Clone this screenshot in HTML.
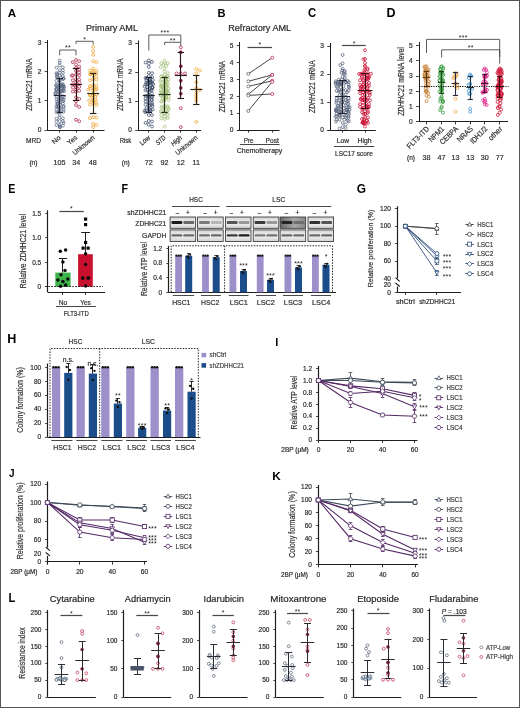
<!DOCTYPE html>
<html><head><meta charset="utf-8"><style>
html,body{margin:0;padding:0;background:#fff;}
body{width:520px;height:708px;overflow:hidden;}
.fig{position:absolute;left:0;top:0;width:520px;height:708px;box-sizing:border-box;border:1px solid #555;}
svg{position:absolute;left:0;top:0;filter:blur(0.3px);}
svg text{font-family:"Liberation Sans", sans-serif;}
</style></head><body>
<div class="fig"></div>
<svg width="520" height="708" viewBox="0 0 520 708">
<defs><filter id="bl" x="-20%" y="-60%" width="140%" height="220%"><feGaussianBlur stdDeviation="0.45"/></filter></defs>
<text transform="translate(7.76 16.55) scale(1.039 1)" font-size="11.19" font-weight="bold" fill="#000">A</text>
<text x="112" y="28" font-size="8.6" text-anchor="middle" fill="#2a2a2a" stroke="#2a2a2a" stroke-width="0.2" textLength="52" lengthAdjust="spacingAndGlyphs" dy="0.35em">Primary AML</text>
<line x1="47.5" y1="40" x2="47.5" y2="130.3" stroke="#1e1e1e" stroke-width="1"/>
<line x1="44.6" y1="130.5" x2="47.6" y2="130.5" stroke="#1e1e1e" stroke-width="0.8"/>
<text x="41.3" y="130" font-size="6.6" text-anchor="end" fill="#2e2e2e" stroke="#2e2e2e" stroke-width="0.2" dy="0.35em">0</text>
<line x1="44.6" y1="100.5" x2="47.6" y2="100.5" stroke="#1e1e1e" stroke-width="0.8"/>
<text x="41.3" y="100.8" font-size="6.6" text-anchor="end" fill="#2e2e2e" stroke="#2e2e2e" stroke-width="0.2" dy="0.35em">1</text>
<line x1="44.6" y1="71.5" x2="47.6" y2="71.5" stroke="#1e1e1e" stroke-width="0.8"/>
<text x="41.3" y="71.6" font-size="6.6" text-anchor="end" fill="#2e2e2e" stroke="#2e2e2e" stroke-width="0.2" dy="0.35em">2</text>
<line x1="44.6" y1="42.5" x2="47.6" y2="42.5" stroke="#1e1e1e" stroke-width="0.8"/>
<text x="41.3" y="42.4" font-size="6.6" text-anchor="end" fill="#2e2e2e" stroke="#2e2e2e" stroke-width="0.2" dy="0.35em">3</text>
<line x1="47.3" y1="130.5" x2="104.5" y2="130.5" stroke="#1e1e1e" stroke-width="1.2"/>
<line x1="59.5" y1="130" x2="59.5" y2="132.6" stroke="#1e1e1e" stroke-width="0.9"/>
<line x1="76.5" y1="130" x2="76.5" y2="132.6" stroke="#1e1e1e" stroke-width="0.9"/>
<line x1="93.5" y1="130" x2="93.5" y2="132.6" stroke="#1e1e1e" stroke-width="0.9"/>
<text x="31.8" y="84.7" font-size="8.5" text-anchor="middle" fill="#333" stroke="#333" stroke-width="0.2" textLength="52.2" lengthAdjust="spacingAndGlyphs" transform="rotate(-90 31.8 84.7)"><tspan font-style="italic">ZDHHC21</tspan> mRNA</text>
<circle cx="59.7" cy="60.5" r="1.45" fill="none" stroke="#5f6e88" stroke-width="0.75"/>
<circle cx="59.7" cy="62.84" r="1.45" fill="none" stroke="#5f6e88" stroke-width="0.75"/>
<circle cx="59.7" cy="65.45" r="1.45" fill="none" stroke="#5f6e88" stroke-width="0.75"/>
<circle cx="62.9" cy="67.33" r="1.45" fill="none" stroke="#5f6e88" stroke-width="0.75"/>
<circle cx="56.5" cy="67.62" r="1.45" fill="none" stroke="#5f6e88" stroke-width="0.75"/>
<circle cx="59.7" cy="70.26" r="1.45" fill="none" stroke="#5f6e88" stroke-width="0.75"/>
<circle cx="62.9" cy="70.3" r="1.45" fill="none" stroke="#5f6e88" stroke-width="0.75"/>
<circle cx="59.7" cy="72.66" r="1.45" fill="none" stroke="#5f6e88" stroke-width="0.75"/>
<circle cx="62.9" cy="72.96" r="1.45" fill="none" stroke="#5f6e88" stroke-width="0.75"/>
<circle cx="56.5" cy="73.09" r="1.45" fill="none" stroke="#5f6e88" stroke-width="0.75"/>
<circle cx="57.13" cy="74.15" r="1.45" fill="none" stroke="#5f6e88" stroke-width="0.75"/>
<circle cx="57.19" cy="74.57" r="1.45" fill="none" stroke="#5f6e88" stroke-width="0.75"/>
<circle cx="59.7" cy="75.47" r="1.45" fill="none" stroke="#5f6e88" stroke-width="0.75"/>
<circle cx="62.9" cy="76.06" r="1.45" fill="none" stroke="#5f6e88" stroke-width="0.75"/>
<circle cx="56.91" cy="76.24" r="1.45" fill="none" stroke="#5f6e88" stroke-width="0.75"/>
<circle cx="56.98" cy="77.38" r="1.45" fill="none" stroke="#5f6e88" stroke-width="0.75"/>
<circle cx="60.84" cy="77.68" r="1.45" fill="none" stroke="#5f6e88" stroke-width="0.75"/>
<circle cx="63.7" cy="78.42" r="1.45" fill="none" stroke="#5f6e88" stroke-width="0.75"/>
<circle cx="63.38" cy="78.81" r="1.45" fill="none" stroke="#5f6e88" stroke-width="0.75"/>
<circle cx="62.83" cy="78.97" r="1.45" fill="none" stroke="#5f6e88" stroke-width="0.75"/>
<circle cx="59.7" cy="80.56" r="1.45" fill="none" stroke="#5f6e88" stroke-width="0.75"/>
<circle cx="56.5" cy="80.79" r="1.45" fill="none" stroke="#5f6e88" stroke-width="0.75"/>
<circle cx="59.51" cy="81.04" r="1.45" fill="none" stroke="#5f6e88" stroke-width="0.75"/>
<circle cx="59.7" cy="83.82" r="1.45" fill="none" stroke="#5f6e88" stroke-width="0.75"/>
<circle cx="62.9" cy="84.16" r="1.45" fill="none" stroke="#5f6e88" stroke-width="0.75"/>
<circle cx="56.5" cy="84.47" r="1.45" fill="none" stroke="#5f6e88" stroke-width="0.75"/>
<circle cx="61.11" cy="84.7" r="1.45" fill="none" stroke="#5f6e88" stroke-width="0.75"/>
<circle cx="62.46" cy="84.76" r="1.45" fill="none" stroke="#5f6e88" stroke-width="0.75"/>
<circle cx="55.88" cy="85.41" r="1.45" fill="none" stroke="#5f6e88" stroke-width="0.75"/>
<circle cx="61.18" cy="85.79" r="1.45" fill="none" stroke="#5f6e88" stroke-width="0.75"/>
<circle cx="63.47" cy="85.87" r="1.45" fill="none" stroke="#5f6e88" stroke-width="0.75"/>
<circle cx="62.3" cy="85.95" r="1.45" fill="none" stroke="#5f6e88" stroke-width="0.75"/>
<circle cx="62" cy="86.26" r="1.45" fill="none" stroke="#5f6e88" stroke-width="0.75"/>
<circle cx="59.5" cy="86.42" r="1.45" fill="none" stroke="#5f6e88" stroke-width="0.75"/>
<circle cx="56.74" cy="86.46" r="1.45" fill="none" stroke="#5f6e88" stroke-width="0.75"/>
<circle cx="62.36" cy="86.58" r="1.45" fill="none" stroke="#5f6e88" stroke-width="0.75"/>
<circle cx="58.16" cy="86.67" r="1.45" fill="none" stroke="#5f6e88" stroke-width="0.75"/>
<circle cx="62.47" cy="86.8" r="1.45" fill="none" stroke="#5f6e88" stroke-width="0.75"/>
<circle cx="64.04" cy="86.83" r="1.45" fill="none" stroke="#5f6e88" stroke-width="0.75"/>
<circle cx="58.74" cy="87.93" r="1.45" fill="none" stroke="#5f6e88" stroke-width="0.75"/>
<circle cx="58.79" cy="88.07" r="1.45" fill="none" stroke="#5f6e88" stroke-width="0.75"/>
<circle cx="63.81" cy="88.11" r="1.45" fill="none" stroke="#5f6e88" stroke-width="0.75"/>
<circle cx="61.77" cy="88.63" r="1.45" fill="none" stroke="#5f6e88" stroke-width="0.75"/>
<circle cx="56.66" cy="88.64" r="1.45" fill="none" stroke="#5f6e88" stroke-width="0.75"/>
<circle cx="56.27" cy="89.2" r="1.45" fill="none" stroke="#5f6e88" stroke-width="0.75"/>
<circle cx="56.49" cy="89.28" r="1.45" fill="none" stroke="#5f6e88" stroke-width="0.75"/>
<circle cx="63.42" cy="89.85" r="1.45" fill="none" stroke="#5f6e88" stroke-width="0.75"/>
<circle cx="62.52" cy="90.14" r="1.45" fill="none" stroke="#5f6e88" stroke-width="0.75"/>
<circle cx="56.44" cy="90.19" r="1.45" fill="none" stroke="#5f6e88" stroke-width="0.75"/>
<circle cx="59.7" cy="91.18" r="1.45" fill="none" stroke="#5f6e88" stroke-width="0.75"/>
<circle cx="62.7" cy="91.19" r="1.45" fill="none" stroke="#5f6e88" stroke-width="0.75"/>
<circle cx="64.12" cy="91.24" r="1.45" fill="none" stroke="#5f6e88" stroke-width="0.75"/>
<circle cx="61.15" cy="91.26" r="1.45" fill="none" stroke="#5f6e88" stroke-width="0.75"/>
<circle cx="58.32" cy="91.35" r="1.45" fill="none" stroke="#5f6e88" stroke-width="0.75"/>
<circle cx="60.15" cy="92.3" r="1.45" fill="none" stroke="#5f6e88" stroke-width="0.75"/>
<circle cx="55.7" cy="92.79" r="1.45" fill="none" stroke="#5f6e88" stroke-width="0.75"/>
<circle cx="56.31" cy="93.43" r="1.45" fill="none" stroke="#5f6e88" stroke-width="0.75"/>
<circle cx="55.23" cy="93.45" r="1.45" fill="none" stroke="#5f6e88" stroke-width="0.75"/>
<circle cx="59.7" cy="94.69" r="1.45" fill="none" stroke="#5f6e88" stroke-width="0.75"/>
<circle cx="62.9" cy="96.35" r="1.45" fill="none" stroke="#5f6e88" stroke-width="0.75"/>
<circle cx="56.5" cy="96.64" r="1.45" fill="none" stroke="#5f6e88" stroke-width="0.75"/>
<circle cx="59.7" cy="97.4" r="1.45" fill="none" stroke="#5f6e88" stroke-width="0.75"/>
<circle cx="64.03" cy="97.41" r="1.45" fill="none" stroke="#5f6e88" stroke-width="0.75"/>
<circle cx="61.08" cy="98.17" r="1.45" fill="none" stroke="#5f6e88" stroke-width="0.75"/>
<circle cx="59.94" cy="98.77" r="1.45" fill="none" stroke="#5f6e88" stroke-width="0.75"/>
<circle cx="56.5" cy="99.28" r="1.45" fill="none" stroke="#5f6e88" stroke-width="0.75"/>
<circle cx="63.69" cy="99.51" r="1.45" fill="none" stroke="#5f6e88" stroke-width="0.75"/>
<circle cx="59.09" cy="100.03" r="1.45" fill="none" stroke="#5f6e88" stroke-width="0.75"/>
<circle cx="63.12" cy="101.06" r="1.45" fill="none" stroke="#5f6e88" stroke-width="0.75"/>
<circle cx="62.7" cy="101.18" r="1.45" fill="none" stroke="#5f6e88" stroke-width="0.75"/>
<circle cx="57.04" cy="101.57" r="1.45" fill="none" stroke="#5f6e88" stroke-width="0.75"/>
<circle cx="59.7" cy="102.81" r="1.45" fill="none" stroke="#5f6e88" stroke-width="0.75"/>
<circle cx="57.42" cy="103.38" r="1.45" fill="none" stroke="#5f6e88" stroke-width="0.75"/>
<circle cx="57.8" cy="103.48" r="1.45" fill="none" stroke="#5f6e88" stroke-width="0.75"/>
<circle cx="62.9" cy="103.75" r="1.45" fill="none" stroke="#5f6e88" stroke-width="0.75"/>
<circle cx="57.31" cy="104.66" r="1.45" fill="none" stroke="#5f6e88" stroke-width="0.75"/>
<circle cx="60.5" cy="104.85" r="1.45" fill="none" stroke="#5f6e88" stroke-width="0.75"/>
<circle cx="63.7" cy="106.26" r="1.45" fill="none" stroke="#5f6e88" stroke-width="0.75"/>
<circle cx="57.49" cy="106.41" r="1.45" fill="none" stroke="#5f6e88" stroke-width="0.75"/>
<circle cx="58.95" cy="106.65" r="1.45" fill="none" stroke="#5f6e88" stroke-width="0.75"/>
<circle cx="56.31" cy="106.8" r="1.45" fill="none" stroke="#5f6e88" stroke-width="0.75"/>
<circle cx="63.47" cy="107.13" r="1.45" fill="none" stroke="#5f6e88" stroke-width="0.75"/>
<circle cx="58.35" cy="107.13" r="1.45" fill="none" stroke="#5f6e88" stroke-width="0.75"/>
<circle cx="59.32" cy="108.44" r="1.45" fill="none" stroke="#5f6e88" stroke-width="0.75"/>
<circle cx="60.47" cy="108.5" r="1.45" fill="none" stroke="#5f6e88" stroke-width="0.75"/>
<circle cx="56.5" cy="109.7" r="1.45" fill="none" stroke="#5f6e88" stroke-width="0.75"/>
<circle cx="63.7" cy="109.86" r="1.45" fill="none" stroke="#5f6e88" stroke-width="0.75"/>
<circle cx="59.7" cy="111.13" r="1.45" fill="none" stroke="#5f6e88" stroke-width="0.75"/>
<circle cx="63.42" cy="111.84" r="1.45" fill="none" stroke="#5f6e88" stroke-width="0.75"/>
<circle cx="56.5" cy="112.31" r="1.45" fill="none" stroke="#5f6e88" stroke-width="0.75"/>
<circle cx="58.97" cy="112.5" r="1.45" fill="none" stroke="#5f6e88" stroke-width="0.75"/>
<circle cx="59.7" cy="115.16" r="1.45" fill="none" stroke="#5f6e88" stroke-width="0.75"/>
<circle cx="59.7" cy="117.7" r="1.45" fill="none" stroke="#5f6e88" stroke-width="0.75"/>
<circle cx="62.9" cy="118.31" r="1.45" fill="none" stroke="#5f6e88" stroke-width="0.75"/>
<circle cx="56.5" cy="118.52" r="1.45" fill="none" stroke="#5f6e88" stroke-width="0.75"/>
<circle cx="59.7" cy="121.08" r="1.45" fill="none" stroke="#5f6e88" stroke-width="0.75"/>
<circle cx="62.9" cy="121.2" r="1.45" fill="none" stroke="#5f6e88" stroke-width="0.75"/>
<circle cx="56.5" cy="121.64" r="1.45" fill="none" stroke="#5f6e88" stroke-width="0.75"/>
<circle cx="63.54" cy="123.02" r="1.45" fill="none" stroke="#5f6e88" stroke-width="0.75"/>
<circle cx="59.7" cy="124.73" r="1.45" fill="none" stroke="#5f6e88" stroke-width="0.75"/>
<circle cx="56.5" cy="125.18" r="1.45" fill="none" stroke="#5f6e88" stroke-width="0.75"/>
<circle cx="62.9" cy="125.62" r="1.45" fill="none" stroke="#5f6e88" stroke-width="0.75"/>
<circle cx="59.72" cy="126.1" r="1.45" fill="none" stroke="#5f6e88" stroke-width="0.75"/>
<circle cx="59.99" cy="127.08" r="1.45" fill="none" stroke="#5f6e88" stroke-width="0.75"/>
<circle cx="59.92" cy="127.28" r="1.45" fill="none" stroke="#5f6e88" stroke-width="0.75"/>
<circle cx="76" cy="59.92" r="1.45" fill="none" stroke="#b0244a" stroke-width="0.75"/>
<circle cx="79.2" cy="61.2" r="1.45" fill="none" stroke="#b0244a" stroke-width="0.75"/>
<circle cx="72.8" cy="62.18" r="1.45" fill="none" stroke="#b0244a" stroke-width="0.75"/>
<circle cx="76" cy="64.49" r="1.45" fill="none" stroke="#b0244a" stroke-width="0.75"/>
<circle cx="79.2" cy="66.61" r="1.45" fill="none" stroke="#b0244a" stroke-width="0.75"/>
<circle cx="76" cy="68.01" r="1.45" fill="none" stroke="#b0244a" stroke-width="0.75"/>
<circle cx="79.2" cy="69.54" r="1.45" fill="none" stroke="#b0244a" stroke-width="0.75"/>
<circle cx="76" cy="70.94" r="1.45" fill="none" stroke="#b0244a" stroke-width="0.75"/>
<circle cx="79.2" cy="72.47" r="1.45" fill="none" stroke="#b0244a" stroke-width="0.75"/>
<circle cx="76" cy="74.6" r="1.45" fill="none" stroke="#b0244a" stroke-width="0.75"/>
<circle cx="79.2" cy="75.5" r="1.45" fill="none" stroke="#b0244a" stroke-width="0.75"/>
<circle cx="72.8" cy="75.54" r="1.45" fill="none" stroke="#b0244a" stroke-width="0.75"/>
<circle cx="71.76" cy="75.65" r="1.45" fill="none" stroke="#b0244a" stroke-width="0.75"/>
<circle cx="76" cy="79.2" r="1.45" fill="none" stroke="#b0244a" stroke-width="0.75"/>
<circle cx="79.2" cy="79.52" r="1.45" fill="none" stroke="#b0244a" stroke-width="0.75"/>
<circle cx="72.8" cy="80.28" r="1.45" fill="none" stroke="#b0244a" stroke-width="0.75"/>
<circle cx="76" cy="82.29" r="1.45" fill="none" stroke="#b0244a" stroke-width="0.75"/>
<circle cx="79.2" cy="82.45" r="1.45" fill="none" stroke="#b0244a" stroke-width="0.75"/>
<circle cx="72.8" cy="84.31" r="1.45" fill="none" stroke="#b0244a" stroke-width="0.75"/>
<circle cx="76" cy="84.73" r="1.45" fill="none" stroke="#b0244a" stroke-width="0.75"/>
<circle cx="79.2" cy="86.9" r="1.45" fill="none" stroke="#b0244a" stroke-width="0.75"/>
<circle cx="76" cy="87.13" r="1.45" fill="none" stroke="#b0244a" stroke-width="0.75"/>
<circle cx="72.8" cy="87.57" r="1.45" fill="none" stroke="#b0244a" stroke-width="0.75"/>
<circle cx="76" cy="89.53" r="1.45" fill="none" stroke="#b0244a" stroke-width="0.75"/>
<circle cx="79.2" cy="90.72" r="1.45" fill="none" stroke="#b0244a" stroke-width="0.75"/>
<circle cx="72.8" cy="91.61" r="1.45" fill="none" stroke="#b0244a" stroke-width="0.75"/>
<circle cx="76" cy="91.88" r="1.45" fill="none" stroke="#b0244a" stroke-width="0.75"/>
<circle cx="76" cy="97.38" r="1.45" fill="none" stroke="#b0244a" stroke-width="0.75"/>
<circle cx="79.2" cy="98.88" r="1.45" fill="none" stroke="#b0244a" stroke-width="0.75"/>
<circle cx="76" cy="101.23" r="1.45" fill="none" stroke="#b0244a" stroke-width="0.75"/>
<circle cx="76" cy="105.11" r="1.45" fill="none" stroke="#b0244a" stroke-width="0.75"/>
<circle cx="79.2" cy="106.9" r="1.45" fill="none" stroke="#b0244a" stroke-width="0.75"/>
<circle cx="76" cy="119.78" r="1.45" fill="none" stroke="#b0244a" stroke-width="0.75"/>
<circle cx="79.2" cy="121.24" r="1.45" fill="none" stroke="#b0244a" stroke-width="0.75"/>
<circle cx="93.2" cy="46.78" r="1.45" fill="none" stroke="#eea028" stroke-width="0.75"/>
<circle cx="93.2" cy="51.16" r="1.45" fill="none" stroke="#eea028" stroke-width="0.75"/>
<circle cx="93.2" cy="54.87" r="1.45" fill="none" stroke="#eea028" stroke-width="0.75"/>
<circle cx="93.2" cy="61.26" r="1.45" fill="none" stroke="#eea028" stroke-width="0.75"/>
<circle cx="96.4" cy="62.15" r="1.45" fill="none" stroke="#eea028" stroke-width="0.75"/>
<circle cx="93.2" cy="68.38" r="1.45" fill="none" stroke="#eea028" stroke-width="0.75"/>
<circle cx="96.4" cy="70.55" r="1.45" fill="none" stroke="#eea028" stroke-width="0.75"/>
<circle cx="90" cy="70.61" r="1.45" fill="none" stroke="#eea028" stroke-width="0.75"/>
<circle cx="93.2" cy="71.46" r="1.45" fill="none" stroke="#eea028" stroke-width="0.75"/>
<circle cx="92.63" cy="72.3" r="1.45" fill="none" stroke="#eea028" stroke-width="0.75"/>
<circle cx="96.4" cy="73.45" r="1.45" fill="none" stroke="#eea028" stroke-width="0.75"/>
<circle cx="90" cy="74.08" r="1.45" fill="none" stroke="#eea028" stroke-width="0.75"/>
<circle cx="90.16" cy="74.27" r="1.45" fill="none" stroke="#eea028" stroke-width="0.75"/>
<circle cx="93.2" cy="75.5" r="1.45" fill="none" stroke="#eea028" stroke-width="0.75"/>
<circle cx="96.4" cy="76.74" r="1.45" fill="none" stroke="#eea028" stroke-width="0.75"/>
<circle cx="93.2" cy="79.14" r="1.45" fill="none" stroke="#eea028" stroke-width="0.75"/>
<circle cx="96.4" cy="79.73" r="1.45" fill="none" stroke="#eea028" stroke-width="0.75"/>
<circle cx="90" cy="80.4" r="1.45" fill="none" stroke="#eea028" stroke-width="0.75"/>
<circle cx="93.2" cy="85.13" r="1.45" fill="none" stroke="#eea028" stroke-width="0.75"/>
<circle cx="96.4" cy="85.39" r="1.45" fill="none" stroke="#eea028" stroke-width="0.75"/>
<circle cx="90" cy="86.03" r="1.45" fill="none" stroke="#eea028" stroke-width="0.75"/>
<circle cx="93.2" cy="87.57" r="1.45" fill="none" stroke="#eea028" stroke-width="0.75"/>
<circle cx="96.4" cy="88.37" r="1.45" fill="none" stroke="#eea028" stroke-width="0.75"/>
<circle cx="90" cy="88.48" r="1.45" fill="none" stroke="#eea028" stroke-width="0.75"/>
<circle cx="88.44" cy="89.48" r="1.45" fill="none" stroke="#eea028" stroke-width="0.75"/>
<circle cx="96.07" cy="89.8" r="1.45" fill="none" stroke="#eea028" stroke-width="0.75"/>
<circle cx="93.2" cy="90.53" r="1.45" fill="none" stroke="#eea028" stroke-width="0.75"/>
<circle cx="93.2" cy="93.78" r="1.45" fill="none" stroke="#eea028" stroke-width="0.75"/>
<circle cx="96.4" cy="94.82" r="1.45" fill="none" stroke="#eea028" stroke-width="0.75"/>
<circle cx="90" cy="94.9" r="1.45" fill="none" stroke="#eea028" stroke-width="0.75"/>
<circle cx="90.05" cy="95.36" r="1.45" fill="none" stroke="#eea028" stroke-width="0.75"/>
<circle cx="92.95" cy="95.59" r="1.45" fill="none" stroke="#eea028" stroke-width="0.75"/>
<circle cx="95.36" cy="96.64" r="1.45" fill="none" stroke="#eea028" stroke-width="0.75"/>
<circle cx="92.4" cy="98.24" r="1.45" fill="none" stroke="#eea028" stroke-width="0.75"/>
<circle cx="95.6" cy="99.68" r="1.45" fill="none" stroke="#eea028" stroke-width="0.75"/>
<circle cx="92.4" cy="100.58" r="1.45" fill="none" stroke="#eea028" stroke-width="0.75"/>
<circle cx="89.2" cy="100.67" r="1.45" fill="none" stroke="#eea028" stroke-width="0.75"/>
<circle cx="93.74" cy="100.93" r="1.45" fill="none" stroke="#eea028" stroke-width="0.75"/>
<circle cx="96.4" cy="102.56" r="1.45" fill="none" stroke="#eea028" stroke-width="0.75"/>
<circle cx="93.2" cy="103.74" r="1.45" fill="none" stroke="#eea028" stroke-width="0.75"/>
<circle cx="90" cy="104.48" r="1.45" fill="none" stroke="#eea028" stroke-width="0.75"/>
<circle cx="96.4" cy="105.15" r="1.45" fill="none" stroke="#eea028" stroke-width="0.75"/>
<circle cx="93.2" cy="117.13" r="1.45" fill="none" stroke="#eea028" stroke-width="0.75"/>
<circle cx="96.4" cy="117.61" r="1.45" fill="none" stroke="#eea028" stroke-width="0.75"/>
<circle cx="90" cy="118.07" r="1.45" fill="none" stroke="#eea028" stroke-width="0.75"/>
<circle cx="93.2" cy="123.93" r="1.45" fill="none" stroke="#eea028" stroke-width="0.75"/>
<circle cx="96.4" cy="124.87" r="1.45" fill="none" stroke="#eea028" stroke-width="0.75"/>
<circle cx="93.2" cy="127.08" r="1.45" fill="none" stroke="#eea028" stroke-width="0.75"/>
<line x1="59.5" y1="78.61" x2="59.5" y2="112.48" stroke="#1e2430" stroke-width="1.15"/>
<line x1="56.5" y1="78.5" x2="62.9" y2="78.5" stroke="#1e2430" stroke-width="1.15"/>
<line x1="56.5" y1="112.5" x2="62.9" y2="112.5" stroke="#1e2430" stroke-width="1.15"/>
<line x1="53.7" y1="95.5" x2="65.7" y2="95.5" stroke="#1e2430" stroke-width="1.15"/>
<line x1="76.5" y1="68.68" x2="76.5" y2="100.8" stroke="#2a1018" stroke-width="1.15"/>
<line x1="72.8" y1="68.5" x2="79.2" y2="68.5" stroke="#2a1018" stroke-width="1.15"/>
<line x1="72.8" y1="100.5" x2="79.2" y2="100.5" stroke="#2a1018" stroke-width="1.15"/>
<line x1="70" y1="84.5" x2="82" y2="84.5" stroke="#2a1018" stroke-width="1.15"/>
<line x1="93.5" y1="73.06" x2="93.5" y2="113.94" stroke="#2a2418" stroke-width="1.15"/>
<line x1="90" y1="73.5" x2="96.4" y2="73.5" stroke="#2a2418" stroke-width="1.15"/>
<line x1="90" y1="113.5" x2="96.4" y2="113.5" stroke="#2a2418" stroke-width="1.15"/>
<line x1="87.2" y1="93.5" x2="99.2" y2="93.5" stroke="#2a2418" stroke-width="1.15"/>
<polyline points="59.7,55.3 59.7,50 76,50 76,55.3" stroke="#333" stroke-width="0.8" fill="none"/>
<text x="67.97" y="50.2" font-size="7" text-anchor="middle" fill="#222" letter-spacing="0.25">**</text>
<polyline points="76,44 76,41.3 93.2,41.3 93.2,44.4" stroke="#333" stroke-width="0.8" fill="none"/>
<text x="84.72" y="41.5" font-size="7" text-anchor="middle" fill="#222" letter-spacing="0.25">*</text>
<text x="33.5" y="140.3" font-size="6.8" text-anchor="middle" fill="#2e2e2e" stroke="#2e2e2e" stroke-width="0.2" textLength="15" lengthAdjust="spacingAndGlyphs" dy="0.35em">MRD</text>
<text x="58.2" y="134.8" font-size="6.9" text-anchor="end" fill="#2e2e2e" stroke="#2e2e2e" stroke-width="0.2" textLength="9.2" lengthAdjust="spacingAndGlyphs" dy="0.7em" transform="rotate(-40 58.2 134.8)">No</text>
<text x="74.6" y="134.8" font-size="6.9" text-anchor="end" fill="#2e2e2e" stroke="#2e2e2e" stroke-width="0.2" textLength="10.6" lengthAdjust="spacingAndGlyphs" dy="0.7em" transform="rotate(-40 74.6 134.8)">Yes</text>
<text x="92.2" y="134.8" font-size="6.9" text-anchor="end" fill="#2e2e2e" stroke="#2e2e2e" stroke-width="0.2" textLength="26.5" lengthAdjust="spacingAndGlyphs" dy="0.7em" transform="rotate(-40 92.2 134.8)">Unknown</text>
<text x="33.4" y="162.3" font-size="6.5" text-anchor="middle" fill="#2e2e2e" stroke="#2e2e2e" stroke-width="0.2" dy="0.35em">(n)</text>
<text x="59.6" y="162.3" font-size="7.2" text-anchor="middle" fill="#2e2e2e" stroke="#2e2e2e" stroke-width="0.2" dy="0.35em">105</text>
<text x="76.2" y="162.3" font-size="7.2" text-anchor="middle" fill="#2e2e2e" stroke="#2e2e2e" stroke-width="0.2" dy="0.35em">34</text>
<text x="92.8" y="162.3" font-size="7.2" text-anchor="middle" fill="#2e2e2e" stroke="#2e2e2e" stroke-width="0.2" dy="0.35em">48</text>
<line x1="138.5" y1="40.5" x2="138.5" y2="130.3" stroke="#1e1e1e" stroke-width="1"/>
<line x1="135.2" y1="130.5" x2="138.2" y2="130.5" stroke="#1e1e1e" stroke-width="0.8"/>
<text x="131.9" y="130" font-size="6.6" text-anchor="end" fill="#2e2e2e" stroke="#2e2e2e" stroke-width="0.2" dy="0.35em">0</text>
<line x1="135.2" y1="101.5" x2="138.2" y2="101.5" stroke="#1e1e1e" stroke-width="0.8"/>
<text x="131.9" y="101" font-size="6.6" text-anchor="end" fill="#2e2e2e" stroke="#2e2e2e" stroke-width="0.2" dy="0.35em">1</text>
<line x1="135.2" y1="72.5" x2="138.2" y2="72.5" stroke="#1e1e1e" stroke-width="0.8"/>
<text x="131.9" y="72" font-size="6.6" text-anchor="end" fill="#2e2e2e" stroke="#2e2e2e" stroke-width="0.2" dy="0.35em">2</text>
<line x1="135.2" y1="43.5" x2="138.2" y2="43.5" stroke="#1e1e1e" stroke-width="0.8"/>
<text x="131.9" y="43" font-size="6.6" text-anchor="end" fill="#2e2e2e" stroke="#2e2e2e" stroke-width="0.2" dy="0.35em">3</text>
<line x1="138.2" y1="130.5" x2="201" y2="130.5" stroke="#1e1e1e" stroke-width="1.2"/>
<line x1="148.5" y1="130" x2="148.5" y2="132.6" stroke="#1e1e1e" stroke-width="0.9"/>
<line x1="164.5" y1="130" x2="164.5" y2="132.6" stroke="#1e1e1e" stroke-width="0.9"/>
<line x1="180.5" y1="130" x2="180.5" y2="132.6" stroke="#1e1e1e" stroke-width="0.9"/>
<line x1="196.5" y1="130" x2="196.5" y2="132.6" stroke="#1e1e1e" stroke-width="0.9"/>
<text x="122.9" y="84.7" font-size="8.5" text-anchor="middle" fill="#333" stroke="#333" stroke-width="0.2" textLength="52.2" lengthAdjust="spacingAndGlyphs" transform="rotate(-90 122.9 84.7)"><tspan font-style="italic">ZDHHC21</tspan> mRNA</text>
<circle cx="180.8" cy="52.28" r="1.45" fill="#8a1a38" stroke="#8a1a38" stroke-width="0.7"/>
<circle cx="180.8" cy="66.2" r="1.45" fill="#8a1a38" stroke="#8a1a38" stroke-width="0.7"/>
<circle cx="180.8" cy="80.7" r="1.45" fill="#8a1a38" stroke="#8a1a38" stroke-width="0.7"/>
<circle cx="180.8" cy="87.95" r="1.45" fill="#8a1a38" stroke="#8a1a38" stroke-width="0.7"/>
<circle cx="180.8" cy="93.75" r="1.45" fill="#8a1a38" stroke="#8a1a38" stroke-width="0.7"/>
<circle cx="176.6" cy="73.45" r="1.45" fill="#fff" stroke="#b8284f" stroke-width="0.8"/>
<circle cx="180.8" cy="73.45" r="1.45" fill="#fff" stroke="#b8284f" stroke-width="0.8"/>
<circle cx="185" cy="73.45" r="1.45" fill="#fff" stroke="#b8284f" stroke-width="0.8"/>
<circle cx="148.8" cy="60.4" r="1.45" fill="none" stroke="#3d4c6a" stroke-width="0.75"/>
<circle cx="152" cy="61.85" r="1.45" fill="none" stroke="#3d4c6a" stroke-width="0.75"/>
<circle cx="145.6" cy="62.56" r="1.45" fill="none" stroke="#3d4c6a" stroke-width="0.75"/>
<circle cx="148.8" cy="63.47" r="1.45" fill="none" stroke="#3d4c6a" stroke-width="0.75"/>
<circle cx="148.8" cy="66.87" r="1.45" fill="none" stroke="#3d4c6a" stroke-width="0.75"/>
<circle cx="148.8" cy="72.77" r="1.45" fill="none" stroke="#3d4c6a" stroke-width="0.75"/>
<circle cx="152" cy="73.18" r="1.45" fill="none" stroke="#3d4c6a" stroke-width="0.75"/>
<circle cx="148.8" cy="76.03" r="1.45" fill="none" stroke="#3d4c6a" stroke-width="0.75"/>
<circle cx="152" cy="77.14" r="1.45" fill="none" stroke="#3d4c6a" stroke-width="0.75"/>
<circle cx="145.6" cy="77.82" r="1.45" fill="none" stroke="#3d4c6a" stroke-width="0.75"/>
<circle cx="147" cy="78.26" r="1.45" fill="none" stroke="#3d4c6a" stroke-width="0.75"/>
<circle cx="149.6" cy="79.68" r="1.45" fill="none" stroke="#3d4c6a" stroke-width="0.75"/>
<circle cx="152.8" cy="80.02" r="1.45" fill="none" stroke="#3d4c6a" stroke-width="0.75"/>
<circle cx="146.34" cy="80.12" r="1.45" fill="none" stroke="#3d4c6a" stroke-width="0.75"/>
<circle cx="149.59" cy="80.2" r="1.45" fill="none" stroke="#3d4c6a" stroke-width="0.75"/>
<circle cx="149.07" cy="81.32" r="1.45" fill="none" stroke="#3d4c6a" stroke-width="0.75"/>
<circle cx="151.1" cy="81.66" r="1.45" fill="none" stroke="#3d4c6a" stroke-width="0.75"/>
<circle cx="150.25" cy="81.87" r="1.45" fill="none" stroke="#3d4c6a" stroke-width="0.75"/>
<circle cx="150.79" cy="82.08" r="1.45" fill="none" stroke="#3d4c6a" stroke-width="0.75"/>
<circle cx="146.4" cy="82.63" r="1.45" fill="none" stroke="#3d4c6a" stroke-width="0.75"/>
<circle cx="152.29" cy="83.01" r="1.45" fill="none" stroke="#3d4c6a" stroke-width="0.75"/>
<circle cx="147.78" cy="83.6" r="1.45" fill="none" stroke="#3d4c6a" stroke-width="0.75"/>
<circle cx="147.2" cy="83.99" r="1.45" fill="none" stroke="#3d4c6a" stroke-width="0.75"/>
<circle cx="153.26" cy="84.1" r="1.45" fill="none" stroke="#3d4c6a" stroke-width="0.75"/>
<circle cx="145.58" cy="84.48" r="1.45" fill="none" stroke="#3d4c6a" stroke-width="0.75"/>
<circle cx="150.86" cy="84.75" r="1.45" fill="none" stroke="#3d4c6a" stroke-width="0.75"/>
<circle cx="150.12" cy="85.76" r="1.45" fill="none" stroke="#3d4c6a" stroke-width="0.75"/>
<circle cx="144.6" cy="86.41" r="1.45" fill="none" stroke="#3d4c6a" stroke-width="0.75"/>
<circle cx="147.2" cy="87.11" r="1.45" fill="none" stroke="#3d4c6a" stroke-width="0.75"/>
<circle cx="152.8" cy="87.31" r="1.45" fill="none" stroke="#3d4c6a" stroke-width="0.75"/>
<circle cx="151.88" cy="87.61" r="1.45" fill="none" stroke="#3d4c6a" stroke-width="0.75"/>
<circle cx="152.41" cy="88.01" r="1.45" fill="none" stroke="#3d4c6a" stroke-width="0.75"/>
<circle cx="149.97" cy="89.08" r="1.45" fill="none" stroke="#3d4c6a" stroke-width="0.75"/>
<circle cx="147.2" cy="89.69" r="1.45" fill="none" stroke="#3d4c6a" stroke-width="0.75"/>
<circle cx="150.95" cy="89.71" r="1.45" fill="none" stroke="#3d4c6a" stroke-width="0.75"/>
<circle cx="151.67" cy="90.28" r="1.45" fill="none" stroke="#3d4c6a" stroke-width="0.75"/>
<circle cx="145.48" cy="90.3" r="1.45" fill="none" stroke="#3d4c6a" stroke-width="0.75"/>
<circle cx="148.8" cy="92.41" r="1.45" fill="none" stroke="#3d4c6a" stroke-width="0.75"/>
<circle cx="152" cy="93.49" r="1.45" fill="none" stroke="#3d4c6a" stroke-width="0.75"/>
<circle cx="148.8" cy="95.07" r="1.45" fill="none" stroke="#3d4c6a" stroke-width="0.75"/>
<circle cx="145.6" cy="95.78" r="1.45" fill="none" stroke="#3d4c6a" stroke-width="0.75"/>
<circle cx="152" cy="96.34" r="1.45" fill="none" stroke="#3d4c6a" stroke-width="0.75"/>
<circle cx="149.02" cy="96.7" r="1.45" fill="none" stroke="#3d4c6a" stroke-width="0.75"/>
<circle cx="148.84" cy="97.17" r="1.45" fill="none" stroke="#3d4c6a" stroke-width="0.75"/>
<circle cx="151.88" cy="97.22" r="1.45" fill="none" stroke="#3d4c6a" stroke-width="0.75"/>
<circle cx="145.6" cy="98.49" r="1.45" fill="none" stroke="#3d4c6a" stroke-width="0.75"/>
<circle cx="148.8" cy="99.67" r="1.45" fill="none" stroke="#3d4c6a" stroke-width="0.75"/>
<circle cx="152" cy="99.83" r="1.45" fill="none" stroke="#3d4c6a" stroke-width="0.75"/>
<circle cx="151.6" cy="100.19" r="1.45" fill="none" stroke="#3d4c6a" stroke-width="0.75"/>
<circle cx="145.6" cy="101.24" r="1.45" fill="none" stroke="#3d4c6a" stroke-width="0.75"/>
<circle cx="148.8" cy="102.91" r="1.45" fill="none" stroke="#3d4c6a" stroke-width="0.75"/>
<circle cx="152" cy="103.1" r="1.45" fill="none" stroke="#3d4c6a" stroke-width="0.75"/>
<circle cx="145.6" cy="104.54" r="1.45" fill="none" stroke="#3d4c6a" stroke-width="0.75"/>
<circle cx="151.8" cy="104.71" r="1.45" fill="none" stroke="#3d4c6a" stroke-width="0.75"/>
<circle cx="148.8" cy="105.26" r="1.45" fill="none" stroke="#3d4c6a" stroke-width="0.75"/>
<circle cx="149.57" cy="105.95" r="1.45" fill="none" stroke="#3d4c6a" stroke-width="0.75"/>
<circle cx="152.41" cy="105.99" r="1.45" fill="none" stroke="#3d4c6a" stroke-width="0.75"/>
<circle cx="146.4" cy="108.17" r="1.45" fill="none" stroke="#3d4c6a" stroke-width="0.75"/>
<circle cx="149.6" cy="109.36" r="1.45" fill="none" stroke="#3d4c6a" stroke-width="0.75"/>
<circle cx="152.8" cy="109.55" r="1.45" fill="none" stroke="#3d4c6a" stroke-width="0.75"/>
<circle cx="150.48" cy="109.92" r="1.45" fill="none" stroke="#3d4c6a" stroke-width="0.75"/>
<circle cx="150.58" cy="110.38" r="1.45" fill="none" stroke="#3d4c6a" stroke-width="0.75"/>
<circle cx="146.32" cy="110.44" r="1.45" fill="none" stroke="#3d4c6a" stroke-width="0.75"/>
<circle cx="144.49" cy="110.8" r="1.45" fill="none" stroke="#3d4c6a" stroke-width="0.75"/>
<circle cx="145.42" cy="112.29" r="1.45" fill="none" stroke="#3d4c6a" stroke-width="0.75"/>
<circle cx="148.8" cy="115.03" r="1.45" fill="none" stroke="#3d4c6a" stroke-width="0.75"/>
<circle cx="152" cy="115.04" r="1.45" fill="none" stroke="#3d4c6a" stroke-width="0.75"/>
<circle cx="148.8" cy="120.96" r="1.45" fill="none" stroke="#3d4c6a" stroke-width="0.75"/>
<circle cx="152" cy="121.51" r="1.45" fill="none" stroke="#3d4c6a" stroke-width="0.75"/>
<circle cx="145.6" cy="122.89" r="1.45" fill="none" stroke="#3d4c6a" stroke-width="0.75"/>
<circle cx="148.8" cy="124.77" r="1.45" fill="none" stroke="#3d4c6a" stroke-width="0.75"/>
<circle cx="152" cy="126.52" r="1.45" fill="none" stroke="#3d4c6a" stroke-width="0.75"/>
<circle cx="164.6" cy="60.4" r="1.45" fill="none" stroke="#a6c07a" stroke-width="0.75"/>
<circle cx="164.6" cy="62.94" r="1.45" fill="none" stroke="#a6c07a" stroke-width="0.75"/>
<circle cx="167.8" cy="63.14" r="1.45" fill="none" stroke="#a6c07a" stroke-width="0.75"/>
<circle cx="161.4" cy="63.3" r="1.45" fill="none" stroke="#a6c07a" stroke-width="0.75"/>
<circle cx="163.43" cy="64.99" r="1.45" fill="none" stroke="#a6c07a" stroke-width="0.75"/>
<circle cx="166.2" cy="65.83" r="1.45" fill="none" stroke="#a6c07a" stroke-width="0.75"/>
<circle cx="160.6" cy="67.16" r="1.45" fill="none" stroke="#a6c07a" stroke-width="0.75"/>
<circle cx="164.6" cy="68.8" r="1.45" fill="none" stroke="#a6c07a" stroke-width="0.75"/>
<circle cx="164.6" cy="71.56" r="1.45" fill="none" stroke="#a6c07a" stroke-width="0.75"/>
<circle cx="167.8" cy="73.04" r="1.45" fill="none" stroke="#a6c07a" stroke-width="0.75"/>
<circle cx="164.6" cy="74.96" r="1.45" fill="none" stroke="#a6c07a" stroke-width="0.75"/>
<circle cx="167.8" cy="76.02" r="1.45" fill="none" stroke="#a6c07a" stroke-width="0.75"/>
<circle cx="161.4" cy="76.29" r="1.45" fill="none" stroke="#a6c07a" stroke-width="0.75"/>
<circle cx="161.28" cy="76.57" r="1.45" fill="none" stroke="#a6c07a" stroke-width="0.75"/>
<circle cx="167.42" cy="76.81" r="1.45" fill="none" stroke="#a6c07a" stroke-width="0.75"/>
<circle cx="164.6" cy="77.41" r="1.45" fill="none" stroke="#a6c07a" stroke-width="0.75"/>
<circle cx="165.09" cy="77.56" r="1.45" fill="none" stroke="#a6c07a" stroke-width="0.75"/>
<circle cx="165.67" cy="77.72" r="1.45" fill="none" stroke="#a6c07a" stroke-width="0.75"/>
<circle cx="165.66" cy="78.82" r="1.45" fill="none" stroke="#a6c07a" stroke-width="0.75"/>
<circle cx="161.4" cy="79.41" r="1.45" fill="none" stroke="#a6c07a" stroke-width="0.75"/>
<circle cx="168.6" cy="79.77" r="1.45" fill="none" stroke="#a6c07a" stroke-width="0.75"/>
<circle cx="166.12" cy="80.52" r="1.45" fill="none" stroke="#a6c07a" stroke-width="0.75"/>
<circle cx="164.51" cy="80.89" r="1.45" fill="none" stroke="#a6c07a" stroke-width="0.75"/>
<circle cx="160.43" cy="81" r="1.45" fill="none" stroke="#a6c07a" stroke-width="0.75"/>
<circle cx="167.1" cy="81.75" r="1.45" fill="none" stroke="#a6c07a" stroke-width="0.75"/>
<circle cx="166.69" cy="81.92" r="1.45" fill="none" stroke="#a6c07a" stroke-width="0.75"/>
<circle cx="164.62" cy="82.33" r="1.45" fill="none" stroke="#a6c07a" stroke-width="0.75"/>
<circle cx="161.4" cy="83.52" r="1.45" fill="none" stroke="#a6c07a" stroke-width="0.75"/>
<circle cx="164.9" cy="84.24" r="1.45" fill="none" stroke="#a6c07a" stroke-width="0.75"/>
<circle cx="167.8" cy="84.24" r="1.45" fill="none" stroke="#a6c07a" stroke-width="0.75"/>
<circle cx="165.94" cy="85.23" r="1.45" fill="none" stroke="#a6c07a" stroke-width="0.75"/>
<circle cx="160.95" cy="85.52" r="1.45" fill="none" stroke="#a6c07a" stroke-width="0.75"/>
<circle cx="166.59" cy="85.56" r="1.45" fill="none" stroke="#a6c07a" stroke-width="0.75"/>
<circle cx="162.52" cy="85.97" r="1.45" fill="none" stroke="#a6c07a" stroke-width="0.75"/>
<circle cx="161.03" cy="86.64" r="1.45" fill="none" stroke="#a6c07a" stroke-width="0.75"/>
<circle cx="162.63" cy="86.85" r="1.45" fill="none" stroke="#a6c07a" stroke-width="0.75"/>
<circle cx="166.53" cy="87.06" r="1.45" fill="none" stroke="#a6c07a" stroke-width="0.75"/>
<circle cx="162.12" cy="87.29" r="1.45" fill="none" stroke="#a6c07a" stroke-width="0.75"/>
<circle cx="166.61" cy="88.07" r="1.45" fill="none" stroke="#a6c07a" stroke-width="0.75"/>
<circle cx="168.6" cy="88.37" r="1.45" fill="none" stroke="#a6c07a" stroke-width="0.75"/>
<circle cx="164.55" cy="88.97" r="1.45" fill="none" stroke="#a6c07a" stroke-width="0.75"/>
<circle cx="163.61" cy="89.55" r="1.45" fill="none" stroke="#a6c07a" stroke-width="0.75"/>
<circle cx="160.6" cy="90.08" r="1.45" fill="none" stroke="#a6c07a" stroke-width="0.75"/>
<circle cx="167.8" cy="90.98" r="1.45" fill="none" stroke="#a6c07a" stroke-width="0.75"/>
<circle cx="164.42" cy="91.03" r="1.45" fill="none" stroke="#a6c07a" stroke-width="0.75"/>
<circle cx="166.14" cy="91.36" r="1.45" fill="none" stroke="#a6c07a" stroke-width="0.75"/>
<circle cx="166.84" cy="91.43" r="1.45" fill="none" stroke="#a6c07a" stroke-width="0.75"/>
<circle cx="165.58" cy="91.54" r="1.45" fill="none" stroke="#a6c07a" stroke-width="0.75"/>
<circle cx="165.8" cy="91.56" r="1.45" fill="none" stroke="#a6c07a" stroke-width="0.75"/>
<circle cx="161.05" cy="91.89" r="1.45" fill="none" stroke="#a6c07a" stroke-width="0.75"/>
<circle cx="161.64" cy="93.04" r="1.45" fill="none" stroke="#a6c07a" stroke-width="0.75"/>
<circle cx="162.53" cy="93.58" r="1.45" fill="none" stroke="#a6c07a" stroke-width="0.75"/>
<circle cx="168.6" cy="93.76" r="1.45" fill="none" stroke="#a6c07a" stroke-width="0.75"/>
<circle cx="165.4" cy="94.2" r="1.45" fill="none" stroke="#a6c07a" stroke-width="0.75"/>
<circle cx="166.64" cy="94.51" r="1.45" fill="none" stroke="#a6c07a" stroke-width="0.75"/>
<circle cx="162.96" cy="94.63" r="1.45" fill="none" stroke="#a6c07a" stroke-width="0.75"/>
<circle cx="165.17" cy="94.63" r="1.45" fill="none" stroke="#a6c07a" stroke-width="0.75"/>
<circle cx="160.5" cy="94.99" r="1.45" fill="none" stroke="#a6c07a" stroke-width="0.75"/>
<circle cx="160.91" cy="95.65" r="1.45" fill="none" stroke="#a6c07a" stroke-width="0.75"/>
<circle cx="162.66" cy="96.53" r="1.45" fill="none" stroke="#a6c07a" stroke-width="0.75"/>
<circle cx="166.04" cy="96.78" r="1.45" fill="none" stroke="#a6c07a" stroke-width="0.75"/>
<circle cx="168.6" cy="96.96" r="1.45" fill="none" stroke="#a6c07a" stroke-width="0.75"/>
<circle cx="166.21" cy="97.2" r="1.45" fill="none" stroke="#a6c07a" stroke-width="0.75"/>
<circle cx="166.08" cy="97.91" r="1.45" fill="none" stroke="#a6c07a" stroke-width="0.75"/>
<circle cx="162.84" cy="98.32" r="1.45" fill="none" stroke="#a6c07a" stroke-width="0.75"/>
<circle cx="164.74" cy="98.37" r="1.45" fill="none" stroke="#a6c07a" stroke-width="0.75"/>
<circle cx="168.6" cy="99.78" r="1.45" fill="none" stroke="#a6c07a" stroke-width="0.75"/>
<circle cx="164.3" cy="100.26" r="1.45" fill="none" stroke="#a6c07a" stroke-width="0.75"/>
<circle cx="164.32" cy="100.59" r="1.45" fill="none" stroke="#a6c07a" stroke-width="0.75"/>
<circle cx="161.4" cy="101.26" r="1.45" fill="none" stroke="#a6c07a" stroke-width="0.75"/>
<circle cx="161.4" cy="101.55" r="1.45" fill="none" stroke="#a6c07a" stroke-width="0.75"/>
<circle cx="164.6" cy="105.51" r="1.45" fill="none" stroke="#a6c07a" stroke-width="0.75"/>
<circle cx="167.8" cy="106.21" r="1.45" fill="none" stroke="#a6c07a" stroke-width="0.75"/>
<circle cx="161.4" cy="106.84" r="1.45" fill="none" stroke="#a6c07a" stroke-width="0.75"/>
<circle cx="167.91" cy="107.28" r="1.45" fill="none" stroke="#a6c07a" stroke-width="0.75"/>
<circle cx="162.07" cy="107.64" r="1.45" fill="none" stroke="#a6c07a" stroke-width="0.75"/>
<circle cx="164.6" cy="107.9" r="1.45" fill="none" stroke="#a6c07a" stroke-width="0.75"/>
<circle cx="168.62" cy="108.99" r="1.45" fill="none" stroke="#a6c07a" stroke-width="0.75"/>
<circle cx="168.26" cy="109.79" r="1.45" fill="none" stroke="#a6c07a" stroke-width="0.75"/>
<circle cx="164.6" cy="110.81" r="1.45" fill="none" stroke="#a6c07a" stroke-width="0.75"/>
<circle cx="161.4" cy="111.42" r="1.45" fill="none" stroke="#a6c07a" stroke-width="0.75"/>
<circle cx="160.55" cy="111.57" r="1.45" fill="none" stroke="#a6c07a" stroke-width="0.75"/>
<circle cx="167.8" cy="112.71" r="1.45" fill="none" stroke="#a6c07a" stroke-width="0.75"/>
<circle cx="164.6" cy="113.46" r="1.45" fill="none" stroke="#a6c07a" stroke-width="0.75"/>
<circle cx="164.26" cy="113.48" r="1.45" fill="none" stroke="#a6c07a" stroke-width="0.75"/>
<circle cx="161.4" cy="114.93" r="1.45" fill="none" stroke="#a6c07a" stroke-width="0.75"/>
<circle cx="167.8" cy="115.4" r="1.45" fill="none" stroke="#a6c07a" stroke-width="0.75"/>
<circle cx="164.6" cy="116.52" r="1.45" fill="none" stroke="#a6c07a" stroke-width="0.75"/>
<circle cx="167.8" cy="118.02" r="1.45" fill="none" stroke="#a6c07a" stroke-width="0.75"/>
<circle cx="161.4" cy="118.45" r="1.45" fill="none" stroke="#a6c07a" stroke-width="0.75"/>
<circle cx="164.6" cy="119.02" r="1.45" fill="none" stroke="#a6c07a" stroke-width="0.75"/>
<circle cx="164.6" cy="126.52" r="1.45" fill="none" stroke="#a6c07a" stroke-width="0.75"/>
<circle cx="180.8" cy="47.35" r="1.45" fill="none" stroke="#b8284f" stroke-width="0.8"/>
<circle cx="180.8" cy="108.25" r="1.45" fill="none" stroke="#b8284f" stroke-width="0.8"/>
<circle cx="180.8" cy="127.1" r="1.45" fill="none" stroke="#b8284f" stroke-width="0.8"/>
<circle cx="196.3" cy="69.1" r="1.45" fill="none" stroke="#f1a530" stroke-width="0.8"/>
<circle cx="199.9" cy="70.55" r="1.45" fill="none" stroke="#f1a530" stroke-width="0.8"/>
<circle cx="196.3" cy="73.45" r="1.45" fill="none" stroke="#f1a530" stroke-width="0.8"/>
<circle cx="196.3" cy="82.15" r="1.45" fill="none" stroke="#f1a530" stroke-width="0.8"/>
<circle cx="196.3" cy="87.95" r="1.45" fill="none" stroke="#f1a530" stroke-width="0.8"/>
<circle cx="199.9" cy="89.98" r="1.45" fill="none" stroke="#f1a530" stroke-width="0.8"/>
<circle cx="196.3" cy="92.3" r="1.45" fill="none" stroke="#f1a530" stroke-width="0.8"/>
<circle cx="196.3" cy="95.2" r="1.45" fill="none" stroke="#f1a530" stroke-width="0.8"/>
<circle cx="196.3" cy="98.1" r="1.45" fill="none" stroke="#f1a530" stroke-width="0.8"/>
<circle cx="196.3" cy="101" r="1.45" fill="none" stroke="#f1a530" stroke-width="0.8"/>
<circle cx="196.3" cy="121.88" r="1.45" fill="none" stroke="#f1a530" stroke-width="0.8"/>
<line x1="148.5" y1="77.8" x2="148.5" y2="112.6" stroke="#1a2234" stroke-width="1.15"/>
<line x1="145.6" y1="77.5" x2="152" y2="77.5" stroke="#1a2234" stroke-width="1.15"/>
<line x1="145.6" y1="112.5" x2="152" y2="112.5" stroke="#1a2234" stroke-width="1.15"/>
<line x1="142.8" y1="95.5" x2="154.8" y2="95.5" stroke="#1a2234" stroke-width="1.15"/>
<line x1="164.5" y1="77.22" x2="164.5" y2="112.02" stroke="#26301a" stroke-width="1.15"/>
<line x1="161.4" y1="77.5" x2="167.8" y2="77.5" stroke="#26301a" stroke-width="1.15"/>
<line x1="161.4" y1="112.5" x2="167.8" y2="112.5" stroke="#26301a" stroke-width="1.15"/>
<line x1="158.6" y1="94.5" x2="170.6" y2="94.5" stroke="#26301a" stroke-width="1.15"/>
<line x1="180.5" y1="52.28" x2="180.5" y2="98.68" stroke="#2a1a1e" stroke-width="1.15"/>
<line x1="177.6" y1="52.5" x2="184" y2="52.5" stroke="#2a1a1e" stroke-width="1.15"/>
<line x1="177.6" y1="98.5" x2="184" y2="98.5" stroke="#2a1a1e" stroke-width="1.15"/>
<line x1="174.8" y1="75.5" x2="186.8" y2="75.5" stroke="#2a1a1e" stroke-width="1.15"/>
<line x1="196.5" y1="75.48" x2="196.5" y2="104.48" stroke="#2a2418" stroke-width="1.15"/>
<line x1="193.1" y1="75.5" x2="199.5" y2="75.5" stroke="#2a2418" stroke-width="1.15"/>
<line x1="193.1" y1="104.5" x2="199.5" y2="104.5" stroke="#2a2418" stroke-width="1.15"/>
<line x1="190.3" y1="89.5" x2="202.3" y2="89.5" stroke="#2a2418" stroke-width="1.15"/>
<polyline points="148.8,50.5 148.8,35 180.8,35 180.8,42" stroke="#333" stroke-width="0.8" fill="none"/>
<text x="164.92" y="35.2" font-size="7" text-anchor="middle" fill="#222" letter-spacing="0.25">***</text>
<polyline points="164.6,45 164.6,42.3 180.8,42.3 180.8,45.8" stroke="#333" stroke-width="0.8" fill="none"/>
<text x="172.82" y="42.5" font-size="7" text-anchor="middle" fill="#222" letter-spacing="0.25">**</text>
<text x="125.5" y="140.3" font-size="6.8" text-anchor="middle" fill="#2e2e2e" stroke="#2e2e2e" stroke-width="0.2" textLength="11.5" lengthAdjust="spacingAndGlyphs" dy="0.35em">Risk</text>
<text x="147.6" y="134.8" font-size="6.9" text-anchor="end" fill="#2e2e2e" stroke="#2e2e2e" stroke-width="0.2" textLength="11.4" lengthAdjust="spacingAndGlyphs" dy="0.7em" transform="rotate(-40 147.6 134.8)">Low</text>
<text x="163.3" y="134.8" font-size="6.9" text-anchor="end" fill="#2e2e2e" stroke="#2e2e2e" stroke-width="0.2" textLength="11" lengthAdjust="spacingAndGlyphs" dy="0.7em" transform="rotate(-40 163.3 134.8)"><tspan font-style="italic">STD</tspan></text>
<text x="179.5" y="134.8" font-size="6.9" text-anchor="end" fill="#2e2e2e" stroke="#2e2e2e" stroke-width="0.2" textLength="12.3" lengthAdjust="spacingAndGlyphs" dy="0.7em" transform="rotate(-40 179.5 134.8)"><tspan font-style="italic">High</tspan></text>
<text x="195" y="134.8" font-size="6.9" text-anchor="end" fill="#2e2e2e" stroke="#2e2e2e" stroke-width="0.2" textLength="26.5" lengthAdjust="spacingAndGlyphs" dy="0.7em" transform="rotate(-40 195 134.8)">Unknown</text>
<text x="125.7" y="162.3" font-size="6.5" text-anchor="middle" fill="#2e2e2e" stroke="#2e2e2e" stroke-width="0.2" dy="0.35em">(n)</text>
<text x="148.8" y="162.3" font-size="7.2" text-anchor="middle" fill="#2e2e2e" stroke="#2e2e2e" stroke-width="0.2" dy="0.35em">72</text>
<text x="164.6" y="162.3" font-size="7.2" text-anchor="middle" fill="#2e2e2e" stroke="#2e2e2e" stroke-width="0.2" dy="0.35em">92</text>
<text x="180.8" y="162.3" font-size="7.2" text-anchor="middle" fill="#2e2e2e" stroke="#2e2e2e" stroke-width="0.2" dy="0.35em">12</text>
<text x="196.3" y="162.3" font-size="7.2" text-anchor="middle" fill="#2e2e2e" stroke="#2e2e2e" stroke-width="0.2" dy="0.35em">11</text>
<text transform="translate(217.5 16.95) scale(0.971 1)" font-size="11.48" font-weight="bold" fill="#000">B</text>
<text x="228.2" y="27.7" font-size="8.8" fill="#2a2a2a" stroke="#2a2a2a" stroke-width="0.2" textLength="63" lengthAdjust="spacingAndGlyphs" dy="0.35em">Refractory AML</text>
<line x1="239.5" y1="42" x2="239.5" y2="130.3" stroke="#1e1e1e" stroke-width="1"/>
<line x1="236.8" y1="130.5" x2="239.8" y2="130.5" stroke="#1e1e1e" stroke-width="0.8"/>
<text x="233.5" y="130" font-size="6.6" text-anchor="end" fill="#2e2e2e" stroke="#2e2e2e" stroke-width="0.2" dy="0.35em">0</text>
<line x1="236.8" y1="113.5" x2="239.8" y2="113.5" stroke="#1e1e1e" stroke-width="0.8"/>
<text x="233.5" y="113.15" font-size="6.6" text-anchor="end" fill="#2e2e2e" stroke="#2e2e2e" stroke-width="0.2" dy="0.35em">1</text>
<line x1="236.8" y1="96.5" x2="239.8" y2="96.5" stroke="#1e1e1e" stroke-width="0.8"/>
<text x="233.5" y="96.3" font-size="6.6" text-anchor="end" fill="#2e2e2e" stroke="#2e2e2e" stroke-width="0.2" dy="0.35em">2</text>
<line x1="236.8" y1="79.5" x2="239.8" y2="79.5" stroke="#1e1e1e" stroke-width="0.8"/>
<text x="233.5" y="79.45" font-size="6.6" text-anchor="end" fill="#2e2e2e" stroke="#2e2e2e" stroke-width="0.2" dy="0.35em">3</text>
<line x1="236.8" y1="62.5" x2="239.8" y2="62.5" stroke="#1e1e1e" stroke-width="0.8"/>
<text x="233.5" y="62.6" font-size="6.6" text-anchor="end" fill="#2e2e2e" stroke="#2e2e2e" stroke-width="0.2" dy="0.35em">4</text>
<line x1="236.8" y1="45.5" x2="239.8" y2="45.5" stroke="#1e1e1e" stroke-width="0.8"/>
<text x="233.5" y="45.75" font-size="6.6" text-anchor="end" fill="#2e2e2e" stroke="#2e2e2e" stroke-width="0.2" dy="0.35em">5</text>
<line x1="239.8" y1="130.5" x2="279.6" y2="130.5" stroke="#1e1e1e" stroke-width="1.2"/>
<line x1="237.2" y1="130.5" x2="239.8" y2="130.5" stroke="#1e1e1e" stroke-width="0.8"/>
<line x1="248.5" y1="130" x2="248.5" y2="132.6" stroke="#1e1e1e" stroke-width="0.9"/>
<line x1="272.5" y1="130" x2="272.5" y2="132.6" stroke="#1e1e1e" stroke-width="0.9"/>
<text x="225.1" y="86.6" font-size="8.5" text-anchor="middle" fill="#333" stroke="#333" stroke-width="0.2" textLength="51.2" lengthAdjust="spacingAndGlyphs" transform="rotate(-90 225.1 86.6)"><tspan font-style="italic">ZDHHC21</tspan> mRNA</text>
<line x1="248.3" y1="73.89" x2="272.2" y2="57.71" stroke="#333" stroke-width="0.9"/>
<line x1="248.3" y1="81.3" x2="272.2" y2="74.9" stroke="#333" stroke-width="0.9"/>
<line x1="248.3" y1="86.36" x2="272.2" y2="80.8" stroke="#333" stroke-width="0.9"/>
<line x1="248.3" y1="94.28" x2="272.2" y2="74.9" stroke="#333" stroke-width="0.9"/>
<line x1="248.3" y1="95.46" x2="272.2" y2="93.94" stroke="#333" stroke-width="0.9"/>
<line x1="248.3" y1="110.96" x2="272.2" y2="81.81" stroke="#333" stroke-width="0.9"/>
<circle cx="248.3" cy="73.89" r="1.5" fill="#fff" stroke="#555" stroke-width="0.7"/>
<circle cx="272.2" cy="57.71" r="1.5" fill="#fff" stroke="#c0305a" stroke-width="0.8"/>
<circle cx="248.3" cy="81.3" r="1.5" fill="#fff" stroke="#555" stroke-width="0.7"/>
<circle cx="272.2" cy="74.9" r="1.5" fill="#fff" stroke="#c0305a" stroke-width="0.8"/>
<circle cx="248.3" cy="86.36" r="1.5" fill="#fff" stroke="#555" stroke-width="0.7"/>
<circle cx="272.2" cy="80.8" r="1.5" fill="#fff" stroke="#c0305a" stroke-width="0.8"/>
<circle cx="248.3" cy="94.28" r="1.5" fill="#fff" stroke="#555" stroke-width="0.7"/>
<circle cx="272.2" cy="74.9" r="1.5" fill="#fff" stroke="#c0305a" stroke-width="0.8"/>
<circle cx="248.3" cy="95.46" r="1.5" fill="#fff" stroke="#555" stroke-width="0.7"/>
<circle cx="272.2" cy="93.94" r="1.5" fill="#fff" stroke="#c0305a" stroke-width="0.8"/>
<circle cx="248.3" cy="110.96" r="1.5" fill="#fff" stroke="#555" stroke-width="0.7"/>
<circle cx="272.2" cy="81.81" r="1.5" fill="#fff" stroke="#c0305a" stroke-width="0.8"/>
<line x1="247.5" y1="47.5" x2="272" y2="47.5" stroke="#4a4a4a" stroke-width="1.25"/>
<text x="259.92" y="47.2" font-size="7" text-anchor="middle" fill="#222" letter-spacing="0.25">*</text>
<text x="248.7" y="140.1" font-size="7" text-anchor="middle" fill="#2e2e2e" stroke="#2e2e2e" stroke-width="0.2" textLength="10" lengthAdjust="spacingAndGlyphs" dy="0.35em">Pre</text>
<text x="272.2" y="140.1" font-size="7" text-anchor="middle" fill="#2e2e2e" stroke="#2e2e2e" stroke-width="0.2" textLength="13.3" lengthAdjust="spacingAndGlyphs" dy="0.35em">Post</text>
<line x1="240" y1="144.5" x2="279.6" y2="144.5" stroke="#333" stroke-width="0.9"/>
<text x="259.6" y="150.6" font-size="7" text-anchor="middle" fill="#2e2e2e" stroke="#2e2e2e" stroke-width="0.2" textLength="45.5" lengthAdjust="spacingAndGlyphs" dy="0.35em">Chemotherapy</text>
<text transform="translate(307.99 17.13) scale(0.911 1)" font-size="12.43" font-weight="bold" fill="#000">C</text>
<line x1="330.5" y1="43" x2="330.5" y2="130.3" stroke="#1e1e1e" stroke-width="1"/>
<line x1="327.2" y1="130.5" x2="330.2" y2="130.5" stroke="#1e1e1e" stroke-width="0.8"/>
<text x="323.9" y="130" font-size="6.6" text-anchor="end" fill="#2e2e2e" stroke="#2e2e2e" stroke-width="0.2" dy="0.35em">0</text>
<line x1="327.2" y1="102.5" x2="330.2" y2="102.5" stroke="#1e1e1e" stroke-width="0.8"/>
<text x="323.9" y="102" font-size="6.6" text-anchor="end" fill="#2e2e2e" stroke="#2e2e2e" stroke-width="0.2" dy="0.35em">1</text>
<line x1="327.2" y1="74.5" x2="330.2" y2="74.5" stroke="#1e1e1e" stroke-width="0.8"/>
<text x="323.9" y="74" font-size="6.6" text-anchor="end" fill="#2e2e2e" stroke="#2e2e2e" stroke-width="0.2" dy="0.35em">2</text>
<line x1="327.2" y1="46.5" x2="330.2" y2="46.5" stroke="#1e1e1e" stroke-width="0.8"/>
<text x="323.9" y="46" font-size="6.6" text-anchor="end" fill="#2e2e2e" stroke="#2e2e2e" stroke-width="0.2" dy="0.35em">3</text>
<line x1="330.5" y1="130.5" x2="375.8" y2="130.5" stroke="#1e1e1e" stroke-width="1.2"/>
<line x1="327.5" y1="130.5" x2="330.5" y2="130.5" stroke="#1e1e1e" stroke-width="0.8"/>
<line x1="342.5" y1="130" x2="342.5" y2="132.6" stroke="#1e1e1e" stroke-width="0.9"/>
<line x1="365.5" y1="130" x2="365.5" y2="132.6" stroke="#1e1e1e" stroke-width="0.9"/>
<text x="315" y="86.6" font-size="8.5" text-anchor="middle" fill="#333" stroke="#333" stroke-width="0.2" textLength="52.6" lengthAdjust="spacingAndGlyphs" transform="rotate(-90 315 86.6)"><tspan font-style="italic">ZDHHC21</tspan> mRNA</text>
<circle cx="342.6" cy="54.96" r="1.45" fill="none" stroke="#56627a" stroke-width="0.75"/>
<circle cx="342.6" cy="63.32" r="1.45" fill="none" stroke="#56627a" stroke-width="0.75"/>
<circle cx="340.31" cy="65.03" r="1.45" fill="none" stroke="#56627a" stroke-width="0.75"/>
<circle cx="342.6" cy="68.81" r="1.45" fill="none" stroke="#56627a" stroke-width="0.75"/>
<circle cx="342.05" cy="70.53" r="1.45" fill="none" stroke="#56627a" stroke-width="0.75"/>
<circle cx="344.67" cy="70.86" r="1.45" fill="none" stroke="#56627a" stroke-width="0.75"/>
<circle cx="344.59" cy="72.32" r="1.45" fill="none" stroke="#56627a" stroke-width="0.75"/>
<circle cx="341.6" cy="72.92" r="1.45" fill="none" stroke="#56627a" stroke-width="0.75"/>
<circle cx="343.81" cy="73.55" r="1.45" fill="none" stroke="#56627a" stroke-width="0.75"/>
<circle cx="345.19" cy="74.53" r="1.45" fill="none" stroke="#56627a" stroke-width="0.75"/>
<circle cx="342.6" cy="77" r="1.45" fill="none" stroke="#56627a" stroke-width="0.75"/>
<circle cx="344.84" cy="78.03" r="1.45" fill="none" stroke="#56627a" stroke-width="0.75"/>
<circle cx="341.6" cy="79.65" r="1.45" fill="none" stroke="#56627a" stroke-width="0.75"/>
<circle cx="338.6" cy="79.75" r="1.45" fill="none" stroke="#56627a" stroke-width="0.75"/>
<circle cx="344.6" cy="80.6" r="1.45" fill="none" stroke="#56627a" stroke-width="0.75"/>
<circle cx="347.6" cy="80.94" r="1.45" fill="none" stroke="#56627a" stroke-width="0.75"/>
<circle cx="335.6" cy="81.44" r="1.45" fill="none" stroke="#56627a" stroke-width="0.75"/>
<circle cx="340.21" cy="81.58" r="1.45" fill="none" stroke="#56627a" stroke-width="0.75"/>
<circle cx="338.2" cy="81.89" r="1.45" fill="none" stroke="#56627a" stroke-width="0.75"/>
<circle cx="348.7" cy="82.09" r="1.45" fill="none" stroke="#56627a" stroke-width="0.75"/>
<circle cx="346.05" cy="82.31" r="1.45" fill="none" stroke="#56627a" stroke-width="0.75"/>
<circle cx="336.05" cy="82.68" r="1.45" fill="none" stroke="#56627a" stroke-width="0.75"/>
<circle cx="344.9" cy="82.69" r="1.45" fill="none" stroke="#56627a" stroke-width="0.75"/>
<circle cx="340.9" cy="83.24" r="1.45" fill="none" stroke="#56627a" stroke-width="0.75"/>
<circle cx="340.83" cy="83.54" r="1.45" fill="none" stroke="#56627a" stroke-width="0.75"/>
<circle cx="340.24" cy="83.55" r="1.45" fill="none" stroke="#56627a" stroke-width="0.75"/>
<circle cx="337.97" cy="83.73" r="1.45" fill="none" stroke="#56627a" stroke-width="0.75"/>
<circle cx="335.64" cy="83.9" r="1.45" fill="none" stroke="#56627a" stroke-width="0.75"/>
<circle cx="339.52" cy="84.34" r="1.45" fill="none" stroke="#56627a" stroke-width="0.75"/>
<circle cx="340.52" cy="84.35" r="1.45" fill="none" stroke="#56627a" stroke-width="0.75"/>
<circle cx="348.6" cy="84.46" r="1.45" fill="none" stroke="#56627a" stroke-width="0.75"/>
<circle cx="343.6" cy="86.31" r="1.45" fill="none" stroke="#56627a" stroke-width="0.75"/>
<circle cx="336.6" cy="86.36" r="1.45" fill="none" stroke="#56627a" stroke-width="0.75"/>
<circle cx="348.98" cy="86.54" r="1.45" fill="none" stroke="#56627a" stroke-width="0.75"/>
<circle cx="340.6" cy="87.15" r="1.45" fill="none" stroke="#56627a" stroke-width="0.75"/>
<circle cx="337.33" cy="87.16" r="1.45" fill="none" stroke="#56627a" stroke-width="0.75"/>
<circle cx="349.1" cy="87.5" r="1.45" fill="none" stroke="#56627a" stroke-width="0.75"/>
<circle cx="342.6" cy="89.99" r="1.45" fill="none" stroke="#56627a" stroke-width="0.75"/>
<circle cx="345.6" cy="90.07" r="1.45" fill="none" stroke="#56627a" stroke-width="0.75"/>
<circle cx="339.6" cy="90.11" r="1.45" fill="none" stroke="#56627a" stroke-width="0.75"/>
<circle cx="348.6" cy="90.56" r="1.45" fill="none" stroke="#56627a" stroke-width="0.75"/>
<circle cx="336.6" cy="90.84" r="1.45" fill="none" stroke="#56627a" stroke-width="0.75"/>
<circle cx="338.5" cy="91.38" r="1.45" fill="none" stroke="#56627a" stroke-width="0.75"/>
<circle cx="340.59" cy="91.65" r="1.45" fill="none" stroke="#56627a" stroke-width="0.75"/>
<circle cx="347.1" cy="92.06" r="1.45" fill="none" stroke="#56627a" stroke-width="0.75"/>
<circle cx="342.6" cy="94.05" r="1.45" fill="none" stroke="#56627a" stroke-width="0.75"/>
<circle cx="345.6" cy="94.53" r="1.45" fill="none" stroke="#56627a" stroke-width="0.75"/>
<circle cx="339.6" cy="95.1" r="1.45" fill="none" stroke="#56627a" stroke-width="0.75"/>
<circle cx="342.6" cy="96.85" r="1.45" fill="none" stroke="#56627a" stroke-width="0.75"/>
<circle cx="345.6" cy="97.18" r="1.45" fill="none" stroke="#56627a" stroke-width="0.75"/>
<circle cx="339.6" cy="97.68" r="1.45" fill="none" stroke="#56627a" stroke-width="0.75"/>
<circle cx="348.6" cy="98.19" r="1.45" fill="none" stroke="#56627a" stroke-width="0.75"/>
<circle cx="336.6" cy="98.53" r="1.45" fill="none" stroke="#56627a" stroke-width="0.75"/>
<circle cx="342.6" cy="99.59" r="1.45" fill="none" stroke="#56627a" stroke-width="0.75"/>
<circle cx="345.6" cy="100.14" r="1.45" fill="none" stroke="#56627a" stroke-width="0.75"/>
<circle cx="339.6" cy="100.23" r="1.45" fill="none" stroke="#56627a" stroke-width="0.75"/>
<circle cx="348.6" cy="100.72" r="1.45" fill="none" stroke="#56627a" stroke-width="0.75"/>
<circle cx="336.6" cy="100.95" r="1.45" fill="none" stroke="#56627a" stroke-width="0.75"/>
<circle cx="347.11" cy="101.18" r="1.45" fill="none" stroke="#56627a" stroke-width="0.75"/>
<circle cx="341.65" cy="101.77" r="1.45" fill="none" stroke="#56627a" stroke-width="0.75"/>
<circle cx="344.6" cy="102.66" r="1.45" fill="none" stroke="#56627a" stroke-width="0.75"/>
<circle cx="336.29" cy="102.67" r="1.45" fill="none" stroke="#56627a" stroke-width="0.75"/>
<circle cx="342.23" cy="102.7" r="1.45" fill="none" stroke="#56627a" stroke-width="0.75"/>
<circle cx="340.82" cy="102.72" r="1.45" fill="none" stroke="#56627a" stroke-width="0.75"/>
<circle cx="347.6" cy="103.62" r="1.45" fill="none" stroke="#56627a" stroke-width="0.75"/>
<circle cx="348.47" cy="104.26" r="1.45" fill="none" stroke="#56627a" stroke-width="0.75"/>
<circle cx="343.6" cy="105.04" r="1.45" fill="none" stroke="#56627a" stroke-width="0.75"/>
<circle cx="340.6" cy="105.1" r="1.45" fill="none" stroke="#56627a" stroke-width="0.75"/>
<circle cx="337.6" cy="105.92" r="1.45" fill="none" stroke="#56627a" stroke-width="0.75"/>
<circle cx="338.3" cy="105.97" r="1.45" fill="none" stroke="#56627a" stroke-width="0.75"/>
<circle cx="340.7" cy="106.45" r="1.45" fill="none" stroke="#56627a" stroke-width="0.75"/>
<circle cx="346.6" cy="107.15" r="1.45" fill="none" stroke="#56627a" stroke-width="0.75"/>
<circle cx="349.6" cy="107.17" r="1.45" fill="none" stroke="#56627a" stroke-width="0.75"/>
<circle cx="348.16" cy="107.24" r="1.45" fill="none" stroke="#56627a" stroke-width="0.75"/>
<circle cx="343.6" cy="108.32" r="1.45" fill="none" stroke="#56627a" stroke-width="0.75"/>
<circle cx="340.6" cy="108.92" r="1.45" fill="none" stroke="#56627a" stroke-width="0.75"/>
<circle cx="337.6" cy="108.96" r="1.45" fill="none" stroke="#56627a" stroke-width="0.75"/>
<circle cx="336.02" cy="109.09" r="1.45" fill="none" stroke="#56627a" stroke-width="0.75"/>
<circle cx="341.35" cy="109.43" r="1.45" fill="none" stroke="#56627a" stroke-width="0.75"/>
<circle cx="346.6" cy="109.58" r="1.45" fill="none" stroke="#56627a" stroke-width="0.75"/>
<circle cx="349.6" cy="109.6" r="1.45" fill="none" stroke="#56627a" stroke-width="0.75"/>
<circle cx="346.97" cy="110.04" r="1.45" fill="none" stroke="#56627a" stroke-width="0.75"/>
<circle cx="346.33" cy="110.32" r="1.45" fill="none" stroke="#56627a" stroke-width="0.75"/>
<circle cx="336.17" cy="110.44" r="1.45" fill="none" stroke="#56627a" stroke-width="0.75"/>
<circle cx="336.09" cy="110.67" r="1.45" fill="none" stroke="#56627a" stroke-width="0.75"/>
<circle cx="336.48" cy="110.75" r="1.45" fill="none" stroke="#56627a" stroke-width="0.75"/>
<circle cx="348.48" cy="111.13" r="1.45" fill="none" stroke="#56627a" stroke-width="0.75"/>
<circle cx="339.2" cy="111.56" r="1.45" fill="none" stroke="#56627a" stroke-width="0.75"/>
<circle cx="342.6" cy="111.88" r="1.45" fill="none" stroke="#56627a" stroke-width="0.75"/>
<circle cx="346.06" cy="112.36" r="1.45" fill="none" stroke="#56627a" stroke-width="0.75"/>
<circle cx="348.18" cy="112.75" r="1.45" fill="none" stroke="#56627a" stroke-width="0.75"/>
<circle cx="340.35" cy="112.79" r="1.45" fill="none" stroke="#56627a" stroke-width="0.75"/>
<circle cx="339.41" cy="112.87" r="1.45" fill="none" stroke="#56627a" stroke-width="0.75"/>
<circle cx="336.6" cy="113.52" r="1.45" fill="none" stroke="#56627a" stroke-width="0.75"/>
<circle cx="349.01" cy="113.63" r="1.45" fill="none" stroke="#56627a" stroke-width="0.75"/>
<circle cx="344.24" cy="114.57" r="1.45" fill="none" stroke="#56627a" stroke-width="0.75"/>
<circle cx="339.27" cy="114.81" r="1.45" fill="none" stroke="#56627a" stroke-width="0.75"/>
<circle cx="345.63" cy="115.65" r="1.45" fill="none" stroke="#56627a" stroke-width="0.75"/>
<circle cx="340.03" cy="115.69" r="1.45" fill="none" stroke="#56627a" stroke-width="0.75"/>
<circle cx="339.46" cy="115.74" r="1.45" fill="none" stroke="#56627a" stroke-width="0.75"/>
<circle cx="348.6" cy="116.03" r="1.45" fill="none" stroke="#56627a" stroke-width="0.75"/>
<circle cx="336.6" cy="116.25" r="1.45" fill="none" stroke="#56627a" stroke-width="0.75"/>
<circle cx="335.65" cy="116.56" r="1.45" fill="none" stroke="#56627a" stroke-width="0.75"/>
<circle cx="342.6" cy="117.33" r="1.45" fill="none" stroke="#56627a" stroke-width="0.75"/>
<circle cx="346.18" cy="117.77" r="1.45" fill="none" stroke="#56627a" stroke-width="0.75"/>
<circle cx="348.43" cy="117.79" r="1.45" fill="none" stroke="#56627a" stroke-width="0.75"/>
<circle cx="339.6" cy="119.52" r="1.45" fill="none" stroke="#56627a" stroke-width="0.75"/>
<circle cx="336.6" cy="119.54" r="1.45" fill="none" stroke="#56627a" stroke-width="0.75"/>
<circle cx="344.48" cy="119.57" r="1.45" fill="none" stroke="#56627a" stroke-width="0.75"/>
<circle cx="347.6" cy="120.56" r="1.45" fill="none" stroke="#56627a" stroke-width="0.75"/>
<circle cx="348.81" cy="121.45" r="1.45" fill="none" stroke="#56627a" stroke-width="0.75"/>
<circle cx="335.94" cy="121.53" r="1.45" fill="none" stroke="#56627a" stroke-width="0.75"/>
<circle cx="342.6" cy="123" r="1.45" fill="none" stroke="#56627a" stroke-width="0.75"/>
<circle cx="345.6" cy="124.4" r="1.45" fill="none" stroke="#56627a" stroke-width="0.75"/>
<circle cx="342.6" cy="127.2" r="1.45" fill="none" stroke="#56627a" stroke-width="0.75"/>
<circle cx="345.6" cy="128.04" r="1.45" fill="none" stroke="#56627a" stroke-width="0.75"/>
<circle cx="339.6" cy="128.6" r="1.45" fill="none" stroke="#56627a" stroke-width="0.75"/>
<circle cx="365" cy="50.2" r="1.45" fill="none" stroke="#cc1238" stroke-width="0.75"/>
<circle cx="365" cy="58.93" r="1.45" fill="none" stroke="#cc1238" stroke-width="0.75"/>
<circle cx="363.51" cy="59.25" r="1.45" fill="none" stroke="#cc1238" stroke-width="0.75"/>
<circle cx="365" cy="62.82" r="1.45" fill="none" stroke="#cc1238" stroke-width="0.75"/>
<circle cx="365" cy="65.95" r="1.45" fill="none" stroke="#cc1238" stroke-width="0.75"/>
<circle cx="364.86" cy="66.24" r="1.45" fill="none" stroke="#cc1238" stroke-width="0.75"/>
<circle cx="367.56" cy="68.52" r="1.45" fill="none" stroke="#cc1238" stroke-width="0.75"/>
<circle cx="365" cy="69.36" r="1.45" fill="none" stroke="#cc1238" stroke-width="0.75"/>
<circle cx="367.54" cy="69.41" r="1.45" fill="none" stroke="#cc1238" stroke-width="0.75"/>
<circle cx="364.36" cy="70.55" r="1.45" fill="none" stroke="#cc1238" stroke-width="0.75"/>
<circle cx="365" cy="72.88" r="1.45" fill="none" stroke="#cc1238" stroke-width="0.75"/>
<circle cx="368" cy="73.16" r="1.45" fill="none" stroke="#cc1238" stroke-width="0.75"/>
<circle cx="362" cy="73.44" r="1.45" fill="none" stroke="#cc1238" stroke-width="0.75"/>
<circle cx="371" cy="73.72" r="1.45" fill="none" stroke="#cc1238" stroke-width="0.75"/>
<circle cx="359" cy="74" r="1.45" fill="none" stroke="#cc1238" stroke-width="0.75"/>
<circle cx="361.02" cy="74" r="1.45" fill="none" stroke="#cc1238" stroke-width="0.75"/>
<circle cx="363.88" cy="74" r="1.45" fill="none" stroke="#cc1238" stroke-width="0.75"/>
<circle cx="364.9" cy="74.28" r="1.45" fill="none" stroke="#cc1238" stroke-width="0.75"/>
<circle cx="368" cy="76.29" r="1.45" fill="none" stroke="#cc1238" stroke-width="0.75"/>
<circle cx="365" cy="76.67" r="1.45" fill="none" stroke="#cc1238" stroke-width="0.75"/>
<circle cx="362" cy="76.72" r="1.45" fill="none" stroke="#cc1238" stroke-width="0.75"/>
<circle cx="369.28" cy="76.88" r="1.45" fill="none" stroke="#cc1238" stroke-width="0.75"/>
<circle cx="361.83" cy="77.28" r="1.45" fill="none" stroke="#cc1238" stroke-width="0.75"/>
<circle cx="368.03" cy="77.76" r="1.45" fill="none" stroke="#cc1238" stroke-width="0.75"/>
<circle cx="367.38" cy="77.98" r="1.45" fill="none" stroke="#cc1238" stroke-width="0.75"/>
<circle cx="368.23" cy="78.76" r="1.45" fill="none" stroke="#cc1238" stroke-width="0.75"/>
<circle cx="367.73" cy="79.14" r="1.45" fill="none" stroke="#cc1238" stroke-width="0.75"/>
<circle cx="366.07" cy="79.49" r="1.45" fill="none" stroke="#cc1238" stroke-width="0.75"/>
<circle cx="363" cy="80.05" r="1.45" fill="none" stroke="#cc1238" stroke-width="0.75"/>
<circle cx="360" cy="80.27" r="1.45" fill="none" stroke="#cc1238" stroke-width="0.75"/>
<circle cx="363.28" cy="81.02" r="1.45" fill="none" stroke="#cc1238" stroke-width="0.75"/>
<circle cx="366" cy="82.41" r="1.45" fill="none" stroke="#cc1238" stroke-width="0.75"/>
<circle cx="369" cy="82.97" r="1.45" fill="none" stroke="#cc1238" stroke-width="0.75"/>
<circle cx="363" cy="84.36" r="1.45" fill="none" stroke="#cc1238" stroke-width="0.75"/>
<circle cx="366" cy="84.75" r="1.45" fill="none" stroke="#cc1238" stroke-width="0.75"/>
<circle cx="360" cy="84.91" r="1.45" fill="none" stroke="#cc1238" stroke-width="0.75"/>
<circle cx="363.2" cy="85.11" r="1.45" fill="none" stroke="#cc1238" stroke-width="0.75"/>
<circle cx="369" cy="85.64" r="1.45" fill="none" stroke="#cc1238" stroke-width="0.75"/>
<circle cx="363.62" cy="86.76" r="1.45" fill="none" stroke="#cc1238" stroke-width="0.75"/>
<circle cx="367.82" cy="86.81" r="1.45" fill="none" stroke="#cc1238" stroke-width="0.75"/>
<circle cx="360.79" cy="86.84" r="1.45" fill="none" stroke="#cc1238" stroke-width="0.75"/>
<circle cx="361.97" cy="87.11" r="1.45" fill="none" stroke="#cc1238" stroke-width="0.75"/>
<circle cx="367.53" cy="88.25" r="1.45" fill="none" stroke="#cc1238" stroke-width="0.75"/>
<circle cx="362.47" cy="88.69" r="1.45" fill="none" stroke="#cc1238" stroke-width="0.75"/>
<circle cx="360.65" cy="88.83" r="1.45" fill="none" stroke="#cc1238" stroke-width="0.75"/>
<circle cx="365" cy="89.84" r="1.45" fill="none" stroke="#cc1238" stroke-width="0.75"/>
<circle cx="368" cy="90.71" r="1.45" fill="none" stroke="#cc1238" stroke-width="0.75"/>
<circle cx="360.34" cy="90.78" r="1.45" fill="none" stroke="#cc1238" stroke-width="0.75"/>
<circle cx="365.53" cy="91.55" r="1.45" fill="none" stroke="#cc1238" stroke-width="0.75"/>
<circle cx="363" cy="92.3" r="1.45" fill="none" stroke="#cc1238" stroke-width="0.75"/>
<circle cx="363.26" cy="92.36" r="1.45" fill="none" stroke="#cc1238" stroke-width="0.75"/>
<circle cx="369.8" cy="92.77" r="1.45" fill="none" stroke="#cc1238" stroke-width="0.75"/>
<circle cx="368.83" cy="92.87" r="1.45" fill="none" stroke="#cc1238" stroke-width="0.75"/>
<circle cx="360" cy="93.24" r="1.45" fill="none" stroke="#cc1238" stroke-width="0.75"/>
<circle cx="365" cy="94.73" r="1.45" fill="none" stroke="#cc1238" stroke-width="0.75"/>
<circle cx="369.88" cy="94.99" r="1.45" fill="none" stroke="#cc1238" stroke-width="0.75"/>
<circle cx="362.65" cy="95.1" r="1.45" fill="none" stroke="#cc1238" stroke-width="0.75"/>
<circle cx="365" cy="97.7" r="1.45" fill="none" stroke="#cc1238" stroke-width="0.75"/>
<circle cx="368" cy="97.82" r="1.45" fill="none" stroke="#cc1238" stroke-width="0.75"/>
<circle cx="362" cy="97.89" r="1.45" fill="none" stroke="#cc1238" stroke-width="0.75"/>
<circle cx="360.84" cy="98.87" r="1.45" fill="none" stroke="#cc1238" stroke-width="0.75"/>
<circle cx="360.96" cy="99.49" r="1.45" fill="none" stroke="#cc1238" stroke-width="0.75"/>
<circle cx="364.98" cy="99.6" r="1.45" fill="none" stroke="#cc1238" stroke-width="0.75"/>
<circle cx="367.1" cy="99.6" r="1.45" fill="none" stroke="#cc1238" stroke-width="0.75"/>
<circle cx="364.47" cy="99.64" r="1.45" fill="none" stroke="#cc1238" stroke-width="0.75"/>
<circle cx="362.34" cy="100.04" r="1.45" fill="none" stroke="#cc1238" stroke-width="0.75"/>
<circle cx="364.17" cy="100.11" r="1.45" fill="none" stroke="#cc1238" stroke-width="0.75"/>
<circle cx="370" cy="100.4" r="1.45" fill="none" stroke="#cc1238" stroke-width="0.75"/>
<circle cx="366.2" cy="100.65" r="1.45" fill="none" stroke="#cc1238" stroke-width="0.75"/>
<circle cx="363" cy="102.63" r="1.45" fill="none" stroke="#cc1238" stroke-width="0.75"/>
<circle cx="366" cy="103.48" r="1.45" fill="none" stroke="#cc1238" stroke-width="0.75"/>
<circle cx="369" cy="103.99" r="1.45" fill="none" stroke="#cc1238" stroke-width="0.75"/>
<circle cx="360" cy="104.09" r="1.45" fill="none" stroke="#cc1238" stroke-width="0.75"/>
<circle cx="363" cy="105.33" r="1.45" fill="none" stroke="#cc1238" stroke-width="0.75"/>
<circle cx="366" cy="106.33" r="1.45" fill="none" stroke="#cc1238" stroke-width="0.75"/>
<circle cx="369" cy="106.56" r="1.45" fill="none" stroke="#cc1238" stroke-width="0.75"/>
<circle cx="360" cy="106.9" r="1.45" fill="none" stroke="#cc1238" stroke-width="0.75"/>
<circle cx="366.74" cy="106.9" r="1.45" fill="none" stroke="#cc1238" stroke-width="0.75"/>
<circle cx="367.48" cy="107.26" r="1.45" fill="none" stroke="#cc1238" stroke-width="0.75"/>
<circle cx="368.47" cy="107.59" r="1.45" fill="none" stroke="#cc1238" stroke-width="0.75"/>
<circle cx="363" cy="108.19" r="1.45" fill="none" stroke="#cc1238" stroke-width="0.75"/>
<circle cx="366.25" cy="108.54" r="1.45" fill="none" stroke="#cc1238" stroke-width="0.75"/>
<circle cx="362.12" cy="109.07" r="1.45" fill="none" stroke="#cc1238" stroke-width="0.75"/>
<circle cx="365" cy="111.13" r="1.45" fill="none" stroke="#cc1238" stroke-width="0.75"/>
<circle cx="368" cy="111.58" r="1.45" fill="none" stroke="#cc1238" stroke-width="0.75"/>
<circle cx="362" cy="112.29" r="1.45" fill="none" stroke="#cc1238" stroke-width="0.75"/>
<circle cx="367.59" cy="112.71" r="1.45" fill="none" stroke="#cc1238" stroke-width="0.75"/>
<circle cx="365" cy="113.82" r="1.45" fill="none" stroke="#cc1238" stroke-width="0.75"/>
<circle cx="363.43" cy="113.98" r="1.45" fill="none" stroke="#cc1238" stroke-width="0.75"/>
<circle cx="365.51" cy="114.12" r="1.45" fill="none" stroke="#cc1238" stroke-width="0.75"/>
<circle cx="365" cy="117.3" r="1.45" fill="none" stroke="#cc1238" stroke-width="0.75"/>
<circle cx="368" cy="117.48" r="1.45" fill="none" stroke="#cc1238" stroke-width="0.75"/>
<circle cx="362" cy="118.96" r="1.45" fill="none" stroke="#cc1238" stroke-width="0.75"/>
<circle cx="364.03" cy="118.97" r="1.45" fill="none" stroke="#cc1238" stroke-width="0.75"/>
<circle cx="367" cy="120.57" r="1.45" fill="none" stroke="#cc1238" stroke-width="0.75"/>
<circle cx="366.81" cy="121.09" r="1.45" fill="none" stroke="#cc1238" stroke-width="0.75"/>
<circle cx="364" cy="121.42" r="1.45" fill="none" stroke="#cc1238" stroke-width="0.75"/>
<circle cx="362.71" cy="122.16" r="1.45" fill="none" stroke="#cc1238" stroke-width="0.75"/>
<circle cx="363.08" cy="122.68" r="1.45" fill="none" stroke="#cc1238" stroke-width="0.75"/>
<circle cx="363.06" cy="122.75" r="1.45" fill="none" stroke="#cc1238" stroke-width="0.75"/>
<circle cx="362.37" cy="122.82" r="1.45" fill="none" stroke="#cc1238" stroke-width="0.75"/>
<circle cx="367.92" cy="122.86" r="1.45" fill="none" stroke="#cc1238" stroke-width="0.75"/>
<circle cx="365.59" cy="123.18" r="1.45" fill="none" stroke="#cc1238" stroke-width="0.75"/>
<circle cx="363.68" cy="123.32" r="1.45" fill="none" stroke="#cc1238" stroke-width="0.75"/>
<circle cx="364.21" cy="123.53" r="1.45" fill="none" stroke="#cc1238" stroke-width="0.75"/>
<circle cx="365" cy="126.53" r="1.45" fill="none" stroke="#cc1238" stroke-width="0.75"/>
<line x1="342.5" y1="80.16" x2="342.5" y2="113.76" stroke="#1f2430" stroke-width="1"/>
<line x1="338.6" y1="80.5" x2="346.6" y2="80.5" stroke="#1f2430" stroke-width="1"/>
<line x1="338.6" y1="113.5" x2="346.6" y2="113.5" stroke="#1f2430" stroke-width="1"/>
<line x1="335.1" y1="96.5" x2="350.1" y2="96.5" stroke="#1f2430" stroke-width="1"/>
<line x1="365.5" y1="73.44" x2="365.5" y2="108.16" stroke="#3a0a14" stroke-width="1"/>
<line x1="361" y1="73.5" x2="369" y2="73.5" stroke="#3a0a14" stroke-width="1"/>
<line x1="361" y1="108.5" x2="369" y2="108.5" stroke="#3a0a14" stroke-width="1"/>
<line x1="357.5" y1="90.5" x2="372.5" y2="90.5" stroke="#3a0a14" stroke-width="1"/>
<line x1="342" y1="45.5" x2="365.7" y2="45.5" stroke="#4a4a4a" stroke-width="1.25"/>
<text x="354.12" y="45.5" font-size="7" text-anchor="middle" fill="#222" letter-spacing="0.25">*</text>
<text x="342.9" y="140.2" font-size="7" text-anchor="middle" fill="#2e2e2e" stroke="#2e2e2e" stroke-width="0.2" textLength="12.2" lengthAdjust="spacingAndGlyphs" dy="0.35em">Low</text>
<text x="364.5" y="140.2" font-size="7" text-anchor="middle" fill="#2e2e2e" stroke="#2e2e2e" stroke-width="0.2" textLength="14" lengthAdjust="spacingAndGlyphs" dy="0.35em">High</text>
<line x1="334" y1="146.5" x2="374.4" y2="146.5" stroke="#333" stroke-width="0.9"/>
<text x="353.9" y="154" font-size="7" text-anchor="middle" fill="#2e2e2e" stroke="#2e2e2e" stroke-width="0.2" textLength="37.8" lengthAdjust="spacingAndGlyphs" dy="0.35em">LSC17 score</text>
<text transform="translate(386.41 16.95) scale(1.053 1)" font-size="11.92" font-weight="bold" fill="#000">D</text>
<line x1="419.5" y1="42" x2="419.5" y2="122" stroke="#1e1e1e" stroke-width="1"/>
<line x1="416" y1="121.5" x2="419" y2="121.5" stroke="#1e1e1e" stroke-width="0.8"/>
<text x="412.7" y="121.7" font-size="6.6" text-anchor="end" fill="#2e2e2e" stroke="#2e2e2e" stroke-width="0.2" dy="0.35em">0</text>
<line x1="416" y1="106.5" x2="419" y2="106.5" stroke="#1e1e1e" stroke-width="0.8"/>
<text x="412.7" y="106.5" font-size="6.6" text-anchor="end" fill="#2e2e2e" stroke="#2e2e2e" stroke-width="0.2" dy="0.35em">1</text>
<line x1="416" y1="91.5" x2="419" y2="91.5" stroke="#1e1e1e" stroke-width="0.8"/>
<text x="412.7" y="91.3" font-size="6.6" text-anchor="end" fill="#2e2e2e" stroke="#2e2e2e" stroke-width="0.2" dy="0.35em">2</text>
<line x1="416" y1="76.5" x2="419" y2="76.5" stroke="#1e1e1e" stroke-width="0.8"/>
<text x="412.7" y="76.1" font-size="6.6" text-anchor="end" fill="#2e2e2e" stroke="#2e2e2e" stroke-width="0.2" dy="0.35em">3</text>
<line x1="416" y1="60.5" x2="419" y2="60.5" stroke="#1e1e1e" stroke-width="0.8"/>
<text x="412.7" y="60.9" font-size="6.6" text-anchor="end" fill="#2e2e2e" stroke="#2e2e2e" stroke-width="0.2" dy="0.35em">4</text>
<line x1="416" y1="45.5" x2="419" y2="45.5" stroke="#1e1e1e" stroke-width="0.8"/>
<text x="412.7" y="45.7" font-size="6.6" text-anchor="end" fill="#2e2e2e" stroke="#2e2e2e" stroke-width="0.2" dy="0.35em">5</text>
<line x1="419" y1="121.5" x2="508" y2="121.5" stroke="#1e1e1e" stroke-width="1.2"/>
<line x1="426.5" y1="121.8" x2="426.5" y2="124.4" stroke="#1e1e1e" stroke-width="0.9"/>
<line x1="441.5" y1="121.8" x2="441.5" y2="124.4" stroke="#1e1e1e" stroke-width="0.9"/>
<line x1="455.5" y1="121.8" x2="455.5" y2="124.4" stroke="#1e1e1e" stroke-width="0.9"/>
<line x1="470.5" y1="121.8" x2="470.5" y2="124.4" stroke="#1e1e1e" stroke-width="0.9"/>
<line x1="484.5" y1="121.8" x2="484.5" y2="124.4" stroke="#1e1e1e" stroke-width="0.9"/>
<line x1="499.5" y1="121.8" x2="499.5" y2="124.4" stroke="#1e1e1e" stroke-width="0.9"/>
<text x="403.6" y="81.5" font-size="8.5" text-anchor="middle" fill="#333" stroke="#333" stroke-width="0.2" textLength="68.7" lengthAdjust="spacingAndGlyphs" transform="rotate(-90 403.6 81.5)"><tspan font-style="italic">ZDHHC21</tspan> mRNA level</text>
<circle cx="426.5" cy="66.22" r="1.5" fill="none" stroke="#c8843c" stroke-width="0.8"/>
<circle cx="425.14" cy="66.66" r="1.5" fill="none" stroke="#c8843c" stroke-width="0.8"/>
<circle cx="424.25" cy="66.98" r="1.5" fill="none" stroke="#c8843c" stroke-width="0.8"/>
<circle cx="425.71" cy="68.59" r="1.5" fill="none" stroke="#c8843c" stroke-width="0.8"/>
<circle cx="428.6" cy="69.56" r="1.5" fill="none" stroke="#c8843c" stroke-width="0.8"/>
<circle cx="427.32" cy="70.05" r="1.5" fill="none" stroke="#c8843c" stroke-width="0.8"/>
<circle cx="425.05" cy="70.72" r="1.5" fill="none" stroke="#c8843c" stroke-width="0.8"/>
<circle cx="425.64" cy="71.31" r="1.5" fill="none" stroke="#c8843c" stroke-width="0.8"/>
<circle cx="425.14" cy="71.49" r="1.5" fill="none" stroke="#c8843c" stroke-width="0.8"/>
<circle cx="427.86" cy="72.03" r="1.5" fill="none" stroke="#c8843c" stroke-width="0.8"/>
<circle cx="426.72" cy="72.45" r="1.5" fill="none" stroke="#c8843c" stroke-width="0.8"/>
<circle cx="424.49" cy="73.93" r="1.5" fill="none" stroke="#c8843c" stroke-width="0.8"/>
<circle cx="424.67" cy="74.43" r="1.5" fill="none" stroke="#c8843c" stroke-width="0.8"/>
<circle cx="426.02" cy="74.54" r="1.5" fill="none" stroke="#c8843c" stroke-width="0.8"/>
<circle cx="428.6" cy="75.75" r="1.5" fill="none" stroke="#c8843c" stroke-width="0.8"/>
<circle cx="426.73" cy="75.77" r="1.5" fill="none" stroke="#c8843c" stroke-width="0.8"/>
<circle cx="427.14" cy="75.96" r="1.5" fill="none" stroke="#c8843c" stroke-width="0.8"/>
<circle cx="424.62" cy="76.01" r="1.5" fill="none" stroke="#c8843c" stroke-width="0.8"/>
<circle cx="424.95" cy="77.2" r="1.5" fill="none" stroke="#c8843c" stroke-width="0.8"/>
<circle cx="427.4" cy="78.05" r="1.5" fill="none" stroke="#c8843c" stroke-width="0.8"/>
<circle cx="426.09" cy="78.66" r="1.5" fill="none" stroke="#c8843c" stroke-width="0.8"/>
<circle cx="425.5" cy="78.74" r="1.5" fill="none" stroke="#c8843c" stroke-width="0.8"/>
<circle cx="425.61" cy="80.47" r="1.5" fill="none" stroke="#c8843c" stroke-width="0.8"/>
<circle cx="428.6" cy="81.26" r="1.5" fill="none" stroke="#c8843c" stroke-width="0.8"/>
<circle cx="428.58" cy="81.5" r="1.5" fill="none" stroke="#c8843c" stroke-width="0.8"/>
<circle cx="425.8" cy="83.22" r="1.5" fill="none" stroke="#c8843c" stroke-width="0.8"/>
<circle cx="428.6" cy="84.08" r="1.5" fill="none" stroke="#c8843c" stroke-width="0.8"/>
<circle cx="425.8" cy="86.37" r="1.5" fill="none" stroke="#c8843c" stroke-width="0.8"/>
<circle cx="428.6" cy="86.57" r="1.5" fill="none" stroke="#c8843c" stroke-width="0.8"/>
<circle cx="425.64" cy="88.21" r="1.5" fill="none" stroke="#c8843c" stroke-width="0.8"/>
<circle cx="426.5" cy="90.83" r="1.5" fill="none" stroke="#c8843c" stroke-width="0.8"/>
<circle cx="426.81" cy="90.93" r="1.5" fill="none" stroke="#c8843c" stroke-width="0.8"/>
<circle cx="425.84" cy="91.3" r="1.5" fill="none" stroke="#c8843c" stroke-width="0.8"/>
<circle cx="426.12" cy="92.06" r="1.5" fill="none" stroke="#c8843c" stroke-width="0.8"/>
<circle cx="428.18" cy="92.81" r="1.5" fill="none" stroke="#c8843c" stroke-width="0.8"/>
<circle cx="426.5" cy="95.69" r="1.5" fill="none" stroke="#c8843c" stroke-width="0.8"/>
<circle cx="428.78" cy="96.76" r="1.5" fill="none" stroke="#c8843c" stroke-width="0.8"/>
<circle cx="426.5" cy="101.18" r="1.5" fill="none" stroke="#c8843c" stroke-width="0.8"/>
<line x1="426.5" y1="71.54" x2="426.5" y2="86.74" stroke="#5a3a10" stroke-width="1.1"/>
<line x1="423.9" y1="71.5" x2="429.1" y2="71.5" stroke="#5a3a10" stroke-width="1.1"/>
<line x1="423.9" y1="86.5" x2="429.1" y2="86.5" stroke="#5a3a10" stroke-width="1.1"/>
<line x1="422.7" y1="77.5" x2="430.3" y2="77.5" stroke="#5a3a10" stroke-width="1.1"/>
<circle cx="441.6" cy="66.22" r="1.5" fill="none" stroke="#3e9a42" stroke-width="0.8"/>
<circle cx="441.16" cy="66.98" r="1.5" fill="none" stroke="#3e9a42" stroke-width="0.8"/>
<circle cx="443.19" cy="67.81" r="1.5" fill="none" stroke="#3e9a42" stroke-width="0.8"/>
<circle cx="443.11" cy="68.7" r="1.5" fill="none" stroke="#3e9a42" stroke-width="0.8"/>
<circle cx="440.14" cy="69.06" r="1.5" fill="none" stroke="#3e9a42" stroke-width="0.8"/>
<circle cx="440.3" cy="69.1" r="1.5" fill="none" stroke="#3e9a42" stroke-width="0.8"/>
<circle cx="441.6" cy="71.92" r="1.5" fill="none" stroke="#3e9a42" stroke-width="0.8"/>
<circle cx="441.14" cy="72.08" r="1.5" fill="none" stroke="#3e9a42" stroke-width="0.8"/>
<circle cx="441.68" cy="72.13" r="1.5" fill="none" stroke="#3e9a42" stroke-width="0.8"/>
<circle cx="441.06" cy="72.38" r="1.5" fill="none" stroke="#3e9a42" stroke-width="0.8"/>
<circle cx="439.87" cy="72.44" r="1.5" fill="none" stroke="#3e9a42" stroke-width="0.8"/>
<circle cx="440.44" cy="73.74" r="1.5" fill="none" stroke="#3e9a42" stroke-width="0.8"/>
<circle cx="442.63" cy="73.82" r="1.5" fill="none" stroke="#3e9a42" stroke-width="0.8"/>
<circle cx="443.43" cy="74.8" r="1.5" fill="none" stroke="#3e9a42" stroke-width="0.8"/>
<circle cx="440.2" cy="76.47" r="1.5" fill="none" stroke="#3e9a42" stroke-width="0.8"/>
<circle cx="439.49" cy="76.52" r="1.5" fill="none" stroke="#3e9a42" stroke-width="0.8"/>
<circle cx="441.89" cy="76.57" r="1.5" fill="none" stroke="#3e9a42" stroke-width="0.8"/>
<circle cx="441.6" cy="79.14" r="1.5" fill="none" stroke="#3e9a42" stroke-width="0.8"/>
<circle cx="442.78" cy="80.25" r="1.5" fill="none" stroke="#3e9a42" stroke-width="0.8"/>
<circle cx="439.48" cy="80.38" r="1.5" fill="none" stroke="#3e9a42" stroke-width="0.8"/>
<circle cx="443.16" cy="80.53" r="1.5" fill="none" stroke="#3e9a42" stroke-width="0.8"/>
<circle cx="439.84" cy="80.84" r="1.5" fill="none" stroke="#3e9a42" stroke-width="0.8"/>
<circle cx="442.06" cy="81.27" r="1.5" fill="none" stroke="#3e9a42" stroke-width="0.8"/>
<circle cx="441.83" cy="81.77" r="1.5" fill="none" stroke="#3e9a42" stroke-width="0.8"/>
<circle cx="442.18" cy="83.24" r="1.5" fill="none" stroke="#3e9a42" stroke-width="0.8"/>
<circle cx="439.5" cy="85.62" r="1.5" fill="none" stroke="#3e9a42" stroke-width="0.8"/>
<circle cx="442.3" cy="85.93" r="1.5" fill="none" stroke="#3e9a42" stroke-width="0.8"/>
<circle cx="440.71" cy="87.13" r="1.5" fill="none" stroke="#3e9a42" stroke-width="0.8"/>
<circle cx="441.23" cy="87.23" r="1.5" fill="none" stroke="#3e9a42" stroke-width="0.8"/>
<circle cx="441.98" cy="88.19" r="1.5" fill="none" stroke="#3e9a42" stroke-width="0.8"/>
<circle cx="441.26" cy="88.77" r="1.5" fill="none" stroke="#3e9a42" stroke-width="0.8"/>
<circle cx="442.33" cy="89.8" r="1.5" fill="none" stroke="#3e9a42" stroke-width="0.8"/>
<circle cx="441.36" cy="90.06" r="1.5" fill="none" stroke="#3e9a42" stroke-width="0.8"/>
<circle cx="441.32" cy="91.16" r="1.5" fill="none" stroke="#3e9a42" stroke-width="0.8"/>
<circle cx="439.41" cy="91.48" r="1.5" fill="none" stroke="#3e9a42" stroke-width="0.8"/>
<circle cx="442.15" cy="93.05" r="1.5" fill="none" stroke="#3e9a42" stroke-width="0.8"/>
<circle cx="441.6" cy="96.62" r="1.5" fill="none" stroke="#3e9a42" stroke-width="0.8"/>
<circle cx="441.55" cy="98.04" r="1.5" fill="none" stroke="#3e9a42" stroke-width="0.8"/>
<circle cx="440.38" cy="98.9" r="1.5" fill="none" stroke="#3e9a42" stroke-width="0.8"/>
<circle cx="443" cy="100.93" r="1.5" fill="none" stroke="#3e9a42" stroke-width="0.8"/>
<circle cx="440.2" cy="101.51" r="1.5" fill="none" stroke="#3e9a42" stroke-width="0.8"/>
<circle cx="442.81" cy="101.81" r="1.5" fill="none" stroke="#3e9a42" stroke-width="0.8"/>
<circle cx="442.89" cy="101.94" r="1.5" fill="none" stroke="#3e9a42" stroke-width="0.8"/>
<circle cx="441.6" cy="106.5" r="1.5" fill="none" stroke="#3e9a42" stroke-width="0.8"/>
<circle cx="441.41" cy="107.93" r="1.5" fill="none" stroke="#3e9a42" stroke-width="0.8"/>
<circle cx="440.13" cy="110.19" r="1.5" fill="none" stroke="#3e9a42" stroke-width="0.8"/>
<circle cx="443" cy="112.58" r="1.5" fill="none" stroke="#3e9a42" stroke-width="0.8"/>
<line x1="441.5" y1="71.54" x2="441.5" y2="93.58" stroke="#1a4a1a" stroke-width="1.1"/>
<line x1="439" y1="71.5" x2="444.2" y2="71.5" stroke="#1a4a1a" stroke-width="1.1"/>
<line x1="439" y1="93.5" x2="444.2" y2="93.5" stroke="#1a4a1a" stroke-width="1.1"/>
<line x1="437.8" y1="82.5" x2="445.4" y2="82.5" stroke="#1a4a1a" stroke-width="1.1"/>
<circle cx="455.4" cy="73.06" r="1.5" fill="none" stroke="#eda84c" stroke-width="0.8"/>
<circle cx="456.47" cy="73.82" r="1.5" fill="none" stroke="#eda84c" stroke-width="0.8"/>
<circle cx="456.68" cy="75.44" r="1.5" fill="none" stroke="#eda84c" stroke-width="0.8"/>
<circle cx="454" cy="76.71" r="1.5" fill="none" stroke="#eda84c" stroke-width="0.8"/>
<circle cx="455.45" cy="77.01" r="1.5" fill="none" stroke="#eda84c" stroke-width="0.8"/>
<circle cx="453.35" cy="78.33" r="1.5" fill="none" stroke="#eda84c" stroke-width="0.8"/>
<circle cx="455.4" cy="82.97" r="1.5" fill="none" stroke="#eda84c" stroke-width="0.8"/>
<circle cx="455.42" cy="83.87" r="1.5" fill="none" stroke="#eda84c" stroke-width="0.8"/>
<circle cx="454.84" cy="86.17" r="1.5" fill="none" stroke="#eda84c" stroke-width="0.8"/>
<circle cx="457.5" cy="86.33" r="1.5" fill="none" stroke="#eda84c" stroke-width="0.8"/>
<circle cx="457.47" cy="87.98" r="1.5" fill="none" stroke="#eda84c" stroke-width="0.8"/>
<circle cx="455.4" cy="98.9" r="1.5" fill="none" stroke="#eda84c" stroke-width="0.8"/>
<circle cx="455.4" cy="111.82" r="1.5" fill="none" stroke="#eda84c" stroke-width="0.8"/>
<line x1="455.5" y1="72.76" x2="455.5" y2="95.1" stroke="#2a2a40" stroke-width="1.1"/>
<line x1="452.8" y1="72.5" x2="458" y2="72.5" stroke="#2a2a40" stroke-width="1.1"/>
<line x1="452.8" y1="95.5" x2="458" y2="95.5" stroke="#2a2a40" stroke-width="1.1"/>
<line x1="451.6" y1="83.5" x2="459.2" y2="83.5" stroke="#2a2a40" stroke-width="1.1"/>
<circle cx="470.2" cy="74.58" r="1.5" fill="none" stroke="#4a9ad6" stroke-width="0.8"/>
<circle cx="469.51" cy="75.2" r="1.5" fill="none" stroke="#4a9ad6" stroke-width="0.8"/>
<circle cx="471.38" cy="76.1" r="1.5" fill="none" stroke="#4a9ad6" stroke-width="0.8"/>
<circle cx="468.8" cy="77.97" r="1.5" fill="none" stroke="#4a9ad6" stroke-width="0.8"/>
<circle cx="470.2" cy="83.95" r="1.5" fill="none" stroke="#4a9ad6" stroke-width="0.8"/>
<circle cx="468.63" cy="84.73" r="1.5" fill="none" stroke="#4a9ad6" stroke-width="0.8"/>
<circle cx="470.2" cy="87.92" r="1.5" fill="none" stroke="#4a9ad6" stroke-width="0.8"/>
<circle cx="472.02" cy="88.92" r="1.5" fill="none" stroke="#4a9ad6" stroke-width="0.8"/>
<circle cx="468.8" cy="90.83" r="1.5" fill="none" stroke="#4a9ad6" stroke-width="0.8"/>
<circle cx="470.2" cy="93.87" r="1.5" fill="none" stroke="#4a9ad6" stroke-width="0.8"/>
<circle cx="469.16" cy="93.91" r="1.5" fill="none" stroke="#4a9ad6" stroke-width="0.8"/>
<circle cx="470.2" cy="108.78" r="1.5" fill="none" stroke="#4a9ad6" stroke-width="0.8"/>
<circle cx="470.2" cy="111.82" r="1.5" fill="none" stroke="#4a9ad6" stroke-width="0.8"/>
<line x1="470.5" y1="76.1" x2="470.5" y2="99.36" stroke="#1a2a3a" stroke-width="1.1"/>
<line x1="467.6" y1="76.5" x2="472.8" y2="76.5" stroke="#1a2a3a" stroke-width="1.1"/>
<line x1="467.6" y1="99.5" x2="472.8" y2="99.5" stroke="#1a2a3a" stroke-width="1.1"/>
<line x1="466.4" y1="87.5" x2="474" y2="87.5" stroke="#1a2a3a" stroke-width="1.1"/>
<circle cx="484.8" cy="68.5" r="1.5" fill="none" stroke="#e0288c" stroke-width="0.8"/>
<circle cx="486.17" cy="69.75" r="1.5" fill="none" stroke="#e0288c" stroke-width="0.8"/>
<circle cx="483.72" cy="70.02" r="1.5" fill="none" stroke="#e0288c" stroke-width="0.8"/>
<circle cx="486.9" cy="72.37" r="1.5" fill="none" stroke="#e0288c" stroke-width="0.8"/>
<circle cx="484.8" cy="75.29" r="1.5" fill="none" stroke="#e0288c" stroke-width="0.8"/>
<circle cx="487.06" cy="75.6" r="1.5" fill="none" stroke="#e0288c" stroke-width="0.8"/>
<circle cx="485.16" cy="75.89" r="1.5" fill="none" stroke="#e0288c" stroke-width="0.8"/>
<circle cx="484.16" cy="76.28" r="1.5" fill="none" stroke="#e0288c" stroke-width="0.8"/>
<circle cx="486.02" cy="76.82" r="1.5" fill="none" stroke="#e0288c" stroke-width="0.8"/>
<circle cx="484.53" cy="78.07" r="1.5" fill="none" stroke="#e0288c" stroke-width="0.8"/>
<circle cx="484.8" cy="81.67" r="1.5" fill="none" stroke="#e0288c" stroke-width="0.8"/>
<circle cx="483.31" cy="81.86" r="1.5" fill="none" stroke="#e0288c" stroke-width="0.8"/>
<circle cx="485.92" cy="82.37" r="1.5" fill="none" stroke="#e0288c" stroke-width="0.8"/>
<circle cx="482.72" cy="83.99" r="1.5" fill="none" stroke="#e0288c" stroke-width="0.8"/>
<circle cx="486.27" cy="84" r="1.5" fill="none" stroke="#e0288c" stroke-width="0.8"/>
<circle cx="483.67" cy="85.12" r="1.5" fill="none" stroke="#e0288c" stroke-width="0.8"/>
<circle cx="484.8" cy="88.35" r="1.5" fill="none" stroke="#e0288c" stroke-width="0.8"/>
<circle cx="485.44" cy="89.34" r="1.5" fill="none" stroke="#e0288c" stroke-width="0.8"/>
<circle cx="487.03" cy="89.96" r="1.5" fill="none" stroke="#e0288c" stroke-width="0.8"/>
<circle cx="485.2" cy="90.21" r="1.5" fill="none" stroke="#e0288c" stroke-width="0.8"/>
<circle cx="485.55" cy="91.69" r="1.5" fill="none" stroke="#e0288c" stroke-width="0.8"/>
<circle cx="483.94" cy="91.99" r="1.5" fill="none" stroke="#e0288c" stroke-width="0.8"/>
<circle cx="482.51" cy="92.01" r="1.5" fill="none" stroke="#e0288c" stroke-width="0.8"/>
<circle cx="482.66" cy="92.8" r="1.5" fill="none" stroke="#e0288c" stroke-width="0.8"/>
<circle cx="484.8" cy="98.9" r="1.5" fill="none" stroke="#e0288c" stroke-width="0.8"/>
<circle cx="483.19" cy="100.24" r="1.5" fill="none" stroke="#e0288c" stroke-width="0.8"/>
<circle cx="485.33" cy="101.22" r="1.5" fill="none" stroke="#e0288c" stroke-width="0.8"/>
<circle cx="484.49" cy="101.94" r="1.5" fill="none" stroke="#e0288c" stroke-width="0.8"/>
<circle cx="484.86" cy="104.19" r="1.5" fill="none" stroke="#e0288c" stroke-width="0.8"/>
<circle cx="486.62" cy="104.98" r="1.5" fill="none" stroke="#e0288c" stroke-width="0.8"/>
<line x1="484.5" y1="74.58" x2="484.5" y2="92.82" stroke="#4a1030" stroke-width="1.1"/>
<line x1="482.2" y1="74.5" x2="487.4" y2="74.5" stroke="#4a1030" stroke-width="1.1"/>
<line x1="482.2" y1="92.5" x2="487.4" y2="92.5" stroke="#4a1030" stroke-width="1.1"/>
<line x1="481" y1="83.5" x2="488.6" y2="83.5" stroke="#4a1030" stroke-width="1.1"/>
<circle cx="499.7" cy="68.5" r="1.5" fill="none" stroke="#d21e3e" stroke-width="0.8"/>
<circle cx="501.03" cy="69.26" r="1.5" fill="none" stroke="#d21e3e" stroke-width="0.8"/>
<circle cx="499.81" cy="69.49" r="1.5" fill="none" stroke="#d21e3e" stroke-width="0.8"/>
<circle cx="498.62" cy="70.18" r="1.5" fill="none" stroke="#d21e3e" stroke-width="0.8"/>
<circle cx="500.35" cy="70.77" r="1.5" fill="none" stroke="#d21e3e" stroke-width="0.8"/>
<circle cx="501.84" cy="71.47" r="1.5" fill="none" stroke="#d21e3e" stroke-width="0.8"/>
<circle cx="498.4" cy="71.53" r="1.5" fill="none" stroke="#d21e3e" stroke-width="0.8"/>
<circle cx="501.45" cy="72.84" r="1.5" fill="none" stroke="#d21e3e" stroke-width="0.8"/>
<circle cx="497.47" cy="72.9" r="1.5" fill="none" stroke="#d21e3e" stroke-width="0.8"/>
<circle cx="498.6" cy="73.32" r="1.5" fill="none" stroke="#d21e3e" stroke-width="0.8"/>
<circle cx="498.49" cy="73.92" r="1.5" fill="none" stroke="#d21e3e" stroke-width="0.8"/>
<circle cx="500.82" cy="74.13" r="1.5" fill="none" stroke="#d21e3e" stroke-width="0.8"/>
<circle cx="501.75" cy="74.23" r="1.5" fill="none" stroke="#d21e3e" stroke-width="0.8"/>
<circle cx="499.7" cy="76.78" r="1.5" fill="none" stroke="#d21e3e" stroke-width="0.8"/>
<circle cx="500.83" cy="78.15" r="1.5" fill="none" stroke="#d21e3e" stroke-width="0.8"/>
<circle cx="498.9" cy="78.37" r="1.5" fill="none" stroke="#d21e3e" stroke-width="0.8"/>
<circle cx="501.45" cy="78.89" r="1.5" fill="none" stroke="#d21e3e" stroke-width="0.8"/>
<circle cx="498.91" cy="80.04" r="1.5" fill="none" stroke="#d21e3e" stroke-width="0.8"/>
<circle cx="498.5" cy="80.11" r="1.5" fill="none" stroke="#d21e3e" stroke-width="0.8"/>
<circle cx="501.57" cy="80.54" r="1.5" fill="none" stroke="#d21e3e" stroke-width="0.8"/>
<circle cx="500.3" cy="80.69" r="1.5" fill="none" stroke="#d21e3e" stroke-width="0.8"/>
<circle cx="500.59" cy="81.1" r="1.5" fill="none" stroke="#d21e3e" stroke-width="0.8"/>
<circle cx="500.46" cy="81.25" r="1.5" fill="none" stroke="#d21e3e" stroke-width="0.8"/>
<circle cx="501.9" cy="81.58" r="1.5" fill="none" stroke="#d21e3e" stroke-width="0.8"/>
<circle cx="499.56" cy="81.78" r="1.5" fill="none" stroke="#d21e3e" stroke-width="0.8"/>
<circle cx="501.26" cy="81.92" r="1.5" fill="none" stroke="#d21e3e" stroke-width="0.8"/>
<circle cx="500.61" cy="82.2" r="1.5" fill="none" stroke="#d21e3e" stroke-width="0.8"/>
<circle cx="501.34" cy="82.37" r="1.5" fill="none" stroke="#d21e3e" stroke-width="0.8"/>
<circle cx="499.41" cy="83.16" r="1.5" fill="none" stroke="#d21e3e" stroke-width="0.8"/>
<circle cx="500.73" cy="83.27" r="1.5" fill="none" stroke="#d21e3e" stroke-width="0.8"/>
<circle cx="500.02" cy="83.76" r="1.5" fill="none" stroke="#d21e3e" stroke-width="0.8"/>
<circle cx="498.82" cy="84.18" r="1.5" fill="none" stroke="#d21e3e" stroke-width="0.8"/>
<circle cx="498.38" cy="84.47" r="1.5" fill="none" stroke="#d21e3e" stroke-width="0.8"/>
<circle cx="500.26" cy="85.63" r="1.5" fill="none" stroke="#d21e3e" stroke-width="0.8"/>
<circle cx="497.76" cy="85.7" r="1.5" fill="none" stroke="#d21e3e" stroke-width="0.8"/>
<circle cx="501.59" cy="85.92" r="1.5" fill="none" stroke="#d21e3e" stroke-width="0.8"/>
<circle cx="498.07" cy="85.98" r="1.5" fill="none" stroke="#d21e3e" stroke-width="0.8"/>
<circle cx="497.52" cy="86.41" r="1.5" fill="none" stroke="#d21e3e" stroke-width="0.8"/>
<circle cx="497.89" cy="86.5" r="1.5" fill="none" stroke="#d21e3e" stroke-width="0.8"/>
<circle cx="501.67" cy="86.52" r="1.5" fill="none" stroke="#d21e3e" stroke-width="0.8"/>
<circle cx="498.99" cy="86.58" r="1.5" fill="none" stroke="#d21e3e" stroke-width="0.8"/>
<circle cx="498.05" cy="87.1" r="1.5" fill="none" stroke="#d21e3e" stroke-width="0.8"/>
<circle cx="497.53" cy="87.34" r="1.5" fill="none" stroke="#d21e3e" stroke-width="0.8"/>
<circle cx="497.59" cy="87.41" r="1.5" fill="none" stroke="#d21e3e" stroke-width="0.8"/>
<circle cx="500.59" cy="88.03" r="1.5" fill="none" stroke="#d21e3e" stroke-width="0.8"/>
<circle cx="500.32" cy="88.59" r="1.5" fill="none" stroke="#d21e3e" stroke-width="0.8"/>
<circle cx="500.61" cy="88.74" r="1.5" fill="none" stroke="#d21e3e" stroke-width="0.8"/>
<circle cx="500.79" cy="88.88" r="1.5" fill="none" stroke="#d21e3e" stroke-width="0.8"/>
<circle cx="497.6" cy="90.02" r="1.5" fill="none" stroke="#d21e3e" stroke-width="0.8"/>
<circle cx="497.7" cy="90.51" r="1.5" fill="none" stroke="#d21e3e" stroke-width="0.8"/>
<circle cx="500.12" cy="90.56" r="1.5" fill="none" stroke="#d21e3e" stroke-width="0.8"/>
<circle cx="499.07" cy="92.82" r="1.5" fill="none" stroke="#d21e3e" stroke-width="0.8"/>
<circle cx="501.16" cy="92.83" r="1.5" fill="none" stroke="#d21e3e" stroke-width="0.8"/>
<circle cx="501.17" cy="93.25" r="1.5" fill="none" stroke="#d21e3e" stroke-width="0.8"/>
<circle cx="501.5" cy="93.4" r="1.5" fill="none" stroke="#d21e3e" stroke-width="0.8"/>
<circle cx="497.7" cy="93.54" r="1.5" fill="none" stroke="#d21e3e" stroke-width="0.8"/>
<circle cx="501.39" cy="93.69" r="1.5" fill="none" stroke="#d21e3e" stroke-width="0.8"/>
<circle cx="501.61" cy="93.77" r="1.5" fill="none" stroke="#d21e3e" stroke-width="0.8"/>
<circle cx="501.74" cy="94.5" r="1.5" fill="none" stroke="#d21e3e" stroke-width="0.8"/>
<circle cx="497.89" cy="94.87" r="1.5" fill="none" stroke="#d21e3e" stroke-width="0.8"/>
<circle cx="498.35" cy="95.22" r="1.5" fill="none" stroke="#d21e3e" stroke-width="0.8"/>
<circle cx="497.92" cy="95.34" r="1.5" fill="none" stroke="#d21e3e" stroke-width="0.8"/>
<circle cx="497.56" cy="95.8" r="1.5" fill="none" stroke="#d21e3e" stroke-width="0.8"/>
<circle cx="501.3" cy="95.87" r="1.5" fill="none" stroke="#d21e3e" stroke-width="0.8"/>
<circle cx="501.14" cy="95.87" r="1.5" fill="none" stroke="#d21e3e" stroke-width="0.8"/>
<circle cx="500.32" cy="97.48" r="1.5" fill="none" stroke="#d21e3e" stroke-width="0.8"/>
<circle cx="497.6" cy="98.4" r="1.5" fill="none" stroke="#d21e3e" stroke-width="0.8"/>
<circle cx="501.2" cy="98.64" r="1.5" fill="none" stroke="#d21e3e" stroke-width="0.8"/>
<circle cx="500.31" cy="100.18" r="1.5" fill="none" stroke="#d21e3e" stroke-width="0.8"/>
<circle cx="497.6" cy="101.97" r="1.5" fill="none" stroke="#d21e3e" stroke-width="0.8"/>
<circle cx="500.4" cy="103.25" r="1.5" fill="none" stroke="#d21e3e" stroke-width="0.8"/>
<circle cx="499.7" cy="106.09" r="1.5" fill="none" stroke="#d21e3e" stroke-width="0.8"/>
<circle cx="498.72" cy="106.5" r="1.5" fill="none" stroke="#d21e3e" stroke-width="0.8"/>
<circle cx="497.86" cy="108.02" r="1.5" fill="none" stroke="#d21e3e" stroke-width="0.8"/>
<circle cx="501.1" cy="109.54" r="1.5" fill="none" stroke="#d21e3e" stroke-width="0.8"/>
<circle cx="499.7" cy="112.58" r="1.5" fill="none" stroke="#d21e3e" stroke-width="0.8"/>
<circle cx="497.85" cy="114.86" r="1.5" fill="none" stroke="#d21e3e" stroke-width="0.8"/>
<line x1="499.5" y1="76.1" x2="499.5" y2="97.38" stroke="#3a0a10" stroke-width="1.1"/>
<line x1="497.1" y1="76.5" x2="502.3" y2="76.5" stroke="#3a0a10" stroke-width="1.1"/>
<line x1="497.1" y1="97.5" x2="502.3" y2="97.5" stroke="#3a0a10" stroke-width="1.1"/>
<line x1="495.9" y1="86.5" x2="503.5" y2="86.5" stroke="#3a0a10" stroke-width="1.1"/>
<line x1="419" y1="86.5" x2="508.5" y2="86.5" stroke="#111" stroke-width="1.2" stroke-dasharray="1.2 1.2"/>
<polyline points="426.5,53 426.5,39.4 499.7,39.4 499.7,63.7" stroke="#333" stroke-width="0.8" fill="none"/>
<text x="463.22" y="39.6" font-size="7" text-anchor="middle" fill="#222" letter-spacing="0.25">***</text>
<polyline points="441.6,57.5 441.6,49.8 499.7,49.8 499.7,57" stroke="#333" stroke-width="0.8" fill="none"/>
<text x="470.77" y="50" font-size="7" text-anchor="middle" fill="#222" letter-spacing="0.25">**</text>
<text x="425.9" y="125.6" font-size="7.6" text-anchor="end" fill="#2e2e2e" stroke="#2e2e2e" stroke-width="0.2" textLength="28" lengthAdjust="spacingAndGlyphs" dy="0.7em" transform="rotate(-45 425.9 125.6)">FLT3-ITD</text>
<text x="441" y="125.6" font-size="7.6" text-anchor="end" fill="#2e2e2e" stroke="#2e2e2e" stroke-width="0.2" textLength="18.7" lengthAdjust="spacingAndGlyphs" dy="0.7em" transform="rotate(-45 441 125.6)">NPM1</text>
<text x="454.8" y="125.6" font-size="7.6" text-anchor="end" fill="#2e2e2e" stroke="#2e2e2e" stroke-width="0.2" textLength="22.2" lengthAdjust="spacingAndGlyphs" dy="0.7em" transform="rotate(-45 454.8 125.6)">CEBPA</text>
<text x="469.6" y="125.6" font-size="7.6" text-anchor="end" fill="#2e2e2e" stroke="#2e2e2e" stroke-width="0.2" textLength="18.7" lengthAdjust="spacingAndGlyphs" dy="0.7em" transform="rotate(-45 469.6 125.6)">NRAS</text>
<text x="484.2" y="125.6" font-size="7.6" text-anchor="end" fill="#2e2e2e" stroke="#2e2e2e" stroke-width="0.2" textLength="21" lengthAdjust="spacingAndGlyphs" dy="0.7em" transform="rotate(-45 484.2 125.6)">IDH1/2</text>
<text x="499.1" y="125.6" font-size="7.6" text-anchor="end" fill="#2e2e2e" stroke="#2e2e2e" stroke-width="0.2" textLength="16.4" lengthAdjust="spacingAndGlyphs" dy="0.7em" transform="rotate(-45 499.1 125.6)">other</text>
<text x="411" y="157.3" font-size="6.5" text-anchor="middle" fill="#2e2e2e" stroke="#2e2e2e" stroke-width="0.2" dy="0.35em">(n)</text>
<text x="426.5" y="157.3" font-size="7.2" text-anchor="middle" fill="#2e2e2e" stroke="#2e2e2e" stroke-width="0.2" dy="0.35em">38</text>
<text x="441.6" y="157.3" font-size="7.2" text-anchor="middle" fill="#2e2e2e" stroke="#2e2e2e" stroke-width="0.2" dy="0.35em">47</text>
<text x="455.4" y="157.3" font-size="7.2" text-anchor="middle" fill="#2e2e2e" stroke="#2e2e2e" stroke-width="0.2" dy="0.35em">13</text>
<text x="470.2" y="157.3" font-size="7.2" text-anchor="middle" fill="#2e2e2e" stroke="#2e2e2e" stroke-width="0.2" dy="0.35em">13</text>
<text x="484.8" y="157.3" font-size="7.2" text-anchor="middle" fill="#2e2e2e" stroke="#2e2e2e" stroke-width="0.2" dy="0.35em">30</text>
<text x="499.7" y="157.3" font-size="7.2" text-anchor="middle" fill="#2e2e2e" stroke="#2e2e2e" stroke-width="0.2" dy="0.35em">77</text>
<text transform="translate(8.29 192.85) scale(0.858 1)" font-size="12.35" font-weight="bold" fill="#000">E</text>
<line x1="47.5" y1="210.3" x2="47.5" y2="292.3" stroke="#1e1e1e" stroke-width="1.2"/>
<line x1="45.2" y1="213.5" x2="47.8" y2="213.5" stroke="#1e1e1e" stroke-width="0.8"/>
<text x="41.2" y="213.3" font-size="6.5" text-anchor="end" fill="#2e2e2e" stroke="#2e2e2e" stroke-width="0.2" dy="0.35em">1.5</text>
<line x1="45.2" y1="237.5" x2="47.8" y2="237.5" stroke="#1e1e1e" stroke-width="0.8"/>
<text x="41.2" y="237.8" font-size="6.5" text-anchor="end" fill="#2e2e2e" stroke="#2e2e2e" stroke-width="0.2" dy="0.35em">1.0</text>
<line x1="45.2" y1="262.5" x2="47.8" y2="262.5" stroke="#1e1e1e" stroke-width="0.8"/>
<text x="41.2" y="262.3" font-size="6.5" text-anchor="end" fill="#2e2e2e" stroke="#2e2e2e" stroke-width="0.2" dy="0.35em">0.5</text>
<line x1="45.2" y1="286.5" x2="47.8" y2="286.5" stroke="#1e1e1e" stroke-width="0.8"/>
<text x="41.2" y="286.8" font-size="6.5" text-anchor="end" fill="#2e2e2e" stroke="#2e2e2e" stroke-width="0.2" dy="0.35em">0</text>
<line x1="47.8" y1="292.5" x2="105" y2="292.5" stroke="#1e1e1e" stroke-width="1.2"/>
<line x1="62.5" y1="292.3" x2="62.5" y2="295" stroke="#1e1e1e" stroke-width="0.9"/>
<line x1="85.5" y1="292.3" x2="85.5" y2="295" stroke="#1e1e1e" stroke-width="0.9"/>
<rect x="55.3" y="272.59" width="15.3" height="14.21" fill="#3db54a"/>
<rect x="78.1" y="254.22" width="14.7" height="32.59" fill="#c9102f"/>
<line x1="45.3" y1="286.5" x2="103" y2="286.5" stroke="#111" stroke-width="0.9" stroke-dasharray="1.6 1.4"/>
<line x1="62.5" y1="272.59" x2="62.5" y2="258.62" stroke="#1e1e1e" stroke-width="1"/>
<line x1="58.8" y1="258.5" x2="67.2" y2="258.5" stroke="#1e1e1e" stroke-width="1"/>
<line x1="85.5" y1="254.22" x2="85.5" y2="232.12" stroke="#1e1e1e" stroke-width="1"/>
<line x1="81.2" y1="232.5" x2="90" y2="232.5" stroke="#1e1e1e" stroke-width="1"/>
<circle cx="60.3" cy="251.3" r="1.75" fill="#0a0a0a"/>
<circle cx="65.6" cy="250" r="1.75" fill="#0a0a0a"/>
<circle cx="62.9" cy="261.9" r="1.75" fill="#0a0a0a"/>
<circle cx="65" cy="270.6" r="1.75" fill="#0a0a0a"/>
<circle cx="61" cy="274.8" r="1.75" fill="#0a0a0a"/>
<circle cx="67.8" cy="279" r="1.75" fill="#0a0a0a"/>
<circle cx="57.9" cy="280" r="1.75" fill="#0a0a0a"/>
<circle cx="62.9" cy="281.5" r="1.75" fill="#0a0a0a"/>
<circle cx="65.6" cy="285" r="1.75" fill="#0a0a0a"/>
<circle cx="60.6" cy="286.3" r="1.75" fill="#0a0a0a"/>
<rect x="84" y="217.5" width="3.2" height="3.2" fill="#0a0a0a"/>
<rect x="84" y="223" width="3.2" height="3.2" fill="#0a0a0a"/>
<rect x="84" y="240.9" width="3.2" height="3.2" fill="#0a0a0a"/>
<rect x="81.5" y="246.5" width="3.2" height="3.2" fill="#0a0a0a"/>
<rect x="86.5" y="246.5" width="3.2" height="3.2" fill="#0a0a0a"/>
<rect x="81.2" y="276.5" width="3.2" height="3.2" fill="#0a0a0a"/>
<rect x="86.7" y="276.5" width="3.2" height="3.2" fill="#0a0a0a"/>
<circle cx="85.6" cy="253.8" r="1.7" fill="#0a0a0a"/>
<circle cx="85.6" cy="264.4" r="1.7" fill="#0a0a0a"/>
<circle cx="85.6" cy="286" r="1.7" fill="#0a0a0a"/>
<line x1="59.4" y1="211.5" x2="83.8" y2="211.5" stroke="#4a4a4a" stroke-width="1.25"/>
<text x="71.42" y="211.2" font-size="7" text-anchor="middle" fill="#222" letter-spacing="0.25">*</text>
<text x="26.4" y="251" font-size="8.5" text-anchor="middle" fill="#333" stroke="#333" stroke-width="0.2" textLength="74.3" lengthAdjust="spacingAndGlyphs" transform="rotate(-90 26.4 251)">Relative ZDHHC21 level</text>
<text x="62.9" y="302.3" font-size="6.8" text-anchor="middle" fill="#2e2e2e" stroke="#2e2e2e" stroke-width="0.2" textLength="8.5" lengthAdjust="spacingAndGlyphs" dy="0.35em">No</text>
<text x="85.6" y="302.3" font-size="6.8" text-anchor="middle" fill="#2e2e2e" stroke="#2e2e2e" stroke-width="0.2" textLength="10.5" lengthAdjust="spacingAndGlyphs" dy="0.35em">Yes</text>
<line x1="56" y1="306.5" x2="96" y2="306.5" stroke="#333" stroke-width="0.9"/>
<text x="76.2" y="313.3" font-size="6.8" text-anchor="middle" fill="#2e2e2e" stroke="#2e2e2e" stroke-width="0.2" textLength="25" lengthAdjust="spacingAndGlyphs" dy="0.35em">FLT3-ITD</text>
<text transform="translate(121.44 192.75) scale(0.882 1)" font-size="12.06" font-weight="bold" fill="#000">F</text>
<text x="196" y="199.5" font-size="7.4" text-anchor="middle" fill="#2e2e2e" stroke="#2e2e2e" stroke-width="0.2" textLength="13.5" lengthAdjust="spacingAndGlyphs" dy="0.35em">HSC</text>
<line x1="172" y1="206.5" x2="219.5" y2="206.5" stroke="#333" stroke-width="0.9"/>
<text x="278.8" y="199.5" font-size="7.4" text-anchor="middle" fill="#2e2e2e" stroke="#2e2e2e" stroke-width="0.2" textLength="13" lengthAdjust="spacingAndGlyphs" dy="0.35em">LSC</text>
<line x1="226.2" y1="206.5" x2="331.3" y2="206.5" stroke="#333" stroke-width="0.9"/>
<text x="166.3" y="212.8" font-size="6.9" text-anchor="end" fill="#2e2e2e" stroke="#2e2e2e" stroke-width="0.2" textLength="39" lengthAdjust="spacingAndGlyphs" dy="0.35em">shZDHHC21</text>
<text x="166.3" y="223.3" font-size="7.3" text-anchor="end" fill="#2e2e2e" stroke="#2e2e2e" stroke-width="0.2" textLength="31" lengthAdjust="spacingAndGlyphs" dy="0.35em">ZDHHC21</text>
<text x="166.3" y="235.8" font-size="7.3" text-anchor="end" fill="#2e2e2e" stroke="#2e2e2e" stroke-width="0.2" textLength="24.2" lengthAdjust="spacingAndGlyphs" dy="0.35em">GAPDH</text>
<text x="177.5" y="212.6" font-size="6" text-anchor="middle" fill="#2e2e2e" stroke="#2e2e2e" stroke-width="0.2" dy="0.35em">–</text>
<text x="187.8" y="212.6" font-size="6.5" text-anchor="middle" fill="#2e2e2e" stroke="#2e2e2e" stroke-width="0.2" dy="0.35em">+</text>
<text x="205.2" y="212.6" font-size="6" text-anchor="middle" fill="#2e2e2e" stroke="#2e2e2e" stroke-width="0.2" dy="0.35em">–</text>
<text x="215.6" y="212.6" font-size="6.5" text-anchor="middle" fill="#2e2e2e" stroke="#2e2e2e" stroke-width="0.2" dy="0.35em">+</text>
<text x="231.3" y="212.6" font-size="6" text-anchor="middle" fill="#2e2e2e" stroke="#2e2e2e" stroke-width="0.2" dy="0.35em">–</text>
<text x="242" y="212.6" font-size="6.5" text-anchor="middle" fill="#2e2e2e" stroke="#2e2e2e" stroke-width="0.2" dy="0.35em">+</text>
<text x="259.5" y="212.6" font-size="6" text-anchor="middle" fill="#2e2e2e" stroke="#2e2e2e" stroke-width="0.2" dy="0.35em">–</text>
<text x="270" y="212.6" font-size="6.5" text-anchor="middle" fill="#2e2e2e" stroke="#2e2e2e" stroke-width="0.2" dy="0.35em">+</text>
<text x="286.3" y="212.6" font-size="6" text-anchor="middle" fill="#2e2e2e" stroke="#2e2e2e" stroke-width="0.2" dy="0.35em">–</text>
<text x="297.5" y="212.6" font-size="6.5" text-anchor="middle" fill="#2e2e2e" stroke="#2e2e2e" stroke-width="0.2" dy="0.35em">+</text>
<text x="314.5" y="212.6" font-size="6" text-anchor="middle" fill="#2e2e2e" stroke="#2e2e2e" stroke-width="0.2" dy="0.35em">–</text>
<text x="325.5" y="212.6" font-size="6.5" text-anchor="middle" fill="#2e2e2e" stroke="#2e2e2e" stroke-width="0.2" dy="0.35em">+</text>
<linearGradient id="g1103" x1="0" x2="0" y1="0" y2="1"><stop offset="0" stop-color="#d2d2d2"/><stop offset="0.5" stop-color="#f3f3f3"/><stop offset="1" stop-color="#d2d2d2"/></linearGradient>
<rect x="170.1" y="217" width="25.6" height="11.3" fill="url(#g1103)" stroke="#2a2a2a" stroke-width="0.8"/>
<rect x="171.4" y="221" width="11" height="3" rx="1.2" fill="#1e1e1e" filter="url(#bl)"/>
<rect x="183.3" y="221" width="11" height="3" rx="1.2" fill="#6a6a6a" filter="url(#bl)"/>
<linearGradient id="g1107" x1="0" x2="0" y1="0" y2="1"><stop offset="0" stop-color="#d2d2d2"/><stop offset="0.5" stop-color="#f3f3f3"/><stop offset="1" stop-color="#d2d2d2"/></linearGradient>
<rect x="170.1" y="229.9" width="25.6" height="11.5" fill="url(#g1107)" stroke="#2a2a2a" stroke-width="0.8"/>
<rect x="171.4" y="234.2" width="11" height="2.4" rx="1.2" fill="#6a6a6a" filter="url(#bl)"/>
<rect x="183.3" y="234.2" width="11" height="2.4" rx="1.2" fill="#6a6a6a" filter="url(#bl)"/>
<linearGradient id="g1111" x1="0" x2="0" y1="0" y2="1"><stop offset="0" stop-color="#d2d2d2"/><stop offset="0.5" stop-color="#f3f3f3"/><stop offset="1" stop-color="#d2d2d2"/></linearGradient>
<rect x="197.6" y="217" width="25.6" height="11.3" fill="url(#g1111)" stroke="#2a2a2a" stroke-width="0.8"/>
<rect x="198.9" y="221" width="11" height="3" rx="1.2" fill="#7a7a7a" filter="url(#bl)"/>
<rect x="210.8" y="221" width="11" height="3" rx="1.2" fill="#b5b5b5" filter="url(#bl)"/>
<linearGradient id="g1115" x1="0" x2="0" y1="0" y2="1"><stop offset="0" stop-color="#d2d2d2"/><stop offset="0.5" stop-color="#f3f3f3"/><stop offset="1" stop-color="#d2d2d2"/></linearGradient>
<rect x="197.6" y="229.9" width="25.6" height="11.5" fill="url(#g1115)" stroke="#2a2a2a" stroke-width="0.8"/>
<rect x="198.9" y="234.2" width="11" height="2.4" rx="1.2" fill="#6e6e6e" filter="url(#bl)"/>
<rect x="210.8" y="234.2" width="11" height="2.4" rx="1.2" fill="#6a6a6a" filter="url(#bl)"/>
<linearGradient id="g1119" x1="0" x2="0" y1="0" y2="1"><stop offset="0" stop-color="#d2d2d2"/><stop offset="0.5" stop-color="#f3f3f3"/><stop offset="1" stop-color="#d2d2d2"/></linearGradient>
<rect x="225.4" y="217" width="25.6" height="11.3" fill="url(#g1119)" stroke="#2a2a2a" stroke-width="0.8"/>
<rect x="226.7" y="221" width="11" height="3" rx="1.2" fill="#555" filter="url(#bl)"/>
<rect x="238.6" y="221" width="11" height="3" rx="1.2" fill="#999" filter="url(#bl)"/>
<linearGradient id="g1123" x1="0" x2="0" y1="0" y2="1"><stop offset="0" stop-color="#d2d2d2"/><stop offset="0.5" stop-color="#f3f3f3"/><stop offset="1" stop-color="#d2d2d2"/></linearGradient>
<rect x="225.4" y="229.9" width="25.6" height="11.5" fill="url(#g1123)" stroke="#2a2a2a" stroke-width="0.8"/>
<rect x="226.7" y="234.2" width="11" height="2.4" rx="1.2" fill="#3a3a3a" filter="url(#bl)"/>
<rect x="238.6" y="234.2" width="11" height="2.4" rx="1.2" fill="#1e1e1e" filter="url(#bl)"/>
<linearGradient id="g1127" x1="0" x2="0" y1="0" y2="1"><stop offset="0" stop-color="#d2d2d2"/><stop offset="0.5" stop-color="#f3f3f3"/><stop offset="1" stop-color="#d2d2d2"/></linearGradient>
<rect x="253.2" y="217" width="25.6" height="11.3" fill="url(#g1127)" stroke="#2a2a2a" stroke-width="0.8"/>
<rect x="254.5" y="221" width="11" height="3" rx="1.2" fill="#3a3a3a" filter="url(#bl)"/>
<rect x="266.4" y="221" width="11" height="3" rx="1.2" fill="#9a9a9a" filter="url(#bl)"/>
<linearGradient id="g1131" x1="0" x2="0" y1="0" y2="1"><stop offset="0" stop-color="#d2d2d2"/><stop offset="0.5" stop-color="#f3f3f3"/><stop offset="1" stop-color="#d2d2d2"/></linearGradient>
<rect x="253.2" y="229.9" width="25.6" height="11.5" fill="url(#g1131)" stroke="#2a2a2a" stroke-width="0.8"/>
<rect x="254.5" y="234.2" width="11" height="2.4" rx="1.2" fill="#7a7a7a" filter="url(#bl)"/>
<rect x="266.4" y="234.2" width="11" height="2.4" rx="1.2" fill="#707070" filter="url(#bl)"/>
<linearGradient id="g1135" x1="0" x2="1"><stop offset="0" stop-color="#6a6a6a"/><stop offset="0.55" stop-color="#a8a8a8"/><stop offset="1" stop-color="#8a8a8a"/></linearGradient>
<rect x="280.1" y="217" width="25.6" height="11.3" fill="url(#g1135)" stroke="#2a2a2a" stroke-width="0.8"/>
<rect x="281.4" y="221" width="11" height="3" rx="1.2" fill="#222" filter="url(#bl)"/>
<rect x="293.3" y="221" width="11" height="3" rx="1.2" fill="#707070" filter="url(#bl)"/>
<linearGradient id="g1139" x1="0" x2="0" y1="0" y2="1"><stop offset="0" stop-color="#d2d2d2"/><stop offset="0.5" stop-color="#f3f3f3"/><stop offset="1" stop-color="#d2d2d2"/></linearGradient>
<rect x="280.1" y="229.9" width="25.6" height="11.5" fill="url(#g1139)" stroke="#2a2a2a" stroke-width="0.8"/>
<rect x="281.4" y="234.2" width="11" height="2.4" rx="1.2" fill="#6a6a6a" filter="url(#bl)"/>
<rect x="293.3" y="234.2" width="11" height="2.4" rx="1.2" fill="#6a6a6a" filter="url(#bl)"/>
<linearGradient id="g1143" x1="0" x2="0" y1="0" y2="1"><stop offset="0" stop-color="#d2d2d2"/><stop offset="0.5" stop-color="#f3f3f3"/><stop offset="1" stop-color="#d2d2d2"/></linearGradient>
<rect x="308" y="217" width="25.6" height="11.3" fill="url(#g1143)" stroke="#2a2a2a" stroke-width="0.8"/>
<rect x="309.3" y="221" width="11" height="3" rx="1.2" fill="#333" filter="url(#bl)"/>
<rect x="321.2" y="221" width="11" height="3" rx="1.2" fill="#555" filter="url(#bl)"/>
<linearGradient id="g1147" x1="0" x2="0" y1="0" y2="1"><stop offset="0" stop-color="#d2d2d2"/><stop offset="0.5" stop-color="#f3f3f3"/><stop offset="1" stop-color="#d2d2d2"/></linearGradient>
<rect x="308" y="229.9" width="25.6" height="11.5" fill="url(#g1147)" stroke="#2a2a2a" stroke-width="0.8"/>
<rect x="309.3" y="234.2" width="11" height="2.4" rx="1.2" fill="#6a6a6a" filter="url(#bl)"/>
<rect x="321.2" y="234.2" width="11" height="2.4" rx="1.2" fill="#6a6a6a" filter="url(#bl)"/>
<line x1="168.5" y1="245.8" x2="168.5" y2="292.5" stroke="#1e1e1e" stroke-width="1.2"/>
<line x1="166.3" y1="248.5" x2="168.8" y2="248.5" stroke="#1e1e1e" stroke-width="0.8"/>
<text x="162.2" y="248.38" font-size="6.5" text-anchor="end" fill="#2e2e2e" stroke="#2e2e2e" stroke-width="0.2" dy="0.35em">1.2</text>
<line x1="166.3" y1="263.5" x2="168.8" y2="263.5" stroke="#1e1e1e" stroke-width="0.8"/>
<text x="162.2" y="263.02" font-size="6.5" text-anchor="end" fill="#2e2e2e" stroke="#2e2e2e" stroke-width="0.2" dy="0.35em">0.8</text>
<line x1="166.3" y1="277.5" x2="168.8" y2="277.5" stroke="#1e1e1e" stroke-width="0.8"/>
<text x="162.2" y="277.66" font-size="6.5" text-anchor="end" fill="#2e2e2e" stroke="#2e2e2e" stroke-width="0.2" dy="0.35em">0.4</text>
<line x1="166.3" y1="292.5" x2="168.8" y2="292.5" stroke="#1e1e1e" stroke-width="0.8"/>
<text x="162.2" y="292.3" font-size="6.5" text-anchor="end" fill="#2e2e2e" stroke="#2e2e2e" stroke-width="0.2" dy="0.35em">0</text>
<line x1="168.8" y1="292.5" x2="336" y2="292.5" stroke="#1e1e1e" stroke-width="1.2"/>
<path d="M171.2 292 V245.8 H332.5 V292 M224.6 245.8 V292" fill="none" stroke="#111" stroke-width="0.9" stroke-dasharray="1.5 1.3"/>
<rect x="175.2" y="255.7" width="6.8" height="36.6" fill="#9d8fca"/>
<rect x="185.2" y="255.7" width="7" height="36.6" fill="#1b4d8a"/>
<circle cx="176.4" cy="255.7" r="1.15" fill="#111"/>
<circle cx="178.6" cy="255.7" r="1.15" fill="#111"/>
<circle cx="180.8" cy="255.7" r="1.15" fill="#111"/>
<line x1="188.5" y1="255.7" x2="188.5" y2="253.87" stroke="#111" stroke-width="0.8"/>
<line x1="186.9" y1="253.5" x2="190.5" y2="253.5" stroke="#111" stroke-width="0.8"/>
<circle cx="187.4" cy="256.43" r="1.1" fill="#111"/>
<circle cx="190.1" cy="254.6" r="1.1" fill="#111"/>
<circle cx="188.7" cy="257.9" r="1.1" fill="#111"/>
<rect x="202.1" y="255.7" width="6.8" height="36.6" fill="#9d8fca"/>
<rect x="212.7" y="257.16" width="7" height="35.14" fill="#1b4d8a"/>
<circle cx="203.3" cy="255.7" r="1.15" fill="#111"/>
<circle cx="205.5" cy="255.7" r="1.15" fill="#111"/>
<circle cx="207.7" cy="255.7" r="1.15" fill="#111"/>
<line x1="216.5" y1="257.16" x2="216.5" y2="255.33" stroke="#111" stroke-width="0.8"/>
<line x1="214.4" y1="255.5" x2="218" y2="255.5" stroke="#111" stroke-width="0.8"/>
<circle cx="214.9" cy="257.9" r="1.1" fill="#111"/>
<circle cx="217.6" cy="256.07" r="1.1" fill="#111"/>
<circle cx="216.2" cy="259.36" r="1.1" fill="#111"/>
<rect x="229.5" y="255.7" width="6.8" height="36.6" fill="#9d8fca"/>
<rect x="240" y="271.07" width="7" height="21.23" fill="#1b4d8a"/>
<circle cx="230.7" cy="255.7" r="1.15" fill="#111"/>
<circle cx="232.9" cy="255.7" r="1.15" fill="#111"/>
<circle cx="235.1" cy="255.7" r="1.15" fill="#111"/>
<line x1="243.5" y1="271.07" x2="243.5" y2="269.24" stroke="#111" stroke-width="0.8"/>
<line x1="241.7" y1="269.5" x2="245.3" y2="269.5" stroke="#111" stroke-width="0.8"/>
<circle cx="242.2" cy="271.8" r="1.1" fill="#111"/>
<circle cx="244.9" cy="269.97" r="1.1" fill="#111"/>
<circle cx="243.5" cy="273.27" r="1.1" fill="#111"/>
<text x="243.62" y="267.55" font-size="7" text-anchor="middle" fill="#222" letter-spacing="0.25">***</text>
<rect x="256.8" y="255.7" width="6.8" height="36.6" fill="#9d8fca"/>
<rect x="267" y="279.86" width="7" height="12.44" fill="#1b4d8a"/>
<circle cx="258" cy="255.7" r="1.15" fill="#111"/>
<circle cx="260.2" cy="255.7" r="1.15" fill="#111"/>
<circle cx="262.4" cy="255.7" r="1.15" fill="#111"/>
<line x1="270.5" y1="279.86" x2="270.5" y2="278.03" stroke="#111" stroke-width="0.8"/>
<line x1="268.7" y1="278.5" x2="272.3" y2="278.5" stroke="#111" stroke-width="0.8"/>
<circle cx="269.2" cy="280.59" r="1.1" fill="#111"/>
<circle cx="271.9" cy="278.76" r="1.1" fill="#111"/>
<circle cx="270.5" cy="282.05" r="1.1" fill="#111"/>
<text x="270.62" y="278.3" font-size="7" text-anchor="middle" fill="#222" letter-spacing="0.25">***</text>
<rect x="284.5" y="255.7" width="6.8" height="36.6" fill="#9d8fca"/>
<rect x="295" y="267.41" width="7" height="24.89" fill="#1b4d8a"/>
<circle cx="285.7" cy="255.7" r="1.15" fill="#111"/>
<circle cx="287.9" cy="255.7" r="1.15" fill="#111"/>
<circle cx="290.1" cy="255.7" r="1.15" fill="#111"/>
<line x1="298.5" y1="267.41" x2="298.5" y2="265.58" stroke="#111" stroke-width="0.8"/>
<line x1="296.7" y1="265.5" x2="300.3" y2="265.5" stroke="#111" stroke-width="0.8"/>
<circle cx="297.2" cy="268.14" r="1.1" fill="#111"/>
<circle cx="299.9" cy="266.31" r="1.1" fill="#111"/>
<circle cx="298.5" cy="269.61" r="1.1" fill="#111"/>
<text x="298.62" y="265.8" font-size="7" text-anchor="middle" fill="#222" letter-spacing="0.25">***</text>
<rect x="312" y="255.7" width="6.8" height="36.6" fill="#9d8fca"/>
<rect x="322.5" y="264.85" width="7" height="27.45" fill="#1b4d8a"/>
<circle cx="313.2" cy="255.7" r="1.15" fill="#111"/>
<circle cx="315.4" cy="255.7" r="1.15" fill="#111"/>
<circle cx="317.6" cy="255.7" r="1.15" fill="#111"/>
<line x1="326.5" y1="264.85" x2="326.5" y2="263.02" stroke="#111" stroke-width="0.8"/>
<line x1="324.2" y1="263.5" x2="327.8" y2="263.5" stroke="#111" stroke-width="0.8"/>
<circle cx="324.7" cy="265.58" r="1.1" fill="#111"/>
<circle cx="327.4" cy="263.75" r="1.1" fill="#111"/>
<circle cx="326" cy="267.05" r="1.1" fill="#111"/>
<text x="326.12" y="259.3" font-size="7" text-anchor="middle" fill="#222" letter-spacing="0.25">*</text>
<text x="147" y="269" font-size="9.2" text-anchor="middle" fill="#333" stroke="#333" stroke-width="0.2" textLength="54.2" lengthAdjust="spacingAndGlyphs" transform="rotate(-90 147 269)">Relative ATP level</text>
<line x1="173" y1="295.5" x2="194.2" y2="295.5" stroke="#333" stroke-width="0.9"/>
<text x="181.3" y="302.5" font-size="7.2" text-anchor="middle" fill="#2e2e2e" stroke="#2e2e2e" stroke-width="0.2" textLength="18.3" lengthAdjust="spacingAndGlyphs" dy="0.35em">HSC1</text>
<line x1="201" y1="295.5" x2="220.8" y2="295.5" stroke="#333" stroke-width="0.9"/>
<text x="210.2" y="302.5" font-size="7.2" text-anchor="middle" fill="#2e2e2e" stroke="#2e2e2e" stroke-width="0.2" textLength="18.3" lengthAdjust="spacingAndGlyphs" dy="0.35em">HSC2</text>
<line x1="228.8" y1="295.5" x2="248.5" y2="295.5" stroke="#333" stroke-width="0.9"/>
<text x="238.8" y="302.5" font-size="7.2" text-anchor="middle" fill="#2e2e2e" stroke="#2e2e2e" stroke-width="0.2" textLength="18.3" lengthAdjust="spacingAndGlyphs" dy="0.35em">LSC1</text>
<line x1="256" y1="295.5" x2="276" y2="295.5" stroke="#333" stroke-width="0.9"/>
<text x="265.8" y="302.5" font-size="7.2" text-anchor="middle" fill="#2e2e2e" stroke="#2e2e2e" stroke-width="0.2" textLength="18.3" lengthAdjust="spacingAndGlyphs" dy="0.35em">LSC2</text>
<line x1="283" y1="295.5" x2="303" y2="295.5" stroke="#333" stroke-width="0.9"/>
<text x="293" y="302.5" font-size="7.2" text-anchor="middle" fill="#2e2e2e" stroke="#2e2e2e" stroke-width="0.2" textLength="18.3" lengthAdjust="spacingAndGlyphs" dy="0.35em">LSC3</text>
<line x1="311" y1="295.5" x2="331" y2="295.5" stroke="#333" stroke-width="0.9"/>
<text x="321.2" y="302.5" font-size="7.2" text-anchor="middle" fill="#2e2e2e" stroke="#2e2e2e" stroke-width="0.2" textLength="18.3" lengthAdjust="spacingAndGlyphs" dy="0.35em">LSC4</text>
<text transform="translate(356.76 192.83) scale(0.987 1)" font-size="12.01" font-weight="bold" fill="#000">G</text>
<line x1="397.5" y1="206.2" x2="397.5" y2="278.3" stroke="#1e1e1e" stroke-width="1.2"/>
<line x1="397.5" y1="286.6" x2="397.5" y2="292.5" stroke="#1e1e1e" stroke-width="1.2"/>
<line x1="394.8" y1="208.5" x2="397.3" y2="208.5" stroke="#1e1e1e" stroke-width="0.8"/>
<text x="390.9" y="208.8" font-size="6.5" text-anchor="end" fill="#2e2e2e" stroke="#2e2e2e" stroke-width="0.2" dy="0.35em">120</text>
<line x1="394.8" y1="226.5" x2="397.3" y2="226.5" stroke="#1e1e1e" stroke-width="0.8"/>
<text x="390.9" y="226.2" font-size="6.5" text-anchor="end" fill="#2e2e2e" stroke="#2e2e2e" stroke-width="0.2" dy="0.35em">100</text>
<line x1="394.8" y1="243.5" x2="397.3" y2="243.5" stroke="#1e1e1e" stroke-width="0.8"/>
<text x="390.9" y="243.6" font-size="6.5" text-anchor="end" fill="#2e2e2e" stroke="#2e2e2e" stroke-width="0.2" dy="0.35em">80</text>
<line x1="394.8" y1="261.5" x2="397.3" y2="261.5" stroke="#1e1e1e" stroke-width="0.8"/>
<text x="390.9" y="261" font-size="6.5" text-anchor="end" fill="#2e2e2e" stroke="#2e2e2e" stroke-width="0.2" dy="0.35em">60</text>
<text x="390.9" y="278.4" font-size="6.5" text-anchor="end" fill="#2e2e2e" stroke="#2e2e2e" stroke-width="0.2" dy="0.35em">40</text>
<text x="390.9" y="285.1" font-size="6.5" text-anchor="end" fill="#2e2e2e" stroke="#2e2e2e" stroke-width="0.2" dy="0.35em">20</text>
<line x1="394.8" y1="292.5" x2="397.3" y2="292.5" stroke="#1e1e1e" stroke-width="0.8"/>
<text x="390.9" y="292.3" font-size="6.5" text-anchor="end" fill="#2e2e2e" stroke="#2e2e2e" stroke-width="0.2" dy="0.35em">0</text>
<line x1="397.3" y1="292.5" x2="461" y2="292.5" stroke="#1e1e1e" stroke-width="1.2"/>
<path d="M395.5 277.7L399.7 281.3M395.5 282.9L399.7 286.5" stroke="#111" stroke-width="1.1" fill="none"/>
<line x1="405.5" y1="292.4" x2="405.5" y2="295" stroke="#1e1e1e" stroke-width="0.9"/>
<line x1="436.5" y1="292.4" x2="436.5" y2="295" stroke="#1e1e1e" stroke-width="0.9"/>
<text x="405.4" y="302.1" font-size="6.6" text-anchor="middle" fill="#2e2e2e" stroke="#2e2e2e" stroke-width="0.2" textLength="19" lengthAdjust="spacingAndGlyphs" dy="0.35em">shCtrl</text>
<text x="437.2" y="302.1" font-size="6.6" text-anchor="middle" fill="#2e2e2e" stroke="#2e2e2e" stroke-width="0.2" textLength="36" lengthAdjust="spacingAndGlyphs" dy="0.35em">shZDHHC21</text>
<text x="373.2" y="248.5" font-size="8" text-anchor="middle" fill="#333" stroke="#333" stroke-width="0.2" textLength="77.7" lengthAdjust="spacingAndGlyphs" transform="rotate(-90 373.2 248.5)">Relative proliferation (%)</text>
<line x1="405.4" y1="226.2" x2="436.9" y2="228.81" stroke="#444" stroke-width="0.9"/>
<line x1="405.4" y1="226.2" x2="436.9" y2="228.38" stroke="#444" stroke-width="0.9"/>
<line x1="405.4" y1="226.2" x2="436.9" y2="261" stroke="#2a4c78" stroke-width="0.9"/>
<line x1="405.4" y1="226.2" x2="436.9" y2="272.75" stroke="#2a4c78" stroke-width="0.9"/>
<line x1="405.4" y1="226.2" x2="436.9" y2="255.78" stroke="#2a4c78" stroke-width="0.9"/>
<line x1="405.4" y1="226.2" x2="436.9" y2="253.6" stroke="#2a4c78" stroke-width="0.9"/>
<line x1="436.5" y1="234.03" x2="436.5" y2="223.59" stroke="#444" stroke-width="0.8"/>
<line x1="435.1" y1="234.5" x2="438.7" y2="234.5" stroke="#444" stroke-width="0.8"/>
<line x1="435.1" y1="223.5" x2="438.7" y2="223.5" stroke="#444" stroke-width="0.8"/>
<line x1="436.5" y1="264.48" x2="436.5" y2="257.52" stroke="#2a4c78" stroke-width="0.8"/>
<line x1="435.1" y1="264.5" x2="438.7" y2="264.5" stroke="#2a4c78" stroke-width="0.8"/>
<line x1="435.1" y1="257.5" x2="438.7" y2="257.5" stroke="#2a4c78" stroke-width="0.8"/>
<line x1="436.5" y1="275.36" x2="436.5" y2="270.13" stroke="#2a4c78" stroke-width="0.8"/>
<line x1="435.1" y1="275.5" x2="438.7" y2="275.5" stroke="#2a4c78" stroke-width="0.8"/>
<line x1="435.1" y1="270.5" x2="438.7" y2="270.5" stroke="#2a4c78" stroke-width="0.8"/>
<line x1="436.5" y1="258.39" x2="436.5" y2="253.17" stroke="#2a4c78" stroke-width="0.8"/>
<line x1="435.1" y1="258.5" x2="438.7" y2="258.5" stroke="#2a4c78" stroke-width="0.8"/>
<line x1="435.1" y1="253.5" x2="438.7" y2="253.5" stroke="#2a4c78" stroke-width="0.8"/>
<path d="M436.9 226.72 L438.99 230.33 L434.81 230.33 Z" fill="#fff" stroke="#444" stroke-width="0.8"/>
<path d="M405.4 224.11 L407.49 227.72 L403.31 227.72 Z" fill="#fff" stroke="#444" stroke-width="0.8"/>
<circle cx="436.9" cy="228.38" r="1.9" fill="#fff" stroke="#444" stroke-width="0.8"/>
<circle cx="405.4" cy="226.2" r="1.9" fill="#fff" stroke="#444" stroke-width="0.8"/>
<rect x="435" y="259.1" width="3.8" height="3.8" fill="#fff" stroke="#2a4c78" stroke-width="0.8"/>
<rect x="403.5" y="224.3" width="3.8" height="3.8" fill="#fff" stroke="#2a4c78" stroke-width="0.8"/>
<path d="M436.9 274.83 L438.99 271.23 L434.81 271.23 Z" fill="#fff" stroke="#2a4c78" stroke-width="0.8"/>
<path d="M405.4 228.29 L407.49 224.68 L403.31 224.68 Z" fill="#fff" stroke="#2a4c78" stroke-width="0.8"/>
<path d="M436.9 253.5 L439.18 255.78 L436.9 258.06 L434.62 255.78 Z" fill="#fff" stroke="#2a4c78" stroke-width="0.8"/>
<path d="M405.4 223.92 L407.68 226.2 L405.4 228.48 L403.12 226.2 Z" fill="#fff" stroke="#2a4c78" stroke-width="0.8"/>
<polygon points="438.99,253.6 437.94,255.41 435.85,255.41 434.81,253.6 435.85,251.8 437.94,251.8" fill="#fff" stroke="#2a4c78" stroke-width="0.8"/>
<polygon points="407.49,226.2 406.44,228.01 404.35,228.01 403.31,226.2 404.35,224.39 406.44,224.39" fill="#fff" stroke="#2a4c78" stroke-width="0.8"/>
<text x="447.12" y="258.6" font-size="7" text-anchor="middle" fill="#222" letter-spacing="0.25">***</text>
<text x="447.12" y="265.3" font-size="7" text-anchor="middle" fill="#222" letter-spacing="0.25">***</text>
<text x="447.12" y="270.7" font-size="7" text-anchor="middle" fill="#222" letter-spacing="0.25">***</text>
<text x="447.12" y="278.8" font-size="7" text-anchor="middle" fill="#222" letter-spacing="0.25">***</text>
<line x1="465.3" y1="224.5" x2="473.9" y2="224.5" stroke="#444" stroke-width="0.9"/>
<path d="M469.6 222.2 L471.8 226 L467.4 226 Z" fill="#fff" stroke="#444" stroke-width="0.8"/>
<text x="477.2" y="224.4" font-size="7" fill="#3a3a3a" stroke="#3a3a3a" stroke-width="0.2" textLength="16.2" lengthAdjust="spacingAndGlyphs" dy="0.35em">HSC1</text>
<line x1="465.3" y1="234.5" x2="473.9" y2="234.5" stroke="#444" stroke-width="0.9"/>
<circle cx="469.6" cy="234.27" r="2" fill="#fff" stroke="#444" stroke-width="0.8"/>
<text x="477.2" y="234.27" font-size="7" fill="#3a3a3a" stroke="#3a3a3a" stroke-width="0.2" textLength="16.2" lengthAdjust="spacingAndGlyphs" dy="0.35em">HSC2</text>
<line x1="465.3" y1="244.5" x2="473.9" y2="244.5" stroke="#2a4c78" stroke-width="0.9"/>
<rect x="467.6" y="242.14" width="4" height="4" fill="#fff" stroke="#2a4c78" stroke-width="0.8"/>
<text x="477.2" y="244.14" font-size="7" fill="#3a3a3a" stroke="#3a3a3a" stroke-width="0.2" textLength="16.2" lengthAdjust="spacingAndGlyphs" dy="0.35em">LSC1</text>
<line x1="465.3" y1="254.5" x2="473.9" y2="254.5" stroke="#2a4c78" stroke-width="0.9"/>
<path d="M469.6 256.21 L471.8 252.41 L467.4 252.41 Z" fill="#fff" stroke="#2a4c78" stroke-width="0.8"/>
<text x="477.2" y="254.01" font-size="7" fill="#3a3a3a" stroke="#3a3a3a" stroke-width="0.2" textLength="16.2" lengthAdjust="spacingAndGlyphs" dy="0.35em">LSC2</text>
<line x1="465.3" y1="263.5" x2="473.9" y2="263.5" stroke="#2a4c78" stroke-width="0.9"/>
<path d="M469.6 261.48 L472 263.88 L469.6 266.28 L467.2 263.88 Z" fill="#fff" stroke="#2a4c78" stroke-width="0.8"/>
<text x="477.2" y="263.88" font-size="7" fill="#3a3a3a" stroke="#3a3a3a" stroke-width="0.2" textLength="16.2" lengthAdjust="spacingAndGlyphs" dy="0.35em">LSC3</text>
<line x1="465.3" y1="273.5" x2="473.9" y2="273.5" stroke="#2a4c78" stroke-width="0.9"/>
<polygon points="471.8,273.75 470.7,275.66 468.5,275.66 467.4,273.75 468.5,271.84 470.7,271.84" fill="#fff" stroke="#2a4c78" stroke-width="0.8"/>
<text x="477.2" y="273.75" font-size="7" fill="#3a3a3a" stroke="#3a3a3a" stroke-width="0.2" textLength="16.2" lengthAdjust="spacingAndGlyphs" dy="0.35em">LSC4</text>
<text transform="translate(7.31 343.35) scale(1.056 1)" font-size="11.92" font-weight="bold" fill="#000">H</text>
<line x1="47.5" y1="363.5" x2="47.5" y2="437.2" stroke="#1e1e1e" stroke-width="1.2"/>
<line x1="45.1" y1="367.5" x2="47.6" y2="367.5" stroke="#1e1e1e" stroke-width="0.8"/>
<text x="41.2" y="367.3" font-size="6.5" text-anchor="end" fill="#2e2e2e" stroke="#2e2e2e" stroke-width="0.2" dy="0.35em">100</text>
<line x1="45.1" y1="381.5" x2="47.6" y2="381.5" stroke="#1e1e1e" stroke-width="0.8"/>
<text x="41.2" y="381.24" font-size="6.5" text-anchor="end" fill="#2e2e2e" stroke="#2e2e2e" stroke-width="0.2" dy="0.35em">80</text>
<line x1="45.1" y1="395.5" x2="47.6" y2="395.5" stroke="#1e1e1e" stroke-width="0.8"/>
<text x="41.2" y="395.18" font-size="6.5" text-anchor="end" fill="#2e2e2e" stroke="#2e2e2e" stroke-width="0.2" dy="0.35em">60</text>
<line x1="45.1" y1="409.5" x2="47.6" y2="409.5" stroke="#1e1e1e" stroke-width="0.8"/>
<text x="41.2" y="409.12" font-size="6.5" text-anchor="end" fill="#2e2e2e" stroke="#2e2e2e" stroke-width="0.2" dy="0.35em">40</text>
<line x1="45.1" y1="423.5" x2="47.6" y2="423.5" stroke="#1e1e1e" stroke-width="0.8"/>
<text x="41.2" y="423.06" font-size="6.5" text-anchor="end" fill="#2e2e2e" stroke="#2e2e2e" stroke-width="0.2" dy="0.35em">20</text>
<line x1="45.1" y1="437.5" x2="47.6" y2="437.5" stroke="#1e1e1e" stroke-width="0.8"/>
<text x="41.2" y="437" font-size="6.5" text-anchor="end" fill="#2e2e2e" stroke="#2e2e2e" stroke-width="0.2" dy="0.35em">0</text>
<line x1="47.6" y1="437.5" x2="200.5" y2="437.5" stroke="#1e1e1e" stroke-width="1.2"/>
<path d="M50 437 V348.5 H198.3 V437 M99.7 348.5 V437" fill="none" stroke="#111" stroke-width="0.9" stroke-dasharray="1.5 1.3"/>
<text x="75.5" y="341.3" font-size="7.4" text-anchor="middle" fill="#2e2e2e" stroke="#2e2e2e" stroke-width="0.2" textLength="13.8" lengthAdjust="spacingAndGlyphs" dy="0.35em">HSC</text>
<text x="148.3" y="341.3" font-size="7.4" text-anchor="middle" fill="#2e2e2e" stroke="#2e2e2e" stroke-width="0.2" textLength="13.3" lengthAdjust="spacingAndGlyphs" dy="0.35em">LSC</text>
<rect x="51.9" y="367.3" width="8.3" height="69.7" fill="#9d8fca"/>
<rect x="64.2" y="372.88" width="8.2" height="64.12" fill="#1b4d8a"/>
<circle cx="53.5" cy="367.3" r="1.2" fill="#111"/>
<circle cx="56" cy="367.3" r="1.2" fill="#111"/>
<circle cx="58.5" cy="367.3" r="1.2" fill="#111"/>
<line x1="68.5" y1="372.88" x2="68.5" y2="363.12" stroke="#111" stroke-width="0.9"/>
<line x1="66.3" y1="363.5" x2="70.3" y2="363.5" stroke="#111" stroke-width="0.9"/>
<circle cx="66.7" cy="367.02" r="1.2" fill="#111"/>
<circle cx="69.9" cy="369.95" r="1.2" fill="#111"/>
<circle cx="68.3" cy="379.71" r="1.2" fill="#111"/>
<text x="68.3" y="359.9" font-size="6.8" text-anchor="middle" fill="#2e2e2e" stroke="#2e2e2e" stroke-width="0.2" textLength="11" lengthAdjust="spacingAndGlyphs" dy="0.35em">n.s.</text>
<rect x="76.5" y="367.3" width="8.3" height="69.7" fill="#9d8fca"/>
<rect x="88.8" y="373.57" width="8.2" height="63.43" fill="#1b4d8a"/>
<circle cx="78.1" cy="367.3" r="1.2" fill="#111"/>
<circle cx="80.6" cy="367.3" r="1.2" fill="#111"/>
<circle cx="83.1" cy="367.3" r="1.2" fill="#111"/>
<line x1="92.5" y1="373.57" x2="92.5" y2="364.51" stroke="#111" stroke-width="0.9"/>
<line x1="90.9" y1="364.5" x2="94.9" y2="364.5" stroke="#111" stroke-width="0.9"/>
<circle cx="91.3" cy="368.14" r="1.2" fill="#111"/>
<circle cx="94.5" cy="370.85" r="1.2" fill="#111"/>
<circle cx="92.9" cy="379.92" r="1.2" fill="#111"/>
<text x="92.9" y="363.6" font-size="6.8" text-anchor="middle" fill="#2e2e2e" stroke="#2e2e2e" stroke-width="0.2" textLength="11" lengthAdjust="spacingAndGlyphs" dy="0.35em">n.s.</text>
<rect x="101.2" y="367.3" width="8.3" height="69.7" fill="#9d8fca"/>
<rect x="113.8" y="403.54" width="8.2" height="33.46" fill="#1b4d8a"/>
<circle cx="102.8" cy="367.3" r="1.2" fill="#111"/>
<circle cx="105.3" cy="367.3" r="1.2" fill="#111"/>
<circle cx="107.8" cy="367.3" r="1.2" fill="#111"/>
<line x1="117.5" y1="403.54" x2="117.5" y2="398.67" stroke="#111" stroke-width="0.9"/>
<line x1="115.9" y1="398.5" x2="119.9" y2="398.5" stroke="#111" stroke-width="0.9"/>
<circle cx="116.3" cy="400.62" r="1.2" fill="#111"/>
<circle cx="119.5" cy="402.08" r="1.2" fill="#111"/>
<circle cx="117.9" cy="406.96" r="1.2" fill="#111"/>
<text x="118.02" y="397.55" font-size="7" text-anchor="middle" fill="#222" letter-spacing="0.25">**</text>
<rect x="126.2" y="367.3" width="8.3" height="69.7" fill="#9d8fca"/>
<rect x="138.1" y="427.94" width="8.2" height="9.06" fill="#1b4d8a"/>
<circle cx="127.8" cy="367.3" r="1.2" fill="#111"/>
<circle cx="130.3" cy="367.3" r="1.2" fill="#111"/>
<circle cx="132.8" cy="367.3" r="1.2" fill="#111"/>
<line x1="142.5" y1="427.94" x2="142.5" y2="426.55" stroke="#111" stroke-width="0.9"/>
<line x1="140.2" y1="426.5" x2="144.2" y2="426.5" stroke="#111" stroke-width="0.9"/>
<circle cx="140.6" cy="427.1" r="1.2" fill="#111"/>
<circle cx="143.8" cy="427.52" r="1.2" fill="#111"/>
<circle cx="142.2" cy="428.91" r="1.2" fill="#111"/>
<text x="142.32" y="427.55" font-size="7" text-anchor="middle" fill="#222" letter-spacing="0.25">***</text>
<rect x="150.5" y="367.3" width="8.3" height="69.7" fill="#9d8fca"/>
<rect x="163" y="410.51" width="8.2" height="26.49" fill="#1b4d8a"/>
<circle cx="152.1" cy="367.3" r="1.2" fill="#111"/>
<circle cx="154.6" cy="367.3" r="1.2" fill="#111"/>
<circle cx="157.1" cy="367.3" r="1.2" fill="#111"/>
<line x1="167.5" y1="410.51" x2="167.5" y2="407.03" stroke="#111" stroke-width="0.9"/>
<line x1="165.1" y1="407.5" x2="169.1" y2="407.5" stroke="#111" stroke-width="0.9"/>
<circle cx="165.5" cy="408.42" r="1.2" fill="#111"/>
<circle cx="168.7" cy="409.47" r="1.2" fill="#111"/>
<circle cx="167.1" cy="412.95" r="1.2" fill="#111"/>
<text x="167.22" y="407.55" font-size="7" text-anchor="middle" fill="#222" letter-spacing="0.25">**</text>
<rect x="175" y="367.3" width="8.3" height="69.7" fill="#9d8fca"/>
<rect x="187.5" y="391.69" width="8.2" height="45.31" fill="#1b4d8a"/>
<circle cx="176.6" cy="367.3" r="1.2" fill="#111"/>
<circle cx="179.1" cy="367.3" r="1.2" fill="#111"/>
<circle cx="181.6" cy="367.3" r="1.2" fill="#111"/>
<line x1="191.5" y1="391.69" x2="191.5" y2="381.94" stroke="#111" stroke-width="0.9"/>
<line x1="189.6" y1="381.5" x2="193.6" y2="381.5" stroke="#111" stroke-width="0.9"/>
<circle cx="190" cy="385.84" r="1.2" fill="#111"/>
<circle cx="193.2" cy="388.77" r="1.2" fill="#111"/>
<circle cx="191.6" cy="398.53" r="1.2" fill="#111"/>
<text x="191.72" y="382.55" font-size="7" text-anchor="middle" fill="#222" letter-spacing="0.25">*</text>
<line x1="51.3" y1="440.5" x2="72.5" y2="440.5" stroke="#333" stroke-width="0.9"/>
<text x="62.5" y="447" font-size="7.2" text-anchor="middle" fill="#2e2e2e" stroke="#2e2e2e" stroke-width="0.2" textLength="18.3" lengthAdjust="spacingAndGlyphs" dy="0.35em">HSC1</text>
<line x1="76.3" y1="440.5" x2="97.5" y2="440.5" stroke="#333" stroke-width="0.9"/>
<text x="87" y="447" font-size="7.2" text-anchor="middle" fill="#2e2e2e" stroke="#2e2e2e" stroke-width="0.2" textLength="18.3" lengthAdjust="spacingAndGlyphs" dy="0.35em">HSC2</text>
<line x1="101.3" y1="440.5" x2="122.5" y2="440.5" stroke="#333" stroke-width="0.9"/>
<text x="112" y="447" font-size="7.2" text-anchor="middle" fill="#2e2e2e" stroke="#2e2e2e" stroke-width="0.2" textLength="18.3" lengthAdjust="spacingAndGlyphs" dy="0.35em">LSC1</text>
<line x1="126" y1="440.5" x2="147" y2="440.5" stroke="#333" stroke-width="0.9"/>
<text x="136.5" y="447" font-size="7.2" text-anchor="middle" fill="#2e2e2e" stroke="#2e2e2e" stroke-width="0.2" textLength="18.3" lengthAdjust="spacingAndGlyphs" dy="0.35em">LSC2</text>
<line x1="150.5" y1="440.5" x2="171" y2="440.5" stroke="#333" stroke-width="0.9"/>
<text x="161" y="447" font-size="7.2" text-anchor="middle" fill="#2e2e2e" stroke="#2e2e2e" stroke-width="0.2" textLength="18.3" lengthAdjust="spacingAndGlyphs" dy="0.35em">LSC3</text>
<line x1="175" y1="440.5" x2="196" y2="440.5" stroke="#333" stroke-width="0.9"/>
<text x="185.5" y="447" font-size="7.2" text-anchor="middle" fill="#2e2e2e" stroke="#2e2e2e" stroke-width="0.2" textLength="18.3" lengthAdjust="spacingAndGlyphs" dy="0.35em">LSC4</text>
<text x="23.1" y="400" font-size="8.5" text-anchor="middle" fill="#333" stroke="#333" stroke-width="0.2" textLength="65.6" lengthAdjust="spacingAndGlyphs" transform="rotate(-90 23.1 400)">Colony formation (%)</text>
<rect x="201.5" y="352.9" width="4.6" height="4.4" fill="#9d8fca"/>
<text x="209.6" y="355.1" font-size="6.4" fill="#444" stroke="#444" stroke-width="0.2" textLength="16.7" lengthAdjust="spacingAndGlyphs" dy="0.35em">shCtrl</text>
<rect x="201.5" y="363.1" width="4.6" height="4.6" fill="#1b4d8a"/>
<text x="209.6" y="365.3" font-size="6.4" fill="#444" stroke="#444" stroke-width="0.2" textLength="34.4" lengthAdjust="spacingAndGlyphs" dy="0.35em">shZDHHC21</text>
<text transform="translate(275.21 346.45) scale(0.955 1)" font-size="11.63" font-weight="bold" fill="#000">I</text>
<line x1="318.5" y1="366" x2="318.5" y2="440.2" stroke="#1e1e1e" stroke-width="1.2"/>
<line x1="316" y1="368.5" x2="318.5" y2="368.5" stroke="#1e1e1e" stroke-width="0.8"/>
<text x="312.1" y="368.6" font-size="6.5" text-anchor="end" fill="#2e2e2e" stroke="#2e2e2e" stroke-width="0.2" dy="0.35em">1.2</text>
<line x1="316" y1="380.5" x2="318.5" y2="380.5" stroke="#1e1e1e" stroke-width="0.8"/>
<text x="312.1" y="380.5" font-size="6.5" text-anchor="end" fill="#2e2e2e" stroke="#2e2e2e" stroke-width="0.2" dy="0.35em">1.0</text>
<line x1="316" y1="392.5" x2="318.5" y2="392.5" stroke="#1e1e1e" stroke-width="0.8"/>
<text x="312.1" y="392.4" font-size="6.5" text-anchor="end" fill="#2e2e2e" stroke="#2e2e2e" stroke-width="0.2" dy="0.35em">0.8</text>
<line x1="316" y1="404.5" x2="318.5" y2="404.5" stroke="#1e1e1e" stroke-width="0.8"/>
<text x="312.1" y="404.3" font-size="6.5" text-anchor="end" fill="#2e2e2e" stroke="#2e2e2e" stroke-width="0.2" dy="0.35em">0.6</text>
<line x1="316" y1="416.5" x2="318.5" y2="416.5" stroke="#1e1e1e" stroke-width="0.8"/>
<text x="312.1" y="416.2" font-size="6.5" text-anchor="end" fill="#2e2e2e" stroke="#2e2e2e" stroke-width="0.2" dy="0.35em">0.4</text>
<line x1="316" y1="428.5" x2="318.5" y2="428.5" stroke="#1e1e1e" stroke-width="0.8"/>
<text x="312.1" y="428.1" font-size="6.5" text-anchor="end" fill="#2e2e2e" stroke="#2e2e2e" stroke-width="0.2" dy="0.35em">0.2</text>
<line x1="316" y1="440.5" x2="318.5" y2="440.5" stroke="#1e1e1e" stroke-width="0.8"/>
<text x="312.1" y="440" font-size="6.5" text-anchor="end" fill="#2e2e2e" stroke="#2e2e2e" stroke-width="0.2" dy="0.35em">0</text>
<line x1="318.5" y1="440.5" x2="417.5" y2="440.5" stroke="#1e1e1e" stroke-width="1.2"/>
<line x1="318.5" y1="440.4" x2="318.5" y2="443" stroke="#1e1e1e" stroke-width="0.9"/>
<text x="318.5" y="450" font-size="6.6" text-anchor="middle" fill="#2e2e2e" stroke="#2e2e2e" stroke-width="0.2" dy="0.35em">0</text>
<line x1="350.5" y1="440.4" x2="350.5" y2="443" stroke="#1e1e1e" stroke-width="0.9"/>
<text x="350.5" y="450" font-size="6.6" text-anchor="middle" fill="#2e2e2e" stroke="#2e2e2e" stroke-width="0.2" dy="0.35em">20</text>
<line x1="382.5" y1="440.4" x2="382.5" y2="443" stroke="#1e1e1e" stroke-width="0.9"/>
<text x="382.5" y="450" font-size="6.6" text-anchor="middle" fill="#2e2e2e" stroke="#2e2e2e" stroke-width="0.2" dy="0.35em">40</text>
<line x1="414.5" y1="440.4" x2="414.5" y2="443" stroke="#1e1e1e" stroke-width="0.9"/>
<text x="414.5" y="450" font-size="6.6" text-anchor="middle" fill="#2e2e2e" stroke="#2e2e2e" stroke-width="0.2" dy="0.35em">60</text>
<text x="308.8" y="450" font-size="6.4" text-anchor="end" fill="#2e2e2e" stroke="#2e2e2e" stroke-width="0.2" textLength="27.5" lengthAdjust="spacingAndGlyphs" dy="0.35em">2BP (μM)</text>
<text x="297.5" y="402.6" font-size="8.5" text-anchor="middle" fill="#333" stroke="#333" stroke-width="0.2" textLength="53.6" lengthAdjust="spacingAndGlyphs" transform="rotate(-90 297.5 402.6)">Relative ATP level</text>
<polyline points="318.5,380.5 350.5,378.12 382.5,381.69 414.5,382.29" stroke="#3e4a5a" stroke-width="1.05" fill="none"/>
<polyline points="318.5,380.5 350.5,380.5 382.5,382.29 414.5,382.88" stroke="#3e4a5a" stroke-width="1.05" fill="none"/>
<polyline points="318.5,380.5 350.5,385.86 382.5,388.83 414.5,395.38" stroke="#552a66" stroke-width="1.05" fill="none"/>
<polyline points="318.5,380.5 350.5,386.45 382.5,393.59 414.5,406.68" stroke="#552a66" stroke-width="1.05" fill="none"/>
<polyline points="318.5,380.5 350.5,393.59 382.5,391.21 414.5,397.75" stroke="#552a66" stroke-width="1.05" fill="none"/>
<polyline points="318.5,380.5 350.5,402.51 382.5,415.01 414.5,416.2" stroke="#552a66" stroke-width="1.05" fill="none"/>
<line x1="350.5" y1="384.07" x2="350.5" y2="372.17" stroke="#3e4a5a" stroke-width="0.8"/>
<line x1="348.7" y1="384.5" x2="352.3" y2="384.5" stroke="#3e4a5a" stroke-width="0.8"/>
<line x1="348.7" y1="372.5" x2="352.3" y2="372.5" stroke="#3e4a5a" stroke-width="0.8"/>
<line x1="382.5" y1="385.26" x2="382.5" y2="378.12" stroke="#3e4a5a" stroke-width="0.8"/>
<line x1="380.7" y1="385.5" x2="384.3" y2="385.5" stroke="#3e4a5a" stroke-width="0.8"/>
<line x1="380.7" y1="378.5" x2="384.3" y2="378.5" stroke="#3e4a5a" stroke-width="0.8"/>
<line x1="414.5" y1="385.26" x2="414.5" y2="379.31" stroke="#3e4a5a" stroke-width="0.8"/>
<line x1="412.7" y1="385.5" x2="416.3" y2="385.5" stroke="#3e4a5a" stroke-width="0.8"/>
<line x1="412.7" y1="379.5" x2="416.3" y2="379.5" stroke="#3e4a5a" stroke-width="0.8"/>
<line x1="382.5" y1="384.07" x2="382.5" y2="380.5" stroke="#3e4a5a" stroke-width="0.8"/>
<line x1="380.7" y1="384.5" x2="384.3" y2="384.5" stroke="#3e4a5a" stroke-width="0.8"/>
<line x1="380.7" y1="380.5" x2="384.3" y2="380.5" stroke="#3e4a5a" stroke-width="0.8"/>
<line x1="414.5" y1="384.67" x2="414.5" y2="381.1" stroke="#3e4a5a" stroke-width="0.8"/>
<line x1="412.7" y1="384.5" x2="416.3" y2="384.5" stroke="#3e4a5a" stroke-width="0.8"/>
<line x1="412.7" y1="381.5" x2="416.3" y2="381.5" stroke="#3e4a5a" stroke-width="0.8"/>
<line x1="350.5" y1="387.64" x2="350.5" y2="384.07" stroke="#552a66" stroke-width="0.8"/>
<line x1="348.7" y1="387.5" x2="352.3" y2="387.5" stroke="#552a66" stroke-width="0.8"/>
<line x1="348.7" y1="384.5" x2="352.3" y2="384.5" stroke="#552a66" stroke-width="0.8"/>
<line x1="382.5" y1="390.62" x2="382.5" y2="387.05" stroke="#552a66" stroke-width="0.8"/>
<line x1="380.7" y1="390.5" x2="384.3" y2="390.5" stroke="#552a66" stroke-width="0.8"/>
<line x1="380.7" y1="387.5" x2="384.3" y2="387.5" stroke="#552a66" stroke-width="0.8"/>
<line x1="414.5" y1="397.75" x2="414.5" y2="393" stroke="#552a66" stroke-width="0.8"/>
<line x1="412.7" y1="397.5" x2="416.3" y2="397.5" stroke="#552a66" stroke-width="0.8"/>
<line x1="412.7" y1="392.5" x2="416.3" y2="392.5" stroke="#552a66" stroke-width="0.8"/>
<line x1="350.5" y1="388.83" x2="350.5" y2="384.07" stroke="#552a66" stroke-width="0.8"/>
<line x1="348.7" y1="388.5" x2="352.3" y2="388.5" stroke="#552a66" stroke-width="0.8"/>
<line x1="348.7" y1="384.5" x2="352.3" y2="384.5" stroke="#552a66" stroke-width="0.8"/>
<line x1="382.5" y1="397.16" x2="382.5" y2="390.02" stroke="#552a66" stroke-width="0.8"/>
<line x1="380.7" y1="397.5" x2="384.3" y2="397.5" stroke="#552a66" stroke-width="0.8"/>
<line x1="380.7" y1="390.5" x2="384.3" y2="390.5" stroke="#552a66" stroke-width="0.8"/>
<line x1="414.5" y1="409.65" x2="414.5" y2="403.7" stroke="#552a66" stroke-width="0.8"/>
<line x1="412.7" y1="409.5" x2="416.3" y2="409.5" stroke="#552a66" stroke-width="0.8"/>
<line x1="412.7" y1="403.5" x2="416.3" y2="403.5" stroke="#552a66" stroke-width="0.8"/>
<line x1="350.5" y1="395.38" x2="350.5" y2="391.81" stroke="#552a66" stroke-width="0.8"/>
<line x1="348.7" y1="395.5" x2="352.3" y2="395.5" stroke="#552a66" stroke-width="0.8"/>
<line x1="348.7" y1="391.5" x2="352.3" y2="391.5" stroke="#552a66" stroke-width="0.8"/>
<line x1="382.5" y1="394.78" x2="382.5" y2="387.64" stroke="#552a66" stroke-width="0.8"/>
<line x1="380.7" y1="394.5" x2="384.3" y2="394.5" stroke="#552a66" stroke-width="0.8"/>
<line x1="380.7" y1="387.5" x2="384.3" y2="387.5" stroke="#552a66" stroke-width="0.8"/>
<line x1="414.5" y1="400.13" x2="414.5" y2="395.38" stroke="#552a66" stroke-width="0.8"/>
<line x1="412.7" y1="400.5" x2="416.3" y2="400.5" stroke="#552a66" stroke-width="0.8"/>
<line x1="412.7" y1="395.5" x2="416.3" y2="395.5" stroke="#552a66" stroke-width="0.8"/>
<line x1="350.5" y1="407.27" x2="350.5" y2="397.75" stroke="#552a66" stroke-width="0.8"/>
<line x1="348.7" y1="407.5" x2="352.3" y2="407.5" stroke="#552a66" stroke-width="0.8"/>
<line x1="348.7" y1="397.5" x2="352.3" y2="397.5" stroke="#552a66" stroke-width="0.8"/>
<line x1="382.5" y1="416.8" x2="382.5" y2="413.23" stroke="#552a66" stroke-width="0.8"/>
<line x1="380.7" y1="416.5" x2="384.3" y2="416.5" stroke="#552a66" stroke-width="0.8"/>
<line x1="380.7" y1="413.5" x2="384.3" y2="413.5" stroke="#552a66" stroke-width="0.8"/>
<line x1="414.5" y1="422.15" x2="414.5" y2="410.25" stroke="#552a66" stroke-width="0.8"/>
<line x1="412.7" y1="422.5" x2="416.3" y2="422.5" stroke="#552a66" stroke-width="0.8"/>
<line x1="412.7" y1="410.5" x2="416.3" y2="410.5" stroke="#552a66" stroke-width="0.8"/>
<path d="M318.5 378.19 L320.81 382.18 L316.19 382.18 Z" fill="#fff" stroke="#3e4a5a" stroke-width="0.8"/>
<path d="M350.5 375.81 L352.81 379.8 L348.19 379.8 Z" fill="#fff" stroke="#3e4a5a" stroke-width="0.8"/>
<path d="M382.5 379.38 L384.81 383.37 L380.19 383.37 Z" fill="#fff" stroke="#3e4a5a" stroke-width="0.8"/>
<path d="M414.5 379.98 L416.81 383.97 L412.19 383.97 Z" fill="#fff" stroke="#3e4a5a" stroke-width="0.8"/>
<circle cx="318.5" cy="380.5" r="2.1" fill="#fff" stroke="#3e4a5a" stroke-width="0.8"/>
<circle cx="350.5" cy="380.5" r="2.1" fill="#fff" stroke="#3e4a5a" stroke-width="0.8"/>
<circle cx="382.5" cy="382.29" r="2.1" fill="#fff" stroke="#3e4a5a" stroke-width="0.8"/>
<circle cx="414.5" cy="382.88" r="2.1" fill="#fff" stroke="#3e4a5a" stroke-width="0.8"/>
<rect x="316.4" y="378.4" width="4.2" height="4.2" fill="#fff" stroke="#552a66" stroke-width="0.8"/>
<rect x="348.4" y="383.75" width="4.2" height="4.2" fill="#fff" stroke="#552a66" stroke-width="0.8"/>
<rect x="380.4" y="386.73" width="4.2" height="4.2" fill="#fff" stroke="#552a66" stroke-width="0.8"/>
<rect x="412.4" y="393.27" width="4.2" height="4.2" fill="#fff" stroke="#552a66" stroke-width="0.8"/>
<path d="M318.5 382.81 L320.81 378.82 L316.19 378.82 Z" fill="#fff" stroke="#552a66" stroke-width="0.8"/>
<path d="M350.5 388.76 L352.81 384.77 L348.19 384.77 Z" fill="#fff" stroke="#552a66" stroke-width="0.8"/>
<path d="M382.5 395.9 L384.81 391.91 L380.19 391.91 Z" fill="#fff" stroke="#552a66" stroke-width="0.8"/>
<path d="M414.5 408.99 L416.81 405 L412.19 405 Z" fill="#fff" stroke="#552a66" stroke-width="0.8"/>
<path d="M318.5 377.98 L321.02 380.5 L318.5 383.02 L315.98 380.5 Z" fill="#fff" stroke="#552a66" stroke-width="0.8"/>
<path d="M350.5 391.07 L353.02 393.59 L350.5 396.11 L347.98 393.59 Z" fill="#fff" stroke="#552a66" stroke-width="0.8"/>
<path d="M382.5 388.69 L385.02 391.21 L382.5 393.73 L379.98 391.21 Z" fill="#fff" stroke="#552a66" stroke-width="0.8"/>
<path d="M414.5 395.24 L417.02 397.75 L414.5 400.27 L411.98 397.75 Z" fill="#fff" stroke="#552a66" stroke-width="0.8"/>
<polygon points="320.81,380.5 319.65,382.5 317.35,382.5 316.19,380.5 317.34,378.5 319.65,378.5" fill="#fff" stroke="#552a66" stroke-width="0.8"/>
<polygon points="352.81,402.51 351.65,404.52 349.35,404.52 348.19,402.51 349.34,400.51 351.65,400.51" fill="#fff" stroke="#552a66" stroke-width="0.8"/>
<polygon points="384.81,415.01 383.65,417.01 381.35,417.01 380.19,415.01 381.34,413.01 383.65,413.01" fill="#fff" stroke="#552a66" stroke-width="0.8"/>
<polygon points="416.81,416.2 415.65,418.2 413.35,418.2 412.19,416.2 413.34,414.2 415.65,414.2" fill="#fff" stroke="#552a66" stroke-width="0.8"/>
<text x="420.12" y="398.8" font-size="7" text-anchor="middle" fill="#222" letter-spacing="0.25">*</text>
<text x="420.12" y="402.6" font-size="7" text-anchor="middle" fill="#222" letter-spacing="0.25">*</text>
<text x="423.62" y="410.1" font-size="7" text-anchor="middle" fill="#222" letter-spacing="0.25">***</text>
<text x="423.62" y="419.3" font-size="7" text-anchor="middle" fill="#222" letter-spacing="0.25">***</text>
<line x1="434.5" y1="378.5" x2="443.1" y2="378.5" stroke="#3e4a5a" stroke-width="0.9"/>
<path d="M438.8 375.8 L441 379.6 L436.6 379.6 Z" fill="#fff" stroke="#3e4a5a" stroke-width="0.8"/>
<text x="446.4" y="378" font-size="7" fill="#3a3a3a" stroke="#3a3a3a" stroke-width="0.2" textLength="16.2" lengthAdjust="spacingAndGlyphs" dy="0.35em">HSC1</text>
<line x1="434.5" y1="387.5" x2="443.1" y2="387.5" stroke="#3e4a5a" stroke-width="0.9"/>
<circle cx="438.8" cy="387.9" r="2" fill="#fff" stroke="#3e4a5a" stroke-width="0.8"/>
<text x="446.4" y="387.9" font-size="7" fill="#3a3a3a" stroke="#3a3a3a" stroke-width="0.2" textLength="16.2" lengthAdjust="spacingAndGlyphs" dy="0.35em">HSC2</text>
<line x1="434.5" y1="397.5" x2="443.1" y2="397.5" stroke="#552a66" stroke-width="0.9"/>
<rect x="436.8" y="395.8" width="4" height="4" fill="#fff" stroke="#552a66" stroke-width="0.8"/>
<text x="446.4" y="397.8" font-size="7" fill="#3a3a3a" stroke="#3a3a3a" stroke-width="0.2" textLength="16.2" lengthAdjust="spacingAndGlyphs" dy="0.35em">LSC1</text>
<line x1="434.5" y1="407.5" x2="443.1" y2="407.5" stroke="#552a66" stroke-width="0.9"/>
<path d="M438.8 409.9 L441 406.1 L436.6 406.1 Z" fill="#fff" stroke="#552a66" stroke-width="0.8"/>
<text x="446.4" y="407.7" font-size="7" fill="#3a3a3a" stroke="#3a3a3a" stroke-width="0.2" textLength="16.2" lengthAdjust="spacingAndGlyphs" dy="0.35em">LSC2</text>
<line x1="434.5" y1="417.5" x2="443.1" y2="417.5" stroke="#552a66" stroke-width="0.9"/>
<path d="M438.8 415.2 L441.2 417.6 L438.8 420 L436.4 417.6 Z" fill="#fff" stroke="#552a66" stroke-width="0.8"/>
<text x="446.4" y="417.6" font-size="7" fill="#3a3a3a" stroke="#3a3a3a" stroke-width="0.2" textLength="16.2" lengthAdjust="spacingAndGlyphs" dy="0.35em">LSC3</text>
<line x1="434.5" y1="427.5" x2="443.1" y2="427.5" stroke="#552a66" stroke-width="0.9"/>
<polygon points="441,427.5 439.9,429.41 437.7,429.41 436.6,427.5 437.7,425.59 439.9,425.59" fill="#fff" stroke="#552a66" stroke-width="0.8"/>
<text x="446.4" y="427.5" font-size="7" fill="#3a3a3a" stroke="#3a3a3a" stroke-width="0.2" textLength="16.2" lengthAdjust="spacingAndGlyphs" dy="0.35em">LSC4</text>
<text transform="translate(8.9 477.14) scale(0.857 1)" font-size="11.61" font-weight="bold" fill="#000">J</text>
<line x1="47.5" y1="481.5" x2="47.5" y2="547.6" stroke="#1e1e1e" stroke-width="1.2"/>
<line x1="47.5" y1="555.8" x2="47.5" y2="564.5" stroke="#1e1e1e" stroke-width="1.2"/>
<line x1="45" y1="484.5" x2="47.5" y2="484.5" stroke="#1e1e1e" stroke-width="0.8"/>
<text x="41.1" y="484" font-size="6.5" text-anchor="end" fill="#2e2e2e" stroke="#2e2e2e" stroke-width="0.2" dy="0.35em">120</text>
<line x1="45" y1="502.5" x2="47.5" y2="502.5" stroke="#1e1e1e" stroke-width="0.8"/>
<text x="41.1" y="502.5" font-size="6.5" text-anchor="end" fill="#2e2e2e" stroke="#2e2e2e" stroke-width="0.2" dy="0.35em">100</text>
<line x1="45" y1="521.5" x2="47.5" y2="521.5" stroke="#1e1e1e" stroke-width="0.8"/>
<text x="41.1" y="521" font-size="6.5" text-anchor="end" fill="#2e2e2e" stroke="#2e2e2e" stroke-width="0.2" dy="0.35em">80</text>
<line x1="45" y1="539.5" x2="47.5" y2="539.5" stroke="#1e1e1e" stroke-width="0.8"/>
<text x="41.1" y="539.5" font-size="6.5" text-anchor="end" fill="#2e2e2e" stroke="#2e2e2e" stroke-width="0.2" dy="0.35em">60</text>
<text x="41.1" y="553.8" font-size="6.5" text-anchor="end" fill="#2e2e2e" stroke="#2e2e2e" stroke-width="0.2" dy="0.35em">20</text>
<line x1="45" y1="561.5" x2="47.5" y2="561.5" stroke="#1e1e1e" stroke-width="0.8"/>
<text x="41.1" y="561.5" font-size="6.5" text-anchor="end" fill="#2e2e2e" stroke="#2e2e2e" stroke-width="0.2" dy="0.35em">0</text>
<path d="M45.7 547.1L49.9 550.7M45.7 552.3L49.9 555.9" stroke="#111" stroke-width="1.1" fill="none"/>
<line x1="47.5" y1="561.5" x2="147" y2="561.5" stroke="#1e1e1e" stroke-width="1.2"/>
<line x1="47.5" y1="562" x2="47.5" y2="564.6" stroke="#1e1e1e" stroke-width="0.9"/>
<text x="47.5" y="571.3" font-size="6.6" text-anchor="middle" fill="#2e2e2e" stroke="#2e2e2e" stroke-width="0.2" dy="0.35em">0</text>
<line x1="79.5" y1="562" x2="79.5" y2="564.6" stroke="#1e1e1e" stroke-width="0.9"/>
<text x="79.84" y="571.3" font-size="6.6" text-anchor="middle" fill="#2e2e2e" stroke="#2e2e2e" stroke-width="0.2" dy="0.35em">20</text>
<line x1="112.5" y1="562" x2="112.5" y2="564.6" stroke="#1e1e1e" stroke-width="0.9"/>
<text x="112.18" y="571.3" font-size="6.6" text-anchor="middle" fill="#2e2e2e" stroke="#2e2e2e" stroke-width="0.2" dy="0.35em">40</text>
<line x1="144.5" y1="562" x2="144.5" y2="564.6" stroke="#1e1e1e" stroke-width="0.9"/>
<text x="144.52" y="571.3" font-size="6.6" text-anchor="middle" fill="#2e2e2e" stroke="#2e2e2e" stroke-width="0.2" dy="0.35em">60</text>
<text x="37.5" y="571.3" font-size="6.4" text-anchor="end" fill="#2e2e2e" stroke="#2e2e2e" stroke-width="0.2" textLength="27" lengthAdjust="spacingAndGlyphs" dy="0.35em">2BP (μM)</text>
<text x="23.1" y="520.8" font-size="8.5" text-anchor="middle" fill="#333" stroke="#333" stroke-width="0.2" textLength="76.9" lengthAdjust="spacingAndGlyphs" transform="rotate(-90 23.1 520.8)">Relative proliferation (%)</text>
<polyline points="47.5,502.5 79.84,505.27 112.18,506.2 144.52,508.05" stroke="#3e4a5a" stroke-width="1.05" fill="none"/>
<polyline points="47.5,502.5 79.84,504.81 112.18,506.66 144.52,508.51" stroke="#3e4a5a" stroke-width="1.05" fill="none"/>
<polyline points="47.5,502.5 79.84,520.08 112.18,520.08 144.52,526.55" stroke="#552a66" stroke-width="1.05" fill="none"/>
<polyline points="47.5,502.5 79.84,522.85 112.18,528.4 144.52,542.27" stroke="#552a66" stroke-width="1.05" fill="none"/>
<polyline points="47.5,502.5 79.84,524.7 112.18,530.25 144.52,537.65" stroke="#552a66" stroke-width="1.05" fill="none"/>
<polyline points="47.5,502.5 79.84,532.1 112.18,537.65 144.52,539.5" stroke="#552a66" stroke-width="1.05" fill="none"/>
<line x1="79.5" y1="506.66" x2="79.5" y2="503.89" stroke="#3e4a5a" stroke-width="0.8"/>
<line x1="78.04" y1="506.5" x2="81.64" y2="506.5" stroke="#3e4a5a" stroke-width="0.8"/>
<line x1="78.04" y1="503.5" x2="81.64" y2="503.5" stroke="#3e4a5a" stroke-width="0.8"/>
<line x1="112.5" y1="507.12" x2="112.5" y2="505.27" stroke="#3e4a5a" stroke-width="0.8"/>
<line x1="110.38" y1="507.5" x2="113.98" y2="507.5" stroke="#3e4a5a" stroke-width="0.8"/>
<line x1="110.38" y1="505.5" x2="113.98" y2="505.5" stroke="#3e4a5a" stroke-width="0.8"/>
<line x1="144.5" y1="511.75" x2="144.5" y2="504.35" stroke="#3e4a5a" stroke-width="0.8"/>
<line x1="142.72" y1="511.5" x2="146.32" y2="511.5" stroke="#3e4a5a" stroke-width="0.8"/>
<line x1="142.72" y1="504.5" x2="146.32" y2="504.5" stroke="#3e4a5a" stroke-width="0.8"/>
<line x1="144.5" y1="510.36" x2="144.5" y2="506.66" stroke="#3e4a5a" stroke-width="0.8"/>
<line x1="142.72" y1="510.5" x2="146.32" y2="510.5" stroke="#3e4a5a" stroke-width="0.8"/>
<line x1="142.72" y1="506.5" x2="146.32" y2="506.5" stroke="#3e4a5a" stroke-width="0.8"/>
<line x1="79.5" y1="522.85" x2="79.5" y2="517.3" stroke="#552a66" stroke-width="0.8"/>
<line x1="78.04" y1="522.5" x2="81.64" y2="522.5" stroke="#552a66" stroke-width="0.8"/>
<line x1="78.04" y1="517.5" x2="81.64" y2="517.5" stroke="#552a66" stroke-width="0.8"/>
<line x1="112.5" y1="522.85" x2="112.5" y2="517.3" stroke="#552a66" stroke-width="0.8"/>
<line x1="110.38" y1="522.5" x2="113.98" y2="522.5" stroke="#552a66" stroke-width="0.8"/>
<line x1="110.38" y1="517.5" x2="113.98" y2="517.5" stroke="#552a66" stroke-width="0.8"/>
<line x1="144.5" y1="528.4" x2="144.5" y2="524.7" stroke="#552a66" stroke-width="0.8"/>
<line x1="142.72" y1="528.5" x2="146.32" y2="528.5" stroke="#552a66" stroke-width="0.8"/>
<line x1="142.72" y1="524.5" x2="146.32" y2="524.5" stroke="#552a66" stroke-width="0.8"/>
<line x1="79.5" y1="527.48" x2="79.5" y2="518.23" stroke="#552a66" stroke-width="0.8"/>
<line x1="78.04" y1="527.5" x2="81.64" y2="527.5" stroke="#552a66" stroke-width="0.8"/>
<line x1="78.04" y1="518.5" x2="81.64" y2="518.5" stroke="#552a66" stroke-width="0.8"/>
<line x1="112.5" y1="532.1" x2="112.5" y2="524.7" stroke="#552a66" stroke-width="0.8"/>
<line x1="110.38" y1="532.5" x2="113.98" y2="532.5" stroke="#552a66" stroke-width="0.8"/>
<line x1="110.38" y1="524.5" x2="113.98" y2="524.5" stroke="#552a66" stroke-width="0.8"/>
<line x1="144.5" y1="544.12" x2="144.5" y2="540.42" stroke="#552a66" stroke-width="0.8"/>
<line x1="142.72" y1="544.5" x2="146.32" y2="544.5" stroke="#552a66" stroke-width="0.8"/>
<line x1="142.72" y1="540.5" x2="146.32" y2="540.5" stroke="#552a66" stroke-width="0.8"/>
<line x1="79.5" y1="527.48" x2="79.5" y2="521.92" stroke="#552a66" stroke-width="0.8"/>
<line x1="78.04" y1="527.5" x2="81.64" y2="527.5" stroke="#552a66" stroke-width="0.8"/>
<line x1="78.04" y1="521.5" x2="81.64" y2="521.5" stroke="#552a66" stroke-width="0.8"/>
<line x1="112.5" y1="533.02" x2="112.5" y2="527.48" stroke="#552a66" stroke-width="0.8"/>
<line x1="110.38" y1="533.5" x2="113.98" y2="533.5" stroke="#552a66" stroke-width="0.8"/>
<line x1="110.38" y1="527.5" x2="113.98" y2="527.5" stroke="#552a66" stroke-width="0.8"/>
<line x1="144.5" y1="539.5" x2="144.5" y2="535.8" stroke="#552a66" stroke-width="0.8"/>
<line x1="142.72" y1="539.5" x2="146.32" y2="539.5" stroke="#552a66" stroke-width="0.8"/>
<line x1="142.72" y1="535.5" x2="146.32" y2="535.5" stroke="#552a66" stroke-width="0.8"/>
<line x1="79.5" y1="537.65" x2="79.5" y2="526.55" stroke="#552a66" stroke-width="0.8"/>
<line x1="78.04" y1="537.5" x2="81.64" y2="537.5" stroke="#552a66" stroke-width="0.8"/>
<line x1="78.04" y1="526.5" x2="81.64" y2="526.5" stroke="#552a66" stroke-width="0.8"/>
<line x1="112.5" y1="540.42" x2="112.5" y2="534.88" stroke="#552a66" stroke-width="0.8"/>
<line x1="110.38" y1="540.5" x2="113.98" y2="540.5" stroke="#552a66" stroke-width="0.8"/>
<line x1="110.38" y1="534.5" x2="113.98" y2="534.5" stroke="#552a66" stroke-width="0.8"/>
<line x1="144.5" y1="541.35" x2="144.5" y2="537.65" stroke="#552a66" stroke-width="0.8"/>
<line x1="142.72" y1="541.5" x2="146.32" y2="541.5" stroke="#552a66" stroke-width="0.8"/>
<line x1="142.72" y1="537.5" x2="146.32" y2="537.5" stroke="#552a66" stroke-width="0.8"/>
<path d="M47.5 500.19 L49.81 504.18 L45.19 504.18 Z" fill="#fff" stroke="#3e4a5a" stroke-width="0.8"/>
<path d="M79.84 502.96 L82.15 506.95 L77.53 506.95 Z" fill="#fff" stroke="#3e4a5a" stroke-width="0.8"/>
<path d="M112.18 503.89 L114.49 507.88 L109.87 507.88 Z" fill="#fff" stroke="#3e4a5a" stroke-width="0.8"/>
<path d="M144.52 505.74 L146.83 509.73 L142.21 509.73 Z" fill="#fff" stroke="#3e4a5a" stroke-width="0.8"/>
<circle cx="47.5" cy="502.5" r="2.1" fill="#fff" stroke="#3e4a5a" stroke-width="0.8"/>
<circle cx="79.84" cy="504.81" r="2.1" fill="#fff" stroke="#3e4a5a" stroke-width="0.8"/>
<circle cx="112.18" cy="506.66" r="2.1" fill="#fff" stroke="#3e4a5a" stroke-width="0.8"/>
<circle cx="144.52" cy="508.51" r="2.1" fill="#fff" stroke="#3e4a5a" stroke-width="0.8"/>
<rect x="45.4" y="500.4" width="4.2" height="4.2" fill="#fff" stroke="#552a66" stroke-width="0.8"/>
<rect x="77.74" y="517.98" width="4.2" height="4.2" fill="#fff" stroke="#552a66" stroke-width="0.8"/>
<rect x="110.08" y="517.98" width="4.2" height="4.2" fill="#fff" stroke="#552a66" stroke-width="0.8"/>
<rect x="142.42" y="524.45" width="4.2" height="4.2" fill="#fff" stroke="#552a66" stroke-width="0.8"/>
<path d="M47.5 504.81 L49.81 500.82 L45.19 500.82 Z" fill="#fff" stroke="#552a66" stroke-width="0.8"/>
<path d="M79.84 525.16 L82.15 521.17 L77.53 521.17 Z" fill="#fff" stroke="#552a66" stroke-width="0.8"/>
<path d="M112.18 530.71 L114.49 526.72 L109.87 526.72 Z" fill="#fff" stroke="#552a66" stroke-width="0.8"/>
<path d="M144.52 544.58 L146.83 540.6 L142.21 540.6 Z" fill="#fff" stroke="#552a66" stroke-width="0.8"/>
<path d="M47.5 499.98 L50.02 502.5 L47.5 505.02 L44.98 502.5 Z" fill="#fff" stroke="#552a66" stroke-width="0.8"/>
<path d="M79.84 522.18 L82.36 524.7 L79.84 527.22 L77.32 524.7 Z" fill="#fff" stroke="#552a66" stroke-width="0.8"/>
<path d="M112.18 527.73 L114.7 530.25 L112.18 532.77 L109.66 530.25 Z" fill="#fff" stroke="#552a66" stroke-width="0.8"/>
<path d="M144.52 535.13 L147.04 537.65 L144.52 540.17 L142 537.65 Z" fill="#fff" stroke="#552a66" stroke-width="0.8"/>
<polygon points="49.81,502.5 48.66,504.5 46.34,504.5 45.19,502.5 46.34,500.5 48.66,500.5" fill="#fff" stroke="#552a66" stroke-width="0.8"/>
<polygon points="82.15,532.1 81,534.1 78.69,534.1 77.53,532.1 78.69,530.1 81,530.1" fill="#fff" stroke="#552a66" stroke-width="0.8"/>
<polygon points="114.49,537.65 113.34,539.65 111.03,539.65 109.87,537.65 111.03,535.65 113.34,535.65" fill="#fff" stroke="#552a66" stroke-width="0.8"/>
<polygon points="146.83,539.5 145.67,541.5 143.36,541.5 142.21,539.5 143.36,537.5 145.67,537.5" fill="#fff" stroke="#552a66" stroke-width="0.8"/>
<text x="152.62" y="530.8" font-size="7" text-anchor="middle" fill="#222" letter-spacing="0.25">***</text>
<text x="152.62" y="540.1" font-size="7" text-anchor="middle" fill="#222" letter-spacing="0.25">***</text>
<text x="152.62" y="543.3" font-size="7" text-anchor="middle" fill="#222" letter-spacing="0.25">***</text>
<text x="152.62" y="546.3" font-size="7" text-anchor="middle" fill="#222" letter-spacing="0.25">***</text>
<line x1="163.7" y1="496.5" x2="172.3" y2="496.5" stroke="#3e4a5a" stroke-width="0.9"/>
<path d="M168 494.1 L170.2 497.9 L165.8 497.9 Z" fill="#fff" stroke="#3e4a5a" stroke-width="0.8"/>
<text x="175.6" y="496.3" font-size="7" fill="#3a3a3a" stroke="#3a3a3a" stroke-width="0.2" textLength="16.2" lengthAdjust="spacingAndGlyphs" dy="0.35em">HSC1</text>
<line x1="163.7" y1="506.5" x2="172.3" y2="506.5" stroke="#3e4a5a" stroke-width="0.9"/>
<circle cx="168" cy="506.3" r="2" fill="#fff" stroke="#3e4a5a" stroke-width="0.8"/>
<text x="175.6" y="506.3" font-size="7" fill="#3a3a3a" stroke="#3a3a3a" stroke-width="0.2" textLength="16.2" lengthAdjust="spacingAndGlyphs" dy="0.35em">HSC2</text>
<line x1="163.7" y1="516.5" x2="172.3" y2="516.5" stroke="#552a66" stroke-width="0.9"/>
<rect x="166" y="514.3" width="4" height="4" fill="#fff" stroke="#552a66" stroke-width="0.8"/>
<text x="175.6" y="516.3" font-size="7" fill="#3a3a3a" stroke="#3a3a3a" stroke-width="0.2" textLength="16.2" lengthAdjust="spacingAndGlyphs" dy="0.35em">LSC1</text>
<line x1="163.7" y1="526.5" x2="172.3" y2="526.5" stroke="#552a66" stroke-width="0.9"/>
<path d="M168 528.5 L170.2 524.7 L165.8 524.7 Z" fill="#fff" stroke="#552a66" stroke-width="0.8"/>
<text x="175.6" y="526.3" font-size="7" fill="#3a3a3a" stroke="#3a3a3a" stroke-width="0.2" textLength="16.2" lengthAdjust="spacingAndGlyphs" dy="0.35em">LSC2</text>
<line x1="163.7" y1="536.5" x2="172.3" y2="536.5" stroke="#552a66" stroke-width="0.9"/>
<path d="M168 533.9 L170.4 536.3 L168 538.7 L165.6 536.3 Z" fill="#fff" stroke="#552a66" stroke-width="0.8"/>
<text x="175.6" y="536.3" font-size="7" fill="#3a3a3a" stroke="#3a3a3a" stroke-width="0.2" textLength="16.2" lengthAdjust="spacingAndGlyphs" dy="0.35em">LSC3</text>
<line x1="163.7" y1="546.5" x2="172.3" y2="546.5" stroke="#552a66" stroke-width="0.9"/>
<polygon points="170.2,546.3 169.1,548.21 166.9,548.21 165.8,546.3 166.9,544.39 169.1,544.39" fill="#fff" stroke="#552a66" stroke-width="0.8"/>
<text x="175.6" y="546.3" font-size="7" fill="#3a3a3a" stroke="#3a3a3a" stroke-width="0.2" textLength="16.2" lengthAdjust="spacingAndGlyphs" dy="0.35em">LSC4</text>
<text transform="translate(272.26 480.45) scale(0.999 1)" font-size="11.77" font-weight="bold" fill="#000">K</text>
<line x1="318.5" y1="485" x2="318.5" y2="564.7" stroke="#1e1e1e" stroke-width="1.2"/>
<line x1="315.8" y1="487.5" x2="318.3" y2="487.5" stroke="#1e1e1e" stroke-width="0.8"/>
<text x="311.9" y="487.1" font-size="6.5" text-anchor="end" fill="#2e2e2e" stroke="#2e2e2e" stroke-width="0.2" dy="0.35em">120</text>
<line x1="315.8" y1="500.5" x2="318.3" y2="500.5" stroke="#1e1e1e" stroke-width="0.8"/>
<text x="311.9" y="500" font-size="6.5" text-anchor="end" fill="#2e2e2e" stroke="#2e2e2e" stroke-width="0.2" dy="0.35em">100</text>
<line x1="315.8" y1="512.5" x2="318.3" y2="512.5" stroke="#1e1e1e" stroke-width="0.8"/>
<text x="311.9" y="512.9" font-size="6.5" text-anchor="end" fill="#2e2e2e" stroke="#2e2e2e" stroke-width="0.2" dy="0.35em">80</text>
<line x1="315.8" y1="525.5" x2="318.3" y2="525.5" stroke="#1e1e1e" stroke-width="0.8"/>
<text x="311.9" y="525.8" font-size="6.5" text-anchor="end" fill="#2e2e2e" stroke="#2e2e2e" stroke-width="0.2" dy="0.35em">60</text>
<line x1="315.8" y1="538.5" x2="318.3" y2="538.5" stroke="#1e1e1e" stroke-width="0.8"/>
<text x="311.9" y="538.7" font-size="6.5" text-anchor="end" fill="#2e2e2e" stroke="#2e2e2e" stroke-width="0.2" dy="0.35em">40</text>
<line x1="315.8" y1="551.5" x2="318.3" y2="551.5" stroke="#1e1e1e" stroke-width="0.8"/>
<text x="311.9" y="551.6" font-size="6.5" text-anchor="end" fill="#2e2e2e" stroke="#2e2e2e" stroke-width="0.2" dy="0.35em">20</text>
<line x1="315.8" y1="564.5" x2="318.3" y2="564.5" stroke="#1e1e1e" stroke-width="0.8"/>
<text x="311.9" y="564.5" font-size="6.5" text-anchor="end" fill="#2e2e2e" stroke="#2e2e2e" stroke-width="0.2" dy="0.35em">0</text>
<line x1="318.3" y1="564.5" x2="418" y2="564.5" stroke="#1e1e1e" stroke-width="1.2"/>
<line x1="318.5" y1="564.8" x2="318.5" y2="567.4" stroke="#1e1e1e" stroke-width="0.9"/>
<text x="318.3" y="575" font-size="6.6" text-anchor="middle" fill="#2e2e2e" stroke="#2e2e2e" stroke-width="0.2" dy="0.35em">0</text>
<line x1="350.5" y1="564.8" x2="350.5" y2="567.4" stroke="#1e1e1e" stroke-width="0.9"/>
<text x="350.56" y="575" font-size="6.6" text-anchor="middle" fill="#2e2e2e" stroke="#2e2e2e" stroke-width="0.2" dy="0.35em">20</text>
<line x1="382.5" y1="564.8" x2="382.5" y2="567.4" stroke="#1e1e1e" stroke-width="0.9"/>
<text x="382.82" y="575" font-size="6.6" text-anchor="middle" fill="#2e2e2e" stroke="#2e2e2e" stroke-width="0.2" dy="0.35em">40</text>
<line x1="415.5" y1="564.8" x2="415.5" y2="567.4" stroke="#1e1e1e" stroke-width="0.9"/>
<text x="415.08" y="575" font-size="6.6" text-anchor="middle" fill="#2e2e2e" stroke="#2e2e2e" stroke-width="0.2" dy="0.35em">60</text>
<text x="308" y="575" font-size="6.4" text-anchor="end" fill="#2e2e2e" stroke="#2e2e2e" stroke-width="0.2" textLength="27" lengthAdjust="spacingAndGlyphs" dy="0.35em">2BP (μM)</text>
<text x="294.5" y="524.5" font-size="8.5" text-anchor="middle" fill="#333" stroke="#333" stroke-width="0.2" textLength="66.5" lengthAdjust="spacingAndGlyphs" transform="rotate(-90 294.5 524.5)">Colony formation (%)</text>
<polyline points="318.3,500 350.56,499.03 382.82,502.19 415.08,501.94" stroke="#3e4a5a" stroke-width="1.05" fill="none"/>
<polyline points="318.3,500 350.56,506.13 382.82,501.94 415.08,502.26" stroke="#3e4a5a" stroke-width="1.05" fill="none"/>
<polyline points="318.3,500 350.56,510.32 382.82,529.02 415.08,537.41" stroke="#552a66" stroke-width="1.05" fill="none"/>
<polyline points="318.3,500 350.56,510.96 382.82,534.18 415.08,549.99" stroke="#552a66" stroke-width="1.05" fill="none"/>
<polyline points="318.3,500 350.56,525.8 382.82,542.57 415.08,553.21" stroke="#552a66" stroke-width="1.05" fill="none"/>
<polyline points="318.3,500 350.56,538.7 382.82,549.02 415.08,556.12" stroke="#552a66" stroke-width="1.05" fill="none"/>
<line x1="350.5" y1="504.84" x2="350.5" y2="493.23" stroke="#3e4a5a" stroke-width="0.8"/>
<line x1="348.76" y1="504.5" x2="352.36" y2="504.5" stroke="#3e4a5a" stroke-width="0.8"/>
<line x1="348.76" y1="493.5" x2="352.36" y2="493.5" stroke="#3e4a5a" stroke-width="0.8"/>
<line x1="382.5" y1="505.42" x2="382.5" y2="498.97" stroke="#3e4a5a" stroke-width="0.8"/>
<line x1="381.02" y1="505.5" x2="384.62" y2="505.5" stroke="#3e4a5a" stroke-width="0.8"/>
<line x1="381.02" y1="498.5" x2="384.62" y2="498.5" stroke="#3e4a5a" stroke-width="0.8"/>
<line x1="415.5" y1="504.51" x2="415.5" y2="499.36" stroke="#3e4a5a" stroke-width="0.8"/>
<line x1="413.28" y1="504.5" x2="416.88" y2="504.5" stroke="#3e4a5a" stroke-width="0.8"/>
<line x1="413.28" y1="499.5" x2="416.88" y2="499.5" stroke="#3e4a5a" stroke-width="0.8"/>
<line x1="415.5" y1="504.19" x2="415.5" y2="500.32" stroke="#3e4a5a" stroke-width="0.8"/>
<line x1="413.28" y1="504.5" x2="416.88" y2="504.5" stroke="#3e4a5a" stroke-width="0.8"/>
<line x1="413.28" y1="500.5" x2="416.88" y2="500.5" stroke="#3e4a5a" stroke-width="0.8"/>
<line x1="350.5" y1="512.25" x2="350.5" y2="508.38" stroke="#552a66" stroke-width="0.8"/>
<line x1="348.76" y1="512.5" x2="352.36" y2="512.5" stroke="#552a66" stroke-width="0.8"/>
<line x1="348.76" y1="508.5" x2="352.36" y2="508.5" stroke="#552a66" stroke-width="0.8"/>
<line x1="382.5" y1="531.61" x2="382.5" y2="526.45" stroke="#552a66" stroke-width="0.8"/>
<line x1="381.02" y1="531.5" x2="384.62" y2="531.5" stroke="#552a66" stroke-width="0.8"/>
<line x1="381.02" y1="526.5" x2="384.62" y2="526.5" stroke="#552a66" stroke-width="0.8"/>
<line x1="415.5" y1="539.35" x2="415.5" y2="535.48" stroke="#552a66" stroke-width="0.8"/>
<line x1="413.28" y1="539.5" x2="416.88" y2="539.5" stroke="#552a66" stroke-width="0.8"/>
<line x1="413.28" y1="535.5" x2="416.88" y2="535.5" stroke="#552a66" stroke-width="0.8"/>
<line x1="350.5" y1="512.9" x2="350.5" y2="509.03" stroke="#552a66" stroke-width="0.8"/>
<line x1="348.76" y1="512.5" x2="352.36" y2="512.5" stroke="#552a66" stroke-width="0.8"/>
<line x1="348.76" y1="509.5" x2="352.36" y2="509.5" stroke="#552a66" stroke-width="0.8"/>
<line x1="382.5" y1="536.76" x2="382.5" y2="531.61" stroke="#552a66" stroke-width="0.8"/>
<line x1="381.02" y1="536.5" x2="384.62" y2="536.5" stroke="#552a66" stroke-width="0.8"/>
<line x1="381.02" y1="531.5" x2="384.62" y2="531.5" stroke="#552a66" stroke-width="0.8"/>
<line x1="415.5" y1="551.92" x2="415.5" y2="548.05" stroke="#552a66" stroke-width="0.8"/>
<line x1="413.28" y1="551.5" x2="416.88" y2="551.5" stroke="#552a66" stroke-width="0.8"/>
<line x1="413.28" y1="548.5" x2="416.88" y2="548.5" stroke="#552a66" stroke-width="0.8"/>
<line x1="350.5" y1="529.02" x2="350.5" y2="522.58" stroke="#552a66" stroke-width="0.8"/>
<line x1="348.76" y1="529.5" x2="352.36" y2="529.5" stroke="#552a66" stroke-width="0.8"/>
<line x1="348.76" y1="522.5" x2="352.36" y2="522.5" stroke="#552a66" stroke-width="0.8"/>
<line x1="382.5" y1="545.15" x2="382.5" y2="539.99" stroke="#552a66" stroke-width="0.8"/>
<line x1="381.02" y1="545.5" x2="384.62" y2="545.5" stroke="#552a66" stroke-width="0.8"/>
<line x1="381.02" y1="539.5" x2="384.62" y2="539.5" stroke="#552a66" stroke-width="0.8"/>
<line x1="415.5" y1="555.15" x2="415.5" y2="551.28" stroke="#552a66" stroke-width="0.8"/>
<line x1="413.28" y1="555.5" x2="416.88" y2="555.5" stroke="#552a66" stroke-width="0.8"/>
<line x1="413.28" y1="551.5" x2="416.88" y2="551.5" stroke="#552a66" stroke-width="0.8"/>
<line x1="350.5" y1="541.92" x2="350.5" y2="535.48" stroke="#552a66" stroke-width="0.8"/>
<line x1="348.76" y1="541.5" x2="352.36" y2="541.5" stroke="#552a66" stroke-width="0.8"/>
<line x1="348.76" y1="535.5" x2="352.36" y2="535.5" stroke="#552a66" stroke-width="0.8"/>
<line x1="382.5" y1="551.6" x2="382.5" y2="546.44" stroke="#552a66" stroke-width="0.8"/>
<line x1="381.02" y1="551.5" x2="384.62" y2="551.5" stroke="#552a66" stroke-width="0.8"/>
<line x1="381.02" y1="546.5" x2="384.62" y2="546.5" stroke="#552a66" stroke-width="0.8"/>
<line x1="415.5" y1="558.05" x2="415.5" y2="554.18" stroke="#552a66" stroke-width="0.8"/>
<line x1="413.28" y1="558.5" x2="416.88" y2="558.5" stroke="#552a66" stroke-width="0.8"/>
<line x1="413.28" y1="554.5" x2="416.88" y2="554.5" stroke="#552a66" stroke-width="0.8"/>
<path d="M318.3 497.69 L320.61 501.68 L315.99 501.68 Z" fill="#fff" stroke="#3e4a5a" stroke-width="0.8"/>
<path d="M350.56 496.72 L352.87 500.71 L348.25 500.71 Z" fill="#fff" stroke="#3e4a5a" stroke-width="0.8"/>
<path d="M382.82 499.88 L385.13 503.87 L380.51 503.87 Z" fill="#fff" stroke="#3e4a5a" stroke-width="0.8"/>
<path d="M415.08 499.62 L417.39 503.62 L412.77 503.62 Z" fill="#fff" stroke="#3e4a5a" stroke-width="0.8"/>
<circle cx="318.3" cy="500" r="2.1" fill="#fff" stroke="#3e4a5a" stroke-width="0.8"/>
<circle cx="350.56" cy="506.13" r="2.1" fill="#fff" stroke="#3e4a5a" stroke-width="0.8"/>
<circle cx="382.82" cy="501.94" r="2.1" fill="#fff" stroke="#3e4a5a" stroke-width="0.8"/>
<circle cx="415.08" cy="502.26" r="2.1" fill="#fff" stroke="#3e4a5a" stroke-width="0.8"/>
<rect x="316.2" y="497.9" width="4.2" height="4.2" fill="#fff" stroke="#552a66" stroke-width="0.8"/>
<rect x="348.46" y="508.22" width="4.2" height="4.2" fill="#fff" stroke="#552a66" stroke-width="0.8"/>
<rect x="380.72" y="526.92" width="4.2" height="4.2" fill="#fff" stroke="#552a66" stroke-width="0.8"/>
<rect x="412.98" y="535.31" width="4.2" height="4.2" fill="#fff" stroke="#552a66" stroke-width="0.8"/>
<path d="M318.3 502.31 L320.61 498.32 L315.99 498.32 Z" fill="#fff" stroke="#552a66" stroke-width="0.8"/>
<path d="M350.56 513.27 L352.87 509.28 L348.25 509.28 Z" fill="#fff" stroke="#552a66" stroke-width="0.8"/>
<path d="M382.82 536.49 L385.13 532.5 L380.51 532.5 Z" fill="#fff" stroke="#552a66" stroke-width="0.8"/>
<path d="M415.08 552.3 L417.39 548.31 L412.77 548.31 Z" fill="#fff" stroke="#552a66" stroke-width="0.8"/>
<path d="M318.3 497.48 L320.82 500 L318.3 502.52 L315.78 500 Z" fill="#fff" stroke="#552a66" stroke-width="0.8"/>
<path d="M350.56 523.28 L353.08 525.8 L350.56 528.32 L348.04 525.8 Z" fill="#fff" stroke="#552a66" stroke-width="0.8"/>
<path d="M382.82 540.05 L385.34 542.57 L382.82 545.09 L380.3 542.57 Z" fill="#fff" stroke="#552a66" stroke-width="0.8"/>
<path d="M415.08 550.69 L417.6 553.21 L415.08 555.73 L412.56 553.21 Z" fill="#fff" stroke="#552a66" stroke-width="0.8"/>
<polygon points="320.61,500 319.45,502 317.15,502 315.99,500 317.14,498 319.45,498" fill="#fff" stroke="#552a66" stroke-width="0.8"/>
<polygon points="352.87,538.7 351.71,540.7 349.41,540.7 348.25,538.7 349.4,536.7 351.71,536.7" fill="#fff" stroke="#552a66" stroke-width="0.8"/>
<polygon points="385.13,549.02 383.97,551.02 381.67,551.02 380.51,549.02 381.66,547.02 383.97,547.02" fill="#fff" stroke="#552a66" stroke-width="0.8"/>
<polygon points="417.39,556.12 416.24,558.12 413.93,558.12 412.77,556.12 413.93,554.11 416.24,554.11" fill="#fff" stroke="#552a66" stroke-width="0.8"/>
<text x="423.12" y="541.8" font-size="7" text-anchor="middle" fill="#222" letter-spacing="0.25">***</text>
<text x="423.12" y="552.6" font-size="7" text-anchor="middle" fill="#222" letter-spacing="0.25">***</text>
<text x="423.12" y="557.6" font-size="7" text-anchor="middle" fill="#222" letter-spacing="0.25">***</text>
<text x="423.12" y="561.3" font-size="7" text-anchor="middle" fill="#222" letter-spacing="0.25">***</text>
<line x1="434.5" y1="499.5" x2="443.1" y2="499.5" stroke="#3e4a5a" stroke-width="0.9"/>
<path d="M438.8 497.3 L441 501.1 L436.6 501.1 Z" fill="#fff" stroke="#3e4a5a" stroke-width="0.8"/>
<text x="446.4" y="499.5" font-size="7" fill="#3a3a3a" stroke="#3a3a3a" stroke-width="0.2" textLength="16.2" lengthAdjust="spacingAndGlyphs" dy="0.35em">HSC1</text>
<line x1="434.5" y1="509.5" x2="443.1" y2="509.5" stroke="#3e4a5a" stroke-width="0.9"/>
<circle cx="438.8" cy="509.45" r="2" fill="#fff" stroke="#3e4a5a" stroke-width="0.8"/>
<text x="446.4" y="509.45" font-size="7" fill="#3a3a3a" stroke="#3a3a3a" stroke-width="0.2" textLength="16.2" lengthAdjust="spacingAndGlyphs" dy="0.35em">HSC2</text>
<line x1="434.5" y1="519.5" x2="443.1" y2="519.5" stroke="#552a66" stroke-width="0.9"/>
<rect x="436.8" y="517.4" width="4" height="4" fill="#fff" stroke="#552a66" stroke-width="0.8"/>
<text x="446.4" y="519.4" font-size="7" fill="#3a3a3a" stroke="#3a3a3a" stroke-width="0.2" textLength="16.2" lengthAdjust="spacingAndGlyphs" dy="0.35em">LSC1</text>
<line x1="434.5" y1="529.5" x2="443.1" y2="529.5" stroke="#552a66" stroke-width="0.9"/>
<path d="M438.8 531.55 L441 527.75 L436.6 527.75 Z" fill="#fff" stroke="#552a66" stroke-width="0.8"/>
<text x="446.4" y="529.35" font-size="7" fill="#3a3a3a" stroke="#3a3a3a" stroke-width="0.2" textLength="16.2" lengthAdjust="spacingAndGlyphs" dy="0.35em">LSC2</text>
<line x1="434.5" y1="539.5" x2="443.1" y2="539.5" stroke="#552a66" stroke-width="0.9"/>
<path d="M438.8 536.9 L441.2 539.3 L438.8 541.7 L436.4 539.3 Z" fill="#fff" stroke="#552a66" stroke-width="0.8"/>
<text x="446.4" y="539.3" font-size="7" fill="#3a3a3a" stroke="#3a3a3a" stroke-width="0.2" textLength="16.2" lengthAdjust="spacingAndGlyphs" dy="0.35em">LSC3</text>
<line x1="434.5" y1="549.5" x2="443.1" y2="549.5" stroke="#552a66" stroke-width="0.9"/>
<polygon points="441,549.25 439.9,551.16 437.7,551.16 436.6,549.25 437.7,547.34 439.9,547.34" fill="#fff" stroke="#552a66" stroke-width="0.8"/>
<text x="446.4" y="549.25" font-size="7" fill="#3a3a3a" stroke="#3a3a3a" stroke-width="0.2" textLength="16.2" lengthAdjust="spacingAndGlyphs" dy="0.35em">LSC4</text>
<text transform="translate(8.51 601.55) scale(0.921 1)" font-size="12.06" font-weight="bold" fill="#000">L</text>
<text x="24.8" y="653" font-size="8.5" text-anchor="middle" fill="#333" stroke="#333" stroke-width="0.2" textLength="51.3" lengthAdjust="spacingAndGlyphs" transform="rotate(-90 24.8 653)">Resistance index</text>
<text x="72.3" y="599.5" font-size="8.4" text-anchor="middle" fill="#2a2a2a" stroke="#2a2a2a" stroke-width="0.2" textLength="45" lengthAdjust="spacingAndGlyphs" dy="0.35em">Cytarabine</text>
<line x1="47.5" y1="610" x2="47.5" y2="697.2" stroke="#1e1e1e" stroke-width="1.2"/>
<line x1="45.3" y1="697.5" x2="47.8" y2="697.5" stroke="#1e1e1e" stroke-width="0.8"/>
<text x="41.4" y="697" font-size="6.5" text-anchor="end" fill="#2e2e2e" stroke="#2e2e2e" stroke-width="0.2" dy="0.35em">0</text>
<line x1="45.3" y1="680.5" x2="47.8" y2="680.5" stroke="#1e1e1e" stroke-width="0.8"/>
<text x="41.4" y="680.08" font-size="6.5" text-anchor="end" fill="#2e2e2e" stroke="#2e2e2e" stroke-width="0.2" dy="0.35em">50</text>
<line x1="45.3" y1="663.5" x2="47.8" y2="663.5" stroke="#1e1e1e" stroke-width="0.8"/>
<text x="41.4" y="663.16" font-size="6.5" text-anchor="end" fill="#2e2e2e" stroke="#2e2e2e" stroke-width="0.2" dy="0.35em">100</text>
<line x1="45.3" y1="646.5" x2="47.8" y2="646.5" stroke="#1e1e1e" stroke-width="0.8"/>
<text x="41.4" y="646.24" font-size="6.5" text-anchor="end" fill="#2e2e2e" stroke="#2e2e2e" stroke-width="0.2" dy="0.35em">150</text>
<line x1="45.3" y1="629.5" x2="47.8" y2="629.5" stroke="#1e1e1e" stroke-width="0.8"/>
<text x="41.4" y="629.32" font-size="6.5" text-anchor="end" fill="#2e2e2e" stroke="#2e2e2e" stroke-width="0.2" dy="0.35em">200</text>
<line x1="45.3" y1="612.5" x2="47.8" y2="612.5" stroke="#1e1e1e" stroke-width="0.8"/>
<text x="41.4" y="612.4" font-size="6.5" text-anchor="end" fill="#2e2e2e" stroke="#2e2e2e" stroke-width="0.2" dy="0.35em">250</text>
<line x1="47.8" y1="697.5" x2="95.8" y2="697.5" stroke="#1e1e1e" stroke-width="1.2"/>
<circle cx="61.5" cy="642.18" r="1.45" fill="#fff" stroke="#5d6a7c" stroke-width="0.75"/>
<circle cx="61.5" cy="658.08" r="1.45" fill="#fff" stroke="#5d6a7c" stroke-width="0.75"/>
<circle cx="61.5" cy="667.56" r="1.45" fill="#fff" stroke="#5d6a7c" stroke-width="0.75"/>
<circle cx="64.07" cy="679.79" r="1.45" fill="#fff" stroke="#5d6a7c" stroke-width="0.75"/>
<circle cx="59.69" cy="679.13" r="1.45" fill="#fff" stroke="#5d6a7c" stroke-width="0.75"/>
<circle cx="56.71" cy="679.64" r="1.45" fill="#fff" stroke="#5d6a7c" stroke-width="0.75"/>
<circle cx="59.33" cy="678.24" r="1.45" fill="#fff" stroke="#5d6a7c" stroke-width="0.75"/>
<circle cx="60.18" cy="679.44" r="1.45" fill="#fff" stroke="#5d6a7c" stroke-width="0.75"/>
<circle cx="66.14" cy="678.88" r="1.45" fill="#fff" stroke="#5d6a7c" stroke-width="0.75"/>
<circle cx="65.01" cy="678.54" r="1.45" fill="#fff" stroke="#5d6a7c" stroke-width="0.75"/>
<circle cx="56.81" cy="679.16" r="1.45" fill="#fff" stroke="#5d6a7c" stroke-width="0.75"/>
<circle cx="60.86" cy="678.06" r="1.45" fill="#fff" stroke="#5d6a7c" stroke-width="0.75"/>
<circle cx="59.97" cy="678.27" r="1.45" fill="#fff" stroke="#5d6a7c" stroke-width="0.75"/>
<circle cx="61.88" cy="679.76" r="1.45" fill="#fff" stroke="#5d6a7c" stroke-width="0.75"/>
<circle cx="65.12" cy="680.14" r="1.45" fill="#fff" stroke="#5d6a7c" stroke-width="0.75"/>
<circle cx="64.7" cy="679.9" r="1.45" fill="#fff" stroke="#5d6a7c" stroke-width="0.75"/>
<circle cx="56.51" cy="679.8" r="1.45" fill="#fff" stroke="#5d6a7c" stroke-width="0.75"/>
<line x1="61.5" y1="664.51" x2="61.5" y2="684.48" stroke="#2a2f38" stroke-width="1"/>
<line x1="58" y1="664.5" x2="65" y2="664.5" stroke="#2a2f38" stroke-width="1"/>
<line x1="58" y1="684.5" x2="65" y2="684.5" stroke="#2a2f38" stroke-width="1"/>
<line x1="54.7" y1="674.5" x2="68.3" y2="674.5" stroke="#2a2f38" stroke-width="1"/>
<rect x="56.5" y="677.37" width="10" height="2.71" fill="#7f9aa8" opacity="0.6"/>
<circle cx="82.1" cy="631.01" r="1.45" fill="#fff" stroke="#c23a5a" stroke-width="0.75"/>
<circle cx="82.1" cy="633.72" r="1.45" fill="#fff" stroke="#c23a5a" stroke-width="0.75"/>
<circle cx="77.4" cy="672.64" r="1.45" fill="#fff" stroke="#c23a5a" stroke-width="0.75"/>
<circle cx="86.3" cy="673.31" r="1.45" fill="#fff" stroke="#c23a5a" stroke-width="0.75"/>
<circle cx="77.4" cy="680.08" r="1.45" fill="#fff" stroke="#c23a5a" stroke-width="0.75"/>
<circle cx="86.3" cy="680.08" r="1.45" fill="#fff" stroke="#c23a5a" stroke-width="0.75"/>
<circle cx="82.1" cy="680.08" r="1.45" fill="#fff" stroke="#c23a5a" stroke-width="0.75"/>
<circle cx="82.1" cy="649.62" r="1.45" fill="#7e1c3a" stroke="#7e1c3a" stroke-width="0.6"/>
<circle cx="82.1" cy="668.91" r="1.45" fill="#7e1c3a" stroke="#7e1c3a" stroke-width="0.6"/>
<line x1="82.5" y1="641.5" x2="82.5" y2="680.08" stroke="#2e2a2c" stroke-width="1"/>
<line x1="78.6" y1="641.5" x2="85.6" y2="641.5" stroke="#2e2a2c" stroke-width="1"/>
<line x1="78.6" y1="680.5" x2="85.6" y2="680.5" stroke="#2e2a2c" stroke-width="1"/>
<line x1="75.3" y1="660.5" x2="88.9" y2="660.5" stroke="#2e2a2c" stroke-width="1"/>
<line x1="60.5" y1="615.5" x2="82.4" y2="615.5" stroke="#4a4a4a" stroke-width="1.25"/>
<text x="71.52" y="615.5" font-size="7" text-anchor="middle" fill="#222" letter-spacing="0.25">*</text>
<text x="147.8" y="599.5" font-size="8.4" text-anchor="middle" fill="#2a2a2a" stroke="#2a2a2a" stroke-width="0.2" textLength="46" lengthAdjust="spacingAndGlyphs" dy="0.35em">Adriamycin</text>
<line x1="123.5" y1="610" x2="123.5" y2="697.2" stroke="#1e1e1e" stroke-width="1.2"/>
<line x1="121.3" y1="697.5" x2="123.8" y2="697.5" stroke="#1e1e1e" stroke-width="0.8"/>
<text x="117.4" y="697" font-size="6.5" text-anchor="end" fill="#2e2e2e" stroke="#2e2e2e" stroke-width="0.2" dy="0.35em">0</text>
<line x1="121.3" y1="668.5" x2="123.8" y2="668.5" stroke="#1e1e1e" stroke-width="0.8"/>
<text x="117.4" y="668.83" font-size="6.5" text-anchor="end" fill="#2e2e2e" stroke="#2e2e2e" stroke-width="0.2" dy="0.35em">50</text>
<line x1="121.3" y1="640.5" x2="123.8" y2="640.5" stroke="#1e1e1e" stroke-width="0.8"/>
<text x="117.4" y="640.67" font-size="6.5" text-anchor="end" fill="#2e2e2e" stroke="#2e2e2e" stroke-width="0.2" dy="0.35em">100</text>
<line x1="121.3" y1="612.5" x2="123.8" y2="612.5" stroke="#1e1e1e" stroke-width="0.8"/>
<text x="117.4" y="612.5" font-size="6.5" text-anchor="end" fill="#2e2e2e" stroke="#2e2e2e" stroke-width="0.2" dy="0.35em">150</text>
<line x1="123.8" y1="697.5" x2="171.3" y2="697.5" stroke="#1e1e1e" stroke-width="1.2"/>
<circle cx="137.5" cy="635.03" r="1.45" fill="#fff" stroke="#5d6a7c" stroke-width="0.75"/>
<line x1="137.5" y1="658.69" x2="137.5" y2="674.47" stroke="#2a2f38" stroke-width="1"/>
<line x1="134" y1="658.5" x2="141" y2="658.5" stroke="#2a2f38" stroke-width="1"/>
<line x1="134" y1="674.5" x2="141" y2="674.5" stroke="#2a2f38" stroke-width="1"/>
<line x1="130.7" y1="667.5" x2="144.3" y2="667.5" stroke="#2a2f38" stroke-width="1"/>
<rect x="130.5" y="666.02" width="13.3" height="4.51" fill="#4a5468"/>
<circle cx="158" cy="627.71" r="1.45" fill="#fff" stroke="#c23a5a" stroke-width="0.75"/>
<circle cx="162.5" cy="633.34" r="1.45" fill="#fff" stroke="#c23a5a" stroke-width="0.75"/>
<circle cx="153" cy="668.83" r="1.45" fill="#fff" stroke="#c23a5a" stroke-width="0.75"/>
<circle cx="158" cy="668.83" r="1.45" fill="#fff" stroke="#c23a5a" stroke-width="0.75"/>
<circle cx="162.5" cy="668.83" r="1.45" fill="#fff" stroke="#c23a5a" stroke-width="0.75"/>
<circle cx="158" cy="643.48" r="1.45" fill="#fff" stroke="#c23a5a" stroke-width="0.75"/>
<circle cx="158" cy="656.44" r="1.45" fill="#fff" stroke="#c23a5a" stroke-width="0.75"/>
<circle cx="158" cy="663.2" r="1.45" fill="#fff" stroke="#c23a5a" stroke-width="0.75"/>
<circle cx="158" cy="643.48" r="1.45" fill="#7e1c3a" stroke="#7e1c3a" stroke-width="0.6"/>
<circle cx="158" cy="656.44" r="1.45" fill="#7e1c3a" stroke="#7e1c3a" stroke-width="0.6"/>
<line x1="158.5" y1="633.91" x2="158.5" y2="668.83" stroke="#2e2a2c" stroke-width="1"/>
<line x1="154.5" y1="633.5" x2="161.5" y2="633.5" stroke="#2e2a2c" stroke-width="1"/>
<line x1="154.5" y1="668.5" x2="161.5" y2="668.5" stroke="#2e2a2c" stroke-width="1"/>
<line x1="151.2" y1="650.5" x2="164.8" y2="650.5" stroke="#2e2a2c" stroke-width="1"/>
<line x1="136.3" y1="615.5" x2="158" y2="615.5" stroke="#4a4a4a" stroke-width="1.25"/>
<text x="147.12" y="615.7" font-size="7" text-anchor="middle" fill="#222" letter-spacing="0.25">**</text>
<text x="223.8" y="599.5" font-size="8.4" text-anchor="middle" fill="#2a2a2a" stroke="#2a2a2a" stroke-width="0.2" textLength="40.5" lengthAdjust="spacingAndGlyphs" dy="0.35em">Idarubicin</text>
<line x1="199.5" y1="610" x2="199.5" y2="697.2" stroke="#1e1e1e" stroke-width="1.2"/>
<line x1="197" y1="697.5" x2="199.5" y2="697.5" stroke="#1e1e1e" stroke-width="0.8"/>
<text x="193.1" y="697" font-size="6.5" text-anchor="end" fill="#2e2e2e" stroke="#2e2e2e" stroke-width="0.2" dy="0.35em">0</text>
<line x1="197" y1="668.5" x2="199.5" y2="668.5" stroke="#1e1e1e" stroke-width="0.8"/>
<text x="193.1" y="668.83" font-size="6.5" text-anchor="end" fill="#2e2e2e" stroke="#2e2e2e" stroke-width="0.2" dy="0.35em">100</text>
<line x1="197" y1="640.5" x2="199.5" y2="640.5" stroke="#1e1e1e" stroke-width="0.8"/>
<text x="193.1" y="640.67" font-size="6.5" text-anchor="end" fill="#2e2e2e" stroke="#2e2e2e" stroke-width="0.2" dy="0.35em">200</text>
<line x1="197" y1="612.5" x2="199.5" y2="612.5" stroke="#1e1e1e" stroke-width="0.8"/>
<text x="193.1" y="612.5" font-size="6.5" text-anchor="end" fill="#2e2e2e" stroke="#2e2e2e" stroke-width="0.2" dy="0.35em">300</text>
<line x1="199.5" y1="697.5" x2="247.5" y2="697.5" stroke="#1e1e1e" stroke-width="1.2"/>
<circle cx="213.8" cy="626.58" r="1.45" fill="#fff" stroke="#5d6a7c" stroke-width="0.75"/>
<circle cx="213.8" cy="631.65" r="1.45" fill="#fff" stroke="#5d6a7c" stroke-width="0.75"/>
<circle cx="209.8" cy="654.75" r="1.45" fill="#fff" stroke="#5d6a7c" stroke-width="0.75"/>
<circle cx="217.8" cy="655.31" r="1.45" fill="#fff" stroke="#5d6a7c" stroke-width="0.75"/>
<circle cx="211.8" cy="657.57" r="1.45" fill="#fff" stroke="#5d6a7c" stroke-width="0.75"/>
<circle cx="216.8" cy="658.13" r="1.45" fill="#fff" stroke="#5d6a7c" stroke-width="0.75"/>
<circle cx="208.8" cy="663.76" r="1.45" fill="#fff" stroke="#5d6a7c" stroke-width="0.75"/>
<circle cx="218.8" cy="663.2" r="1.45" fill="#fff" stroke="#5d6a7c" stroke-width="0.75"/>
<circle cx="211.3" cy="665.45" r="1.45" fill="#fff" stroke="#5d6a7c" stroke-width="0.75"/>
<circle cx="216.3" cy="666.02" r="1.45" fill="#fff" stroke="#5d6a7c" stroke-width="0.75"/>
<circle cx="212.8" cy="668.83" r="1.45" fill="#fff" stroke="#5d6a7c" stroke-width="0.75"/>
<circle cx="213.8" cy="675.88" r="1.45" fill="#fff" stroke="#5d6a7c" stroke-width="0.75"/>
<circle cx="209.3" cy="656.16" r="1.45" fill="#fff" stroke="#5d6a7c" stroke-width="0.75"/>
<circle cx="218.3" cy="656.72" r="1.45" fill="#fff" stroke="#5d6a7c" stroke-width="0.75"/>
<line x1="213.5" y1="644.05" x2="213.5" y2="668.83" stroke="#2a2f38" stroke-width="1"/>
<line x1="210.3" y1="644.5" x2="217.3" y2="644.5" stroke="#2a2f38" stroke-width="1"/>
<line x1="210.3" y1="668.5" x2="217.3" y2="668.5" stroke="#2a2f38" stroke-width="1"/>
<line x1="207" y1="656.5" x2="220.6" y2="656.5" stroke="#2a2f38" stroke-width="1"/>
<circle cx="233.3" cy="622.36" r="1.45" fill="#fff" stroke="#c23a5a" stroke-width="0.75"/>
<circle cx="233.3" cy="655.31" r="1.45" fill="#fff" stroke="#c23a5a" stroke-width="0.75"/>
<circle cx="233.3" cy="657.57" r="1.45" fill="#fff" stroke="#c23a5a" stroke-width="0.75"/>
<circle cx="233.3" cy="660.38" r="1.45" fill="#fff" stroke="#c23a5a" stroke-width="0.75"/>
<circle cx="233.3" cy="632.22" r="1.45" fill="#fff" stroke="#c23a5a" stroke-width="0.75"/>
<circle cx="233.3" cy="640.67" r="1.45" fill="#fff" stroke="#c23a5a" stroke-width="0.75"/>
<circle cx="233.3" cy="648.55" r="1.45" fill="#fff" stroke="#c23a5a" stroke-width="0.75"/>
<circle cx="233.3" cy="636.44" r="1.45" fill="#7e1c3a" stroke="#7e1c3a" stroke-width="0.6"/>
<circle cx="233.3" cy="646.3" r="1.45" fill="#7e1c3a" stroke="#7e1c3a" stroke-width="0.6"/>
<line x1="233.5" y1="629.4" x2="233.5" y2="655.31" stroke="#2e2a2c" stroke-width="1"/>
<line x1="229.8" y1="629.5" x2="236.8" y2="629.5" stroke="#2e2a2c" stroke-width="1"/>
<line x1="229.8" y1="655.5" x2="236.8" y2="655.5" stroke="#2e2a2c" stroke-width="1"/>
<line x1="226.5" y1="642.5" x2="240.1" y2="642.5" stroke="#2e2a2c" stroke-width="1"/>
<line x1="212.5" y1="615.5" x2="233.8" y2="615.5" stroke="#4a4a4a" stroke-width="1.25"/>
<text x="223.12" y="615.2" font-size="7" text-anchor="middle" fill="#222" letter-spacing="0.25">*</text>
<text x="298.4" y="599.5" font-size="8.4" text-anchor="middle" fill="#2a2a2a" stroke="#2a2a2a" stroke-width="0.2" textLength="56.2" lengthAdjust="spacingAndGlyphs" dy="0.35em">Mitoxantrone</text>
<line x1="275.5" y1="610" x2="275.5" y2="697.2" stroke="#1e1e1e" stroke-width="1.2"/>
<line x1="273.3" y1="697.5" x2="275.8" y2="697.5" stroke="#1e1e1e" stroke-width="0.8"/>
<text x="269.4" y="697" font-size="6.5" text-anchor="end" fill="#2e2e2e" stroke="#2e2e2e" stroke-width="0.2" dy="0.35em">0</text>
<line x1="273.3" y1="680.5" x2="275.8" y2="680.5" stroke="#1e1e1e" stroke-width="0.8"/>
<text x="269.4" y="680.1" font-size="6.5" text-anchor="end" fill="#2e2e2e" stroke="#2e2e2e" stroke-width="0.2" dy="0.35em">50</text>
<line x1="273.3" y1="663.5" x2="275.8" y2="663.5" stroke="#1e1e1e" stroke-width="0.8"/>
<text x="269.4" y="663.2" font-size="6.5" text-anchor="end" fill="#2e2e2e" stroke="#2e2e2e" stroke-width="0.2" dy="0.35em">100</text>
<line x1="273.3" y1="646.5" x2="275.8" y2="646.5" stroke="#1e1e1e" stroke-width="0.8"/>
<text x="269.4" y="646.3" font-size="6.5" text-anchor="end" fill="#2e2e2e" stroke="#2e2e2e" stroke-width="0.2" dy="0.35em">150</text>
<line x1="273.3" y1="629.5" x2="275.8" y2="629.5" stroke="#1e1e1e" stroke-width="0.8"/>
<text x="269.4" y="629.4" font-size="6.5" text-anchor="end" fill="#2e2e2e" stroke="#2e2e2e" stroke-width="0.2" dy="0.35em">200</text>
<line x1="273.3" y1="612.5" x2="275.8" y2="612.5" stroke="#1e1e1e" stroke-width="0.8"/>
<text x="269.4" y="612.5" font-size="6.5" text-anchor="end" fill="#2e2e2e" stroke="#2e2e2e" stroke-width="0.2" dy="0.35em">250</text>
<line x1="275.8" y1="697.5" x2="323.8" y2="697.5" stroke="#1e1e1e" stroke-width="1.2"/>
<circle cx="288.8" cy="622.64" r="1.45" fill="#fff" stroke="#5d6a7c" stroke-width="0.75"/>
<circle cx="288.8" cy="646.3" r="1.45" fill="#fff" stroke="#5d6a7c" stroke-width="0.75"/>
<circle cx="285.8" cy="653.74" r="1.45" fill="#fff" stroke="#5d6a7c" stroke-width="0.75"/>
<circle cx="291.8" cy="656.44" r="1.45" fill="#fff" stroke="#5d6a7c" stroke-width="0.75"/>
<circle cx="284.8" cy="663.2" r="1.45" fill="#fff" stroke="#5d6a7c" stroke-width="0.75"/>
<circle cx="292.3" cy="664.89" r="1.45" fill="#fff" stroke="#5d6a7c" stroke-width="0.75"/>
<circle cx="287.3" cy="665.9" r="1.45" fill="#fff" stroke="#5d6a7c" stroke-width="0.75"/>
<circle cx="292.8" cy="668.27" r="1.45" fill="#fff" stroke="#5d6a7c" stroke-width="0.75"/>
<circle cx="284.8" cy="669.96" r="1.45" fill="#fff" stroke="#5d6a7c" stroke-width="0.75"/>
<circle cx="290.8" cy="672.66" r="1.45" fill="#fff" stroke="#5d6a7c" stroke-width="0.75"/>
<circle cx="285.8" cy="676.04" r="1.45" fill="#fff" stroke="#5d6a7c" stroke-width="0.75"/>
<circle cx="291.8" cy="676.72" r="1.45" fill="#fff" stroke="#5d6a7c" stroke-width="0.75"/>
<circle cx="283.8" cy="680.1" r="1.45" fill="#fff" stroke="#5d6a7c" stroke-width="0.75"/>
<circle cx="286.8" cy="680.1" r="1.45" fill="#fff" stroke="#5d6a7c" stroke-width="0.75"/>
<circle cx="290.8" cy="680.1" r="1.45" fill="#fff" stroke="#5d6a7c" stroke-width="0.75"/>
<circle cx="293.8" cy="680.1" r="1.45" fill="#fff" stroke="#5d6a7c" stroke-width="0.75"/>
<circle cx="288.8" cy="678.41" r="1.45" fill="#fff" stroke="#5d6a7c" stroke-width="0.75"/>
<line x1="288.5" y1="652.05" x2="288.5" y2="680.1" stroke="#2a2f38" stroke-width="1"/>
<line x1="285.3" y1="652.5" x2="292.3" y2="652.5" stroke="#2a2f38" stroke-width="1"/>
<line x1="285.3" y1="680.5" x2="292.3" y2="680.5" stroke="#2a2f38" stroke-width="1"/>
<line x1="282" y1="666.5" x2="295.6" y2="666.5" stroke="#2a2f38" stroke-width="1"/>
<circle cx="305.2" cy="619.94" r="1.45" fill="#fff" stroke="#c23a5a" stroke-width="0.75"/>
<circle cx="309.8" cy="619.94" r="1.45" fill="#fff" stroke="#c23a5a" stroke-width="0.75"/>
<circle cx="307.5" cy="629.4" r="1.45" fill="#fff" stroke="#c23a5a" stroke-width="0.75"/>
<circle cx="307.5" cy="646.3" r="1.45" fill="#fff" stroke="#c23a5a" stroke-width="0.75"/>
<circle cx="307.5" cy="649.68" r="1.45" fill="#fff" stroke="#c23a5a" stroke-width="0.75"/>
<circle cx="307.5" cy="664.89" r="1.45" fill="#fff" stroke="#c23a5a" stroke-width="0.75"/>
<circle cx="307.5" cy="675.03" r="1.45" fill="#fff" stroke="#c23a5a" stroke-width="0.75"/>
<circle cx="307.5" cy="634.47" r="1.45" fill="#7e1c3a" stroke="#7e1c3a" stroke-width="0.6"/>
<circle cx="307.5" cy="651.37" r="1.45" fill="#7e1c3a" stroke="#7e1c3a" stroke-width="0.6"/>
<line x1="307.5" y1="623.32" x2="307.5" y2="662.19" stroke="#2e2a2c" stroke-width="1"/>
<line x1="304" y1="623.5" x2="311" y2="623.5" stroke="#2e2a2c" stroke-width="1"/>
<line x1="304" y1="662.5" x2="311" y2="662.5" stroke="#2e2a2c" stroke-width="1"/>
<line x1="300.7" y1="642.5" x2="314.3" y2="642.5" stroke="#2e2a2c" stroke-width="1"/>
<line x1="287" y1="613.5" x2="308" y2="613.5" stroke="#4a4a4a" stroke-width="1.25"/>
<text x="297.62" y="614" font-size="7" text-anchor="middle" fill="#222" letter-spacing="0.25">**</text>
<text x="378.1" y="599.5" font-size="8.4" text-anchor="middle" fill="#2a2a2a" stroke="#2a2a2a" stroke-width="0.2" textLength="41.7" lengthAdjust="spacingAndGlyphs" dy="0.35em">Etoposide</text>
<line x1="353.5" y1="608.5" x2="353.5" y2="697.2" stroke="#1e1e1e" stroke-width="1.2"/>
<line x1="351.3" y1="697.5" x2="353.8" y2="697.5" stroke="#1e1e1e" stroke-width="0.8"/>
<text x="347.4" y="697" font-size="6.5" text-anchor="end" fill="#2e2e2e" stroke="#2e2e2e" stroke-width="0.2" dy="0.35em">0</text>
<line x1="351.3" y1="679.5" x2="353.8" y2="679.5" stroke="#1e1e1e" stroke-width="0.8"/>
<text x="347.4" y="679.76" font-size="6.5" text-anchor="end" fill="#2e2e2e" stroke="#2e2e2e" stroke-width="0.2" dy="0.35em">50</text>
<line x1="351.3" y1="662.5" x2="353.8" y2="662.5" stroke="#1e1e1e" stroke-width="0.8"/>
<text x="347.4" y="662.52" font-size="6.5" text-anchor="end" fill="#2e2e2e" stroke="#2e2e2e" stroke-width="0.2" dy="0.35em">100</text>
<line x1="351.3" y1="645.5" x2="353.8" y2="645.5" stroke="#1e1e1e" stroke-width="0.8"/>
<text x="347.4" y="645.28" font-size="6.5" text-anchor="end" fill="#2e2e2e" stroke="#2e2e2e" stroke-width="0.2" dy="0.35em">150</text>
<line x1="351.3" y1="628.5" x2="353.8" y2="628.5" stroke="#1e1e1e" stroke-width="0.8"/>
<text x="347.4" y="628.04" font-size="6.5" text-anchor="end" fill="#2e2e2e" stroke="#2e2e2e" stroke-width="0.2" dy="0.35em">200</text>
<line x1="351.3" y1="610.5" x2="353.8" y2="610.5" stroke="#1e1e1e" stroke-width="0.8"/>
<text x="347.4" y="610.8" font-size="6.5" text-anchor="end" fill="#2e2e2e" stroke="#2e2e2e" stroke-width="0.2" dy="0.35em">250</text>
<line x1="353.8" y1="697.5" x2="401.3" y2="697.5" stroke="#1e1e1e" stroke-width="1.2"/>
<circle cx="367.5" cy="645.28" r="1.45" fill="#fff" stroke="#5d6a7c" stroke-width="0.75"/>
<circle cx="366" cy="648.73" r="1.45" fill="#fff" stroke="#5d6a7c" stroke-width="0.75"/>
<circle cx="369" cy="652.18" r="1.45" fill="#fff" stroke="#5d6a7c" stroke-width="0.75"/>
<circle cx="367.5" cy="655.62" r="1.45" fill="#fff" stroke="#5d6a7c" stroke-width="0.75"/>
<circle cx="370.12" cy="676.4" r="1.45" fill="#fff" stroke="#5d6a7c" stroke-width="0.75"/>
<circle cx="362.54" cy="678.24" r="1.45" fill="#fff" stroke="#5d6a7c" stroke-width="0.75"/>
<circle cx="367.41" cy="677.08" r="1.45" fill="#fff" stroke="#5d6a7c" stroke-width="0.75"/>
<circle cx="364.35" cy="678.23" r="1.45" fill="#fff" stroke="#5d6a7c" stroke-width="0.75"/>
<circle cx="365.97" cy="676.95" r="1.45" fill="#fff" stroke="#5d6a7c" stroke-width="0.75"/>
<circle cx="365.11" cy="676.52" r="1.45" fill="#fff" stroke="#5d6a7c" stroke-width="0.75"/>
<circle cx="365.34" cy="679.29" r="1.45" fill="#fff" stroke="#5d6a7c" stroke-width="0.75"/>
<circle cx="369.49" cy="678.21" r="1.45" fill="#fff" stroke="#5d6a7c" stroke-width="0.75"/>
<circle cx="363.6" cy="677.69" r="1.45" fill="#fff" stroke="#5d6a7c" stroke-width="0.75"/>
<circle cx="363.31" cy="677.12" r="1.45" fill="#fff" stroke="#5d6a7c" stroke-width="0.75"/>
<circle cx="369.47" cy="677.12" r="1.45" fill="#fff" stroke="#5d6a7c" stroke-width="0.75"/>
<circle cx="368.78" cy="678.76" r="1.45" fill="#fff" stroke="#5d6a7c" stroke-width="0.75"/>
<line x1="367.5" y1="660.11" x2="367.5" y2="685.62" stroke="#2a2f38" stroke-width="1"/>
<line x1="364" y1="660.5" x2="371" y2="660.5" stroke="#2a2f38" stroke-width="1"/>
<line x1="364" y1="685.5" x2="371" y2="685.5" stroke="#2a2f38" stroke-width="1"/>
<line x1="360.7" y1="672.5" x2="374.3" y2="672.5" stroke="#2a2f38" stroke-width="1"/>
<rect x="362.5" y="677" width="10" height="2.76" fill="#6f8fae" opacity="0.55"/>
<circle cx="388" cy="629.07" r="1.45" fill="#fff" stroke="#c23a5a" stroke-width="0.75"/>
<circle cx="388" cy="633.21" r="1.45" fill="#fff" stroke="#c23a5a" stroke-width="0.75"/>
<circle cx="383.7" cy="648.73" r="1.45" fill="#fff" stroke="#c23a5a" stroke-width="0.75"/>
<circle cx="383" cy="679.76" r="1.45" fill="#fff" stroke="#c23a5a" stroke-width="0.75"/>
<circle cx="388" cy="679.76" r="1.45" fill="#fff" stroke="#c23a5a" stroke-width="0.75"/>
<circle cx="393" cy="679.76" r="1.45" fill="#fff" stroke="#c23a5a" stroke-width="0.75"/>
<circle cx="388" cy="662.52" r="1.45" fill="#fff" stroke="#c23a5a" stroke-width="0.75"/>
<circle cx="388" cy="667.69" r="1.45" fill="#fff" stroke="#c23a5a" stroke-width="0.75"/>
<circle cx="388" cy="674.59" r="1.45" fill="#fff" stroke="#c23a5a" stroke-width="0.75"/>
<circle cx="388" cy="647" r="1.45" fill="#7e1c3a" stroke="#7e1c3a" stroke-width="0.6"/>
<circle cx="388" cy="662.52" r="1.45" fill="#7e1c3a" stroke="#7e1c3a" stroke-width="0.6"/>
<circle cx="388" cy="672.86" r="1.45" fill="#7e1c3a" stroke="#7e1c3a" stroke-width="0.6"/>
<line x1="388.5" y1="639.42" x2="388.5" y2="678.73" stroke="#2e2a2c" stroke-width="1"/>
<line x1="384.5" y1="639.5" x2="391.5" y2="639.5" stroke="#2e2a2c" stroke-width="1"/>
<line x1="384.5" y1="678.5" x2="391.5" y2="678.5" stroke="#2e2a2c" stroke-width="1"/>
<line x1="381.2" y1="659.5" x2="394.8" y2="659.5" stroke="#2e2a2c" stroke-width="1"/>
<line x1="367.5" y1="613.5" x2="389.5" y2="613.5" stroke="#4a4a4a" stroke-width="1.25"/>
<text x="378.12" y="613.2" font-size="7" text-anchor="middle" fill="#222" letter-spacing="0.25">*</text>
<text x="453.8" y="599.5" font-size="8.4" text-anchor="middle" fill="#2a2a2a" stroke="#2a2a2a" stroke-width="0.2" textLength="49" lengthAdjust="spacingAndGlyphs" dy="0.35em">Fludarabine</text>
<line x1="429.5" y1="608.5" x2="429.5" y2="697.2" stroke="#1e1e1e" stroke-width="1.2"/>
<line x1="427.3" y1="697.5" x2="429.8" y2="697.5" stroke="#1e1e1e" stroke-width="0.8"/>
<text x="423.4" y="697" font-size="6.5" text-anchor="end" fill="#2e2e2e" stroke="#2e2e2e" stroke-width="0.2" dy="0.35em">0</text>
<line x1="427.3" y1="668.5" x2="429.8" y2="668.5" stroke="#1e1e1e" stroke-width="0.8"/>
<text x="423.4" y="668.2" font-size="6.5" text-anchor="end" fill="#2e2e2e" stroke="#2e2e2e" stroke-width="0.2" dy="0.35em">100</text>
<line x1="427.3" y1="639.5" x2="429.8" y2="639.5" stroke="#1e1e1e" stroke-width="0.8"/>
<text x="423.4" y="639.4" font-size="6.5" text-anchor="end" fill="#2e2e2e" stroke="#2e2e2e" stroke-width="0.2" dy="0.35em">200</text>
<line x1="427.3" y1="610.5" x2="429.8" y2="610.5" stroke="#1e1e1e" stroke-width="0.8"/>
<text x="423.4" y="610.6" font-size="6.5" text-anchor="end" fill="#2e2e2e" stroke="#2e2e2e" stroke-width="0.2" dy="0.35em">300</text>
<line x1="429.8" y1="697.5" x2="477" y2="697.5" stroke="#1e1e1e" stroke-width="1.2"/>
<circle cx="443.4" cy="618.09" r="1.45" fill="#fff" stroke="#5d6a7c" stroke-width="0.75"/>
<circle cx="444.4" cy="620.97" r="1.45" fill="#fff" stroke="#5d6a7c" stroke-width="0.75"/>
<circle cx="440.9" cy="652.36" r="1.45" fill="#fff" stroke="#5d6a7c" stroke-width="0.75"/>
<circle cx="446.9" cy="655.24" r="1.45" fill="#fff" stroke="#5d6a7c" stroke-width="0.75"/>
<circle cx="443.9" cy="673.96" r="1.45" fill="#fff" stroke="#5d6a7c" stroke-width="0.75"/>
<circle cx="440.9" cy="676.84" r="1.45" fill="#fff" stroke="#5d6a7c" stroke-width="0.75"/>
<circle cx="446.9" cy="678.28" r="1.45" fill="#fff" stroke="#5d6a7c" stroke-width="0.75"/>
<circle cx="438.9" cy="681.16" r="1.45" fill="#fff" stroke="#5d6a7c" stroke-width="0.75"/>
<circle cx="441.9" cy="682.6" r="1.45" fill="#fff" stroke="#5d6a7c" stroke-width="0.75"/>
<circle cx="445.9" cy="682.6" r="1.45" fill="#fff" stroke="#5d6a7c" stroke-width="0.75"/>
<circle cx="448.9" cy="682.6" r="1.45" fill="#fff" stroke="#5d6a7c" stroke-width="0.75"/>
<circle cx="443.9" cy="680.3" r="1.45" fill="#fff" stroke="#5d6a7c" stroke-width="0.75"/>
<line x1="443.5" y1="639.4" x2="443.5" y2="686.06" stroke="#2a2f38" stroke-width="1"/>
<line x1="440.4" y1="639.5" x2="447.4" y2="639.5" stroke="#2a2f38" stroke-width="1"/>
<line x1="440.4" y1="686.5" x2="447.4" y2="686.5" stroke="#2a2f38" stroke-width="1"/>
<line x1="437.1" y1="662.5" x2="450.7" y2="662.5" stroke="#2a2f38" stroke-width="1"/>
<circle cx="463.5" cy="620.68" r="1.45" fill="#fff" stroke="#c23a5a" stroke-width="0.75"/>
<circle cx="459.5" cy="642.28" r="1.45" fill="#fff" stroke="#c23a5a" stroke-width="0.75"/>
<circle cx="459.5" cy="656.68" r="1.45" fill="#fff" stroke="#c23a5a" stroke-width="0.75"/>
<circle cx="467.5" cy="656.1" r="1.45" fill="#fff" stroke="#c23a5a" stroke-width="0.75"/>
<circle cx="463.5" cy="658.12" r="1.45" fill="#fff" stroke="#c23a5a" stroke-width="0.75"/>
<circle cx="463.5" cy="675.4" r="1.45" fill="#fff" stroke="#c23a5a" stroke-width="0.75"/>
<circle cx="463.5" cy="643.72" r="1.45" fill="#fff" stroke="#c23a5a" stroke-width="0.75"/>
<circle cx="463.5" cy="637.96" r="1.45" fill="#7e1c3a" stroke="#7e1c3a" stroke-width="0.6"/>
<circle cx="463.5" cy="650.92" r="1.45" fill="#7e1c3a" stroke="#7e1c3a" stroke-width="0.6"/>
<line x1="463.5" y1="633.06" x2="463.5" y2="663.3" stroke="#2e2a2c" stroke-width="1"/>
<line x1="460" y1="633.5" x2="467" y2="633.5" stroke="#2e2a2c" stroke-width="1"/>
<line x1="460" y1="663.5" x2="467" y2="663.5" stroke="#2e2a2c" stroke-width="1"/>
<line x1="456.7" y1="648.5" x2="470.3" y2="648.5" stroke="#2e2a2c" stroke-width="1"/>
<text x="454.3" y="611.2" font-size="6.6" text-anchor="middle" fill="#2e2e2e" stroke="#2e2e2e" stroke-width="0.2" textLength="25" lengthAdjust="spacingAndGlyphs" dy="0.35em"><tspan font-style="italic">P</tspan> = .103</text>
<line x1="443.4" y1="615.5" x2="465.4" y2="615.5" stroke="#4a4a4a" stroke-width="1.25"/>
<circle cx="481.3" cy="647.4" r="1.5" fill="#fff" stroke="#5d6a7c" stroke-width="0.7"/>
<text x="486" y="647.4" font-size="6.4" fill="#444" stroke="#444" stroke-width="0.2" textLength="24" lengthAdjust="spacingAndGlyphs" dy="0.35em">ATP-Low</text>
<circle cx="481.3" cy="657" r="1.5" fill="#fff" stroke="#c23a5a" stroke-width="0.7"/>
<text x="486" y="657" font-size="6.4" fill="#444" stroke="#444" stroke-width="0.2" textLength="27" lengthAdjust="spacingAndGlyphs" dy="0.35em">ATP-High</text>
</svg>
</body></html>
